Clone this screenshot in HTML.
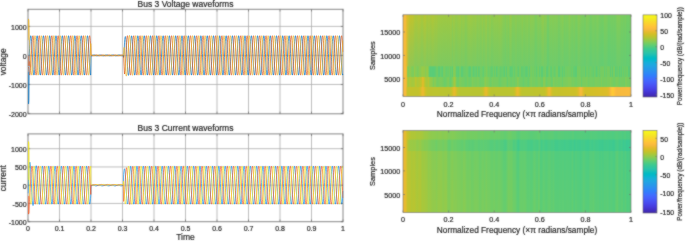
<!DOCTYPE html>
<html><head><meta charset="utf-8"><style>
html,body{margin:0;padding:0;background:#fff;width:685px;height:241px;overflow:hidden}
svg{display:block;will-change:transform}
text{font-family:"Liberation Sans",sans-serif;stroke:#555;stroke-width:0.24px;paint-order:stroke}
</style></head><body>
<svg width="685" height="241" viewBox="0 0 685 241" font-family="&quot;Liberation Sans&quot;, sans-serif">
<defs><filter id="soft" x="0" y="0" width="685" height="241" filterUnits="userSpaceOnUse" color-interpolation-filters="sRGB"><feConvolveMatrix order="3" kernelMatrix="1 2 1 2 16 2 1 2 1" divisor="28" edgeMode="duplicate"/></filter></defs><g filter="url(#soft)">
<rect width="685" height="241" fill="#fff"/>
<clipPath id="c9"><rect x="27.5" y="8.8" width="316.0" height="105.5"/></clipPath>
<path d="M59.50 9.3V113.8M91.00 9.3V113.8M122.50 9.3V113.8M154.00 9.3V113.8M185.50 9.3V113.8M217.00 9.3V113.8M248.50 9.3V113.8M280.00 9.3V113.8M311.50 9.3V113.8M28.0 26.40H343.0M28.0 55.43H343.0M28.0 84.46H343.0" stroke="#a8a8a8" stroke-width="0.75" fill="none"/>
<rect x="28.0" y="9.3" width="315.0" height="104.50" fill="none" stroke="#888" stroke-width="1.0"/>
</g>
<g clip-path="url(#c9)" fill="none" stroke-width="0.7" stroke-linejoin="round">
<path stroke="#0b74c0" d="M28.00 103.62L28.23 103.62L28.45 103.62L28.68 100.24L28.90 81.20L29.12 58.28L29.35 53.04L29.57 48.74L29.80 44.77L30.02 41.34L30.25 38.62L30.48 36.74L30.70 35.79L30.93 35.83L31.15 36.86L31.38 38.81L31.60 41.60L31.82 45.08L32.05 49.08L32.27 53.40L32.50 57.82L32.73 62.12L32.95 66.09L33.17 69.52L33.40 72.24L33.62 74.12L33.85 75.07L34.08 75.03L34.30 74.00L34.52 72.05L34.75 69.26L34.98 65.78L35.20 61.78L35.42 57.46L35.65 53.04L35.88 48.74L36.10 44.77L36.33 41.34L36.55 38.62L36.77 36.74L37.00 35.79L37.23 35.83L37.45 36.86L37.67 38.81L37.90 41.60L38.12 45.08L38.35 49.08L38.58 53.40L38.80 57.82L39.02 62.12L39.25 66.09L39.48 69.52L39.70 72.24L39.92 74.12L40.15 75.07L40.38 75.03L40.60 74.00L40.83 72.05L41.05 69.26L41.27 65.78L41.50 61.78L41.73 57.46L41.95 53.04L42.17 48.74L42.40 44.77L42.62 41.34L42.85 38.62L43.08 36.74L43.30 35.79L43.52 35.83L43.75 36.86L43.98 38.81L44.20 41.60L44.42 45.08L44.65 49.08L44.88 53.40L45.10 57.82L45.33 62.12L45.55 66.09L45.77 69.52L46.00 72.24L46.23 74.12L46.45 75.07L46.67 75.03L46.90 74.00L47.12 72.05L47.35 69.26L47.58 65.78L47.80 61.78L48.02 57.46L48.25 53.04L48.48 48.74L48.70 44.77L48.92 41.34L49.15 38.62L49.38 36.74L49.60 35.79L49.83 35.83L50.05 36.86L50.28 38.81L50.50 41.60L50.73 45.08L50.95 49.08L51.17 53.40L51.40 57.82L51.62 62.12L51.85 66.09L52.08 69.52L52.30 72.24L52.53 74.12L52.75 75.07L52.97 75.03L53.20 74.00L53.42 72.05L53.65 69.26L53.88 65.78L54.10 61.78L54.33 57.46L54.55 53.04L54.78 48.74L55.00 44.77L55.22 41.34L55.45 38.62L55.67 36.74L55.90 35.79L56.12 35.83L56.35 36.86L56.58 38.81L56.80 41.60L57.02 45.08L57.25 49.08L57.47 53.40L57.70 57.82L57.92 62.12L58.15 66.09L58.38 69.52L58.60 72.24L58.83 74.12L59.05 75.07L59.27 75.03L59.50 74.00L59.73 72.05L59.95 69.26L60.18 65.78L60.40 61.78L60.62 57.46L60.85 53.04L61.07 48.74L61.30 44.77L61.52 41.34L61.75 38.62L61.98 36.74L62.20 35.79L62.43 35.83L62.65 36.86L62.88 38.81L63.10 41.60L63.33 45.08L63.55 49.08L63.77 53.40L64.00 57.82L64.22 62.12L64.45 66.09L64.67 69.52L64.90 72.24L65.12 74.12L65.35 75.07L65.58 75.03L65.80 74.00L66.03 72.05L66.25 69.26L66.47 65.78L66.70 61.78L66.92 57.46L67.15 53.04L67.38 48.74L67.60 44.77L67.82 41.34L68.05 38.62L68.28 36.74L68.50 35.79L68.72 35.83L68.95 36.86L69.18 38.81L69.40 41.60L69.62 45.08L69.85 49.08L70.07 53.40L70.30 57.82L70.53 62.12L70.75 66.09L70.97 69.52L71.20 72.24L71.42 74.12L71.65 75.07L71.88 75.03L72.10 74.00L72.32 72.05L72.55 69.26L72.78 65.78L73.00 61.78L73.22 57.46L73.45 53.04L73.67 48.74L73.90 44.77L74.12 41.34L74.35 38.62L74.57 36.74L74.80 35.79L75.03 35.83L75.25 36.86L75.47 38.81L75.70 41.60L75.92 45.08L76.15 49.08L76.38 53.40L76.60 57.82L76.83 62.12L77.05 66.09L77.28 69.52L77.50 72.24L77.72 74.12L77.95 75.07L78.17 75.03L78.40 74.00L78.62 72.05L78.85 69.26L79.08 65.78L79.30 61.78L79.53 57.46L79.75 53.04L79.97 48.74L80.20 44.77L80.42 41.34L80.65 38.62L80.88 36.74L81.10 35.79L81.33 35.83L81.55 36.86L81.78 38.81L82.00 41.60L82.22 45.08L82.45 49.08L82.67 53.40L82.90 57.82L83.12 62.12L83.35 66.09L83.58 69.52L83.80 72.24L84.03 74.12L84.25 75.07L84.47 75.03L84.70 74.00L84.92 72.05L85.15 69.26L85.38 65.78L85.60 61.78L85.83 57.46L86.05 53.04L86.28 48.74L86.50 44.77L86.72 41.34L86.95 38.62L87.18 36.74L87.40 35.79L87.62 35.83L87.85 36.86L88.08 38.81L88.30 41.60L88.53 45.08L88.75 49.08L88.97 53.40L89.20 57.82L89.43 62.12L89.65 66.09L89.88 69.52L90.10 72.24L90.33 74.12L90.55 75.07L90.78 75.03L91.00 55.81L91.22 55.77L91.45 55.71L91.68 55.64L91.90 55.56L92.12 55.47L92.35 55.38L92.58 55.29L92.80 55.21L93.03 55.14L93.25 55.08L93.47 55.05L93.70 55.03L93.92 55.03L94.15 55.05L94.38 55.09L94.60 55.15L94.83 55.22L95.05 55.30L95.28 55.39L95.50 55.48L95.72 55.57L95.95 55.65L96.17 55.72L96.40 55.78L96.62 55.81L96.85 55.83L97.08 55.83L97.30 55.81L97.53 55.77L97.75 55.71L97.97 55.64L98.20 55.56L98.42 55.47L98.65 55.38L98.88 55.29L99.10 55.21L99.33 55.14L99.55 55.08L99.78 55.05L100.00 55.03L100.22 55.03L100.45 55.05L100.67 55.09L100.90 55.15L101.12 55.22L101.35 55.30L101.58 55.39L101.80 55.48L102.02 55.57L102.25 55.65L102.47 55.72L102.70 55.78L102.92 55.81L103.15 55.83L103.38 55.83L103.60 55.81L103.83 55.77L104.05 55.71L104.27 55.64L104.50 55.56L104.73 55.47L104.95 55.38L105.17 55.29L105.40 55.21L105.62 55.14L105.85 55.08L106.08 55.05L106.30 55.03L106.52 55.03L106.75 55.05L106.98 55.09L107.20 55.15L107.43 55.22L107.65 55.30L107.88 55.39L108.10 55.48L108.33 55.57L108.55 55.65L108.78 55.72L109.00 55.78L109.22 55.81L109.45 55.83L109.67 55.83L109.90 55.81L110.12 55.77L110.35 55.71L110.57 55.64L110.80 55.56L111.03 55.47L111.25 55.38L111.48 55.29L111.70 55.21L111.92 55.14L112.15 55.08L112.38 55.05L112.60 55.03L112.83 55.03L113.05 55.05L113.28 55.09L113.50 55.15L113.72 55.22L113.95 55.30L114.17 55.39L114.40 55.48L114.62 55.57L114.85 55.65L115.07 55.72L115.30 55.78L115.53 55.81L115.75 55.83L115.98 55.83L116.20 55.81L116.42 55.77L116.65 55.71L116.88 55.64L117.10 55.56L117.33 55.47L117.55 55.38L117.77 55.29L118.00 55.21L118.22 55.14L118.45 55.08L118.67 55.05L118.90 55.03L119.13 55.03L119.35 55.05L119.58 55.09L119.80 55.15L120.03 55.22L120.25 55.30L120.48 55.39L120.70 55.48L120.92 55.57L121.15 55.65L121.38 55.72L121.60 55.78L121.83 55.81L122.05 55.83L122.27 55.83L122.50 55.81L122.72 55.77L122.95 55.71L123.18 55.64L123.40 55.56L123.62 57.38L123.85 56.04L124.08 52.96L124.30 48.41L124.53 42.77L124.75 39.66L124.97 37.69L125.20 36.66L125.42 36.63L125.65 37.58L125.88 39.48L126.10 42.21L126.33 45.64L126.55 49.59L126.77 53.86L127.00 58.25L127.22 62.51L127.45 66.44L127.68 69.84L127.90 72.54L128.12 74.39L128.35 75.31L128.57 75.25L128.80 74.21L129.03 72.24L129.25 69.43L129.47 65.94L129.70 61.92L129.93 57.59L130.15 53.16L130.38 48.85L130.60 44.88L130.82 41.44L131.05 38.70L131.27 36.82L131.50 35.87L131.73 35.90L131.95 36.92L132.18 38.87L132.40 41.65L132.62 45.13L132.85 49.12L133.07 53.44L133.30 57.86L133.53 62.15L133.75 66.11L133.97 69.54L134.20 72.26L134.43 74.14L134.65 75.09L134.88 75.04L135.10 74.02L135.32 72.06L135.55 69.27L135.77 65.79L136.00 61.79L136.23 57.47L136.45 53.05L136.68 48.75L136.90 44.78L137.12 41.35L137.35 38.63L137.57 36.74L137.80 35.80L138.03 35.84L138.25 36.86L138.47 38.82L138.70 41.60L138.93 45.09L139.15 49.09L139.38 53.40L139.60 57.82L139.82 62.12L140.05 66.09L140.28 69.52L140.50 72.24L140.73 74.12L140.95 75.07L141.18 75.03L141.40 74.00L141.62 72.05L141.85 69.26L142.07 65.78L142.30 61.78L142.52 57.46L142.75 53.04L142.97 48.74L143.20 44.77L143.43 41.34L143.65 38.62L143.88 36.74L144.10 35.79L144.32 35.84L144.55 36.86L144.78 38.81L145.00 41.60L145.23 45.08L145.45 49.08L145.68 53.40L145.90 57.82L146.12 62.12L146.35 66.09L146.57 69.52L146.80 72.24L147.02 74.12L147.25 75.07L147.47 75.03L147.70 74.00L147.93 72.05L148.15 69.26L148.38 65.78L148.60 61.78L148.82 57.46L149.05 53.04L149.28 48.74L149.50 44.77L149.73 41.34L149.95 38.62L150.18 36.74L150.40 35.79L150.62 35.83L150.85 36.86L151.07 38.81L151.30 41.60L151.52 45.08L151.75 49.08L151.97 53.40L152.20 57.82L152.43 62.12L152.65 66.09L152.88 69.52L153.10 72.24L153.32 74.12L153.55 75.07L153.78 75.03L154.00 74.00L154.22 72.05L154.45 69.26L154.68 65.78L154.90 61.78L155.12 57.46L155.35 53.04L155.57 48.74L155.80 44.77L156.03 41.34L156.25 38.62L156.47 36.74L156.70 35.79L156.93 35.83L157.15 36.86L157.38 38.81L157.60 41.60L157.82 45.08L158.05 49.08L158.28 53.40L158.50 57.82L158.72 62.12L158.95 66.09L159.18 69.52L159.40 72.24L159.62 74.12L159.85 75.07L160.07 75.03L160.30 74.00L160.53 72.05L160.75 69.26L160.97 65.78L161.20 61.78L161.43 57.46L161.65 53.04L161.88 48.74L162.10 44.77L162.32 41.34L162.55 38.62L162.78 36.74L163.00 35.79L163.22 35.83L163.45 36.86L163.68 38.81L163.90 41.60L164.12 45.08L164.35 49.08L164.57 53.40L164.80 57.82L165.03 62.12L165.25 66.09L165.47 69.52L165.70 72.24L165.92 74.12L166.15 75.07L166.38 75.03L166.60 74.00L166.83 72.05L167.05 69.26L167.27 65.78L167.50 61.78L167.72 57.46L167.95 53.04L168.18 48.74L168.40 44.77L168.62 41.34L168.85 38.62L169.07 36.74L169.30 35.79L169.53 35.83L169.75 36.86L169.97 38.81L170.20 41.60L170.42 45.08L170.65 49.08L170.88 53.40L171.10 57.82L171.33 62.12L171.55 66.09L171.78 69.52L172.00 72.24L172.22 74.12L172.45 75.07L172.68 75.03L172.90 74.00L173.12 72.05L173.35 69.26L173.57 65.78L173.80 61.78L174.03 57.46L174.25 53.04L174.47 48.74L174.70 44.77L174.92 41.34L175.15 38.62L175.38 36.74L175.60 35.79L175.83 35.83L176.05 36.86L176.28 38.81L176.50 41.60L176.72 45.08L176.95 49.08L177.18 53.40L177.40 57.82L177.62 62.12L177.85 66.09L178.07 69.52L178.30 72.24L178.53 74.12L178.75 75.07L178.97 75.03L179.20 74.00L179.42 72.05L179.65 69.26L179.88 65.78L180.10 61.78L180.33 57.46L180.55 53.04L180.78 48.74L181.00 44.77L181.22 41.34L181.45 38.62L181.68 36.74L181.90 35.79L182.12 35.83L182.35 36.86L182.57 38.81L182.80 41.60L183.03 45.08L183.25 49.08L183.47 53.40L183.70 57.82L183.93 62.12L184.15 66.09L184.38 69.52L184.60 72.24L184.82 74.12L185.05 75.07L185.28 75.03L185.50 74.00L185.72 72.05L185.95 69.26L186.17 65.78L186.40 61.78L186.62 57.46L186.85 53.04L187.07 48.74L187.30 44.77L187.53 41.34L187.75 38.62L187.98 36.74L188.20 35.79L188.42 35.83L188.65 36.86L188.88 38.81L189.10 41.60L189.32 45.08L189.55 49.08L189.78 53.40L190.00 57.82L190.22 62.12L190.45 66.09L190.68 69.52L190.90 72.24L191.13 74.12L191.35 75.07L191.57 75.03L191.80 74.00L192.02 72.05L192.25 69.26L192.47 65.78L192.70 61.78L192.93 57.46L193.15 53.04L193.38 48.74L193.60 44.77L193.83 41.34L194.05 38.62L194.27 36.74L194.50 35.79L194.72 35.83L194.95 36.86L195.17 38.81L195.40 41.60L195.62 45.08L195.85 49.08L196.08 53.40L196.30 57.82L196.53 62.12L196.75 66.09L196.98 69.52L197.20 72.24L197.42 74.12L197.65 75.07L197.88 75.03L198.10 74.00L198.32 72.05L198.55 69.26L198.78 65.78L199.00 61.78L199.22 57.46L199.45 53.04L199.68 48.74L199.90 44.77L200.12 41.34L200.35 38.62L200.57 36.74L200.80 35.79L201.03 35.83L201.25 36.86L201.47 38.81L201.70 41.60L201.93 45.08L202.15 49.08L202.38 53.40L202.60 57.82L202.83 62.12L203.05 66.09L203.27 69.52L203.50 72.24L203.72 74.12L203.95 75.07L204.17 75.03L204.40 74.00L204.62 72.05L204.85 69.26L205.08 65.78L205.30 61.78L205.53 57.46L205.75 53.04L205.97 48.74L206.20 44.77L206.42 41.34L206.65 38.62L206.88 36.74L207.10 35.79L207.32 35.83L207.55 36.86L207.78 38.81L208.00 41.60L208.23 45.08L208.45 49.08L208.68 53.40L208.90 57.82L209.12 62.12L209.35 66.09L209.57 69.52L209.80 72.24L210.03 74.12L210.25 75.07L210.47 75.03L210.70 74.00L210.93 72.05L211.15 69.26L211.38 65.78L211.60 61.78L211.82 57.46L212.05 53.04L212.27 48.74L212.50 44.77L212.72 41.34L212.95 38.62L213.18 36.74L213.40 35.79L213.62 35.83L213.85 36.86L214.08 38.81L214.30 41.60L214.53 45.08L214.75 49.08L214.97 53.40L215.20 57.82L215.42 62.12L215.65 66.09L215.88 69.52L216.10 72.24L216.32 74.12L216.55 75.07L216.78 75.03L217.00 74.00L217.23 72.05L217.45 69.26L217.67 65.78L217.90 61.78L218.12 57.46L218.35 53.04L218.57 48.74L218.80 44.77L219.03 41.34L219.25 38.62L219.47 36.74L219.70 35.79L219.93 35.83L220.15 36.86L220.38 38.81L220.60 41.60L220.82 45.08L221.05 49.08L221.28 53.40L221.50 57.82L221.72 62.12L221.95 66.09L222.18 69.52L222.40 72.24L222.62 74.12L222.85 75.07L223.08 75.03L223.30 74.00L223.52 72.05L223.75 69.26L223.97 65.78L224.20 61.78L224.42 57.46L224.65 53.04L224.88 48.74L225.10 44.77L225.33 41.34L225.55 38.62L225.78 36.74L226.00 35.79L226.23 35.83L226.45 36.86L226.67 38.81L226.90 41.60L227.12 45.08L227.35 49.08L227.57 53.40L227.80 57.82L228.03 62.12L228.25 66.09L228.47 69.52L228.70 72.24L228.93 74.12L229.15 75.07L229.37 75.03L229.60 74.00L229.82 72.05L230.05 69.26L230.28 65.78L230.50 61.78L230.72 57.46L230.95 53.04L231.18 48.74L231.40 44.77L231.62 41.34L231.85 38.62L232.08 36.74L232.30 35.79L232.52 35.83L232.75 36.86L232.97 38.81L233.20 41.60L233.43 45.08L233.65 49.08L233.88 53.40L234.10 57.82L234.33 62.12L234.55 66.09L234.78 69.52L235.00 72.24L235.22 74.12L235.45 75.07L235.67 75.03L235.90 74.00L236.12 72.05L236.35 69.26L236.57 65.78L236.80 61.78L237.03 57.46L237.25 53.04L237.48 48.74L237.70 44.77L237.93 41.34L238.15 38.62L238.38 36.74L238.60 35.79L238.82 35.83L239.05 36.86L239.28 38.81L239.50 41.60L239.72 45.08L239.95 49.08L240.18 53.40L240.40 57.82L240.62 62.12L240.85 66.09L241.07 69.52L241.30 72.24L241.52 74.12L241.75 75.07L241.97 75.03L242.20 74.00L242.43 72.05L242.65 69.26L242.88 65.78L243.10 61.78L243.33 57.46L243.55 53.04L243.78 48.74L244.00 44.77L244.22 41.34L244.45 38.62L244.67 36.74L244.90 35.79L245.12 35.83L245.35 36.86L245.58 38.81L245.80 41.60L246.03 45.08L246.25 49.08L246.48 53.40L246.70 57.82L246.92 62.12L247.15 66.09L247.38 69.52L247.60 72.24L247.82 74.12L248.05 75.07L248.28 75.03L248.50 74.00L248.72 72.05L248.95 69.26L249.18 65.78L249.40 61.78L249.63 57.46L249.85 53.04L250.07 48.74L250.30 44.77L250.53 41.34L250.75 38.62L250.97 36.74L251.20 35.79L251.43 35.83L251.65 36.86L251.88 38.81L252.10 41.60L252.33 45.08L252.55 49.08L252.77 53.40L253.00 57.82L253.22 62.12L253.45 66.09L253.67 69.52L253.90 72.24L254.12 74.12L254.35 75.07L254.58 75.03L254.80 74.00L255.03 72.05L255.25 69.26L255.48 65.78L255.70 61.78L255.92 57.46L256.15 53.04L256.38 48.74L256.60 44.77L256.82 41.34L257.05 38.62L257.27 36.74L257.50 35.79L257.73 35.83L257.95 36.86L258.18 38.81L258.40 41.60L258.62 45.08L258.85 49.08L259.07 53.40L259.30 57.82L259.52 62.12L259.75 66.09L259.98 69.52L260.20 72.24L260.43 74.12L260.65 75.07L260.88 75.03L261.10 74.00L261.32 72.05L261.55 69.26L261.77 65.78L262.00 61.78L262.23 57.46L262.45 53.04L262.68 48.74L262.90 44.77L263.12 41.34L263.35 38.62L263.58 36.74L263.80 35.79L264.02 35.83L264.25 36.86L264.48 38.81L264.70 41.60L264.92 45.08L265.15 49.08L265.38 53.40L265.60 57.82L265.82 62.12L266.05 66.09L266.27 69.52L266.50 72.24L266.73 74.12L266.95 75.07L267.17 75.03L267.40 74.00L267.62 72.05L267.85 69.26L268.07 65.78L268.30 61.78L268.52 57.46L268.75 53.04L268.98 48.74L269.20 44.77L269.43 41.34L269.65 38.62L269.88 36.74L270.10 35.79L270.32 35.83L270.55 36.86L270.77 38.81L271.00 41.60L271.23 45.08L271.45 49.08L271.68 53.40L271.90 57.82L272.12 62.12L272.35 66.09L272.58 69.52L272.80 72.24L273.02 74.12L273.25 75.07L273.48 75.03L273.70 74.00L273.92 72.05L274.15 69.26L274.38 65.78L274.60 61.78L274.83 57.46L275.05 53.04L275.27 48.74L275.50 44.77L275.73 41.34L275.95 38.62L276.17 36.74L276.40 35.79L276.62 35.83L276.85 36.86L277.07 38.81L277.30 41.60L277.52 45.08L277.75 49.08L277.98 53.40L278.20 57.82L278.43 62.12L278.65 66.09L278.88 69.52L279.10 72.24L279.32 74.12L279.55 75.07L279.77 75.03L280.00 74.00L280.23 72.05L280.45 69.26L280.68 65.78L280.90 61.78L281.12 57.46L281.35 53.04L281.58 48.74L281.80 44.77L282.02 41.34L282.25 38.62L282.48 36.74L282.70 35.79L282.92 35.83L283.15 36.86L283.38 38.81L283.60 41.60L283.83 45.08L284.05 49.08L284.28 53.40L284.50 57.82L284.72 62.12L284.95 66.09L285.18 69.52L285.40 72.24L285.62 74.12L285.85 75.07L286.07 75.03L286.30 74.00L286.52 72.05L286.75 69.26L286.98 65.78L287.20 61.78L287.43 57.46L287.65 53.04L287.88 48.74L288.10 44.77L288.32 41.34L288.55 38.62L288.77 36.74L289.00 35.79L289.23 35.83L289.45 36.86L289.68 38.81L289.90 41.60L290.12 45.08L290.35 49.08L290.57 53.40L290.80 57.82L291.02 62.12L291.25 66.09L291.47 69.52L291.70 72.24L291.93 74.12L292.15 75.07L292.38 75.03L292.60 74.00L292.82 72.05L293.05 69.26L293.28 65.78L293.50 61.78L293.72 57.46L293.95 53.04L294.18 48.74L294.40 44.77L294.62 41.34L294.85 38.62L295.07 36.74L295.30 35.79L295.53 35.83L295.75 36.86L295.98 38.81L296.20 41.60L296.43 45.08L296.65 49.08L296.88 53.40L297.10 57.82L297.32 62.12L297.55 66.09L297.77 69.52L298.00 72.24L298.23 74.12L298.45 75.07L298.68 75.03L298.90 74.00L299.12 72.05L299.35 69.26L299.57 65.78L299.80 61.78L300.02 57.46L300.25 53.04L300.48 48.74L300.70 44.77L300.93 41.34L301.15 38.62L301.38 36.74L301.60 35.79L301.82 35.83L302.05 36.86L302.27 38.81L302.50 41.60L302.72 45.08L302.95 49.08L303.18 53.40L303.40 57.82L303.62 62.12L303.85 66.09L304.07 69.52L304.30 72.24L304.53 74.12L304.75 75.07L304.98 75.03L305.20 74.00L305.43 72.05L305.65 69.26L305.88 65.78L306.10 61.78L306.32 57.46L306.55 53.04L306.77 48.74L307.00 44.77L307.23 41.34L307.45 38.62L307.68 36.74L307.90 35.79L308.12 35.83L308.35 36.86L308.57 38.81L308.80 41.60L309.02 45.08L309.25 49.08L309.48 53.40L309.70 57.82L309.93 62.12L310.15 66.09L310.38 69.52L310.60 72.24L310.82 74.12L311.05 75.07L311.27 75.03L311.50 74.00L311.72 72.05L311.95 69.26L312.18 65.78L312.40 61.78L312.62 57.46L312.85 53.04L313.07 48.74L313.30 44.77L313.53 41.34L313.75 38.62L313.97 36.74L314.20 35.79L314.43 35.83L314.65 36.86L314.88 38.81L315.10 41.60L315.32 45.08L315.55 49.08L315.78 53.40L316.00 57.82L316.23 62.12L316.45 66.09L316.68 69.52L316.90 72.24L317.12 74.12L317.35 75.07L317.57 75.03L317.80 74.00L318.02 72.05L318.25 69.26L318.48 65.78L318.70 61.78L318.93 57.46L319.15 53.04L319.38 48.74L319.60 44.77L319.82 41.34L320.05 38.62L320.27 36.74L320.50 35.79L320.73 35.83L320.95 36.86L321.18 38.81L321.40 41.60L321.62 45.08L321.85 49.08L322.07 53.40L322.30 57.82L322.53 62.12L322.75 66.09L322.97 69.52L323.20 72.24L323.43 74.12L323.65 75.07L323.88 75.03L324.10 74.00L324.32 72.05L324.55 69.26L324.78 65.78L325.00 61.78L325.23 57.46L325.45 53.04L325.68 48.74L325.90 44.77L326.12 41.34L326.35 38.62L326.57 36.74L326.80 35.79L327.02 35.83L327.25 36.86L327.48 38.81L327.70 41.60L327.93 45.08L328.15 49.08L328.38 53.40L328.60 57.82L328.82 62.12L329.05 66.09L329.27 69.52L329.50 72.24L329.73 74.12L329.95 75.07L330.18 75.03L330.40 74.00L330.62 72.05L330.85 69.26L331.07 65.78L331.30 61.78L331.52 57.46L331.75 53.04L331.97 48.74L332.20 44.77L332.43 41.34L332.65 38.62L332.88 36.74L333.10 35.79L333.32 35.83L333.55 36.86L333.78 38.81L334.00 41.60L334.23 45.08L334.45 49.08L334.68 53.40L334.90 57.82L335.12 62.12L335.35 66.09L335.57 69.52L335.80 72.24L336.02 74.12L336.25 75.07L336.48 75.03L336.70 74.00L336.93 72.05L337.15 69.26L337.38 65.78L337.60 61.78L337.82 57.46L338.05 53.04L338.27 48.74L338.50 44.77L338.73 41.34L338.95 38.62L339.18 36.74L339.40 35.79L339.62 35.83L339.85 36.86L340.07 38.81L340.30 41.60L340.52 45.08L340.75 49.08L340.97 53.40L341.20 57.82L341.43 62.12L341.65 66.09L341.88 69.52L342.10 72.24L342.32 74.12L342.55 75.07L342.78 75.03L343.00 74.00"/>
<path stroke="#db5b22" d="M28.00 67.62L28.23 67.62L28.45 67.62L28.68 67.37L28.90 68.06L29.12 71.35L29.35 73.60L29.57 74.86L29.80 75.15L30.02 74.45L30.25 72.80L30.48 70.27L30.70 67.01L30.93 63.16L31.15 58.92L31.38 54.51L31.60 50.15L31.82 46.05L32.05 42.42L32.27 39.44L32.50 37.26L32.73 36.00L32.95 35.71L33.17 36.41L33.40 38.06L33.62 40.59L33.85 43.85L34.08 47.70L34.30 51.94L34.52 56.35L34.75 60.71L34.98 64.81L35.20 68.44L35.42 71.42L35.65 73.60L35.88 74.86L36.10 75.15L36.33 74.45L36.55 72.80L36.77 70.27L37.00 67.01L37.23 63.16L37.45 58.92L37.67 54.51L37.90 50.15L38.12 46.05L38.35 42.42L38.58 39.44L38.80 37.26L39.02 36.00L39.25 35.71L39.48 36.41L39.70 38.06L39.92 40.59L40.15 43.85L40.38 47.70L40.60 51.94L40.83 56.35L41.05 60.71L41.27 64.81L41.50 68.44L41.73 71.42L41.95 73.60L42.17 74.86L42.40 75.15L42.62 74.45L42.85 72.80L43.08 70.27L43.30 67.01L43.52 63.16L43.75 58.92L43.98 54.51L44.20 50.15L44.42 46.05L44.65 42.42L44.88 39.44L45.10 37.26L45.33 36.00L45.55 35.71L45.77 36.41L46.00 38.06L46.23 40.59L46.45 43.85L46.67 47.70L46.90 51.94L47.12 56.35L47.35 60.71L47.58 64.81L47.80 68.44L48.02 71.42L48.25 73.60L48.48 74.86L48.70 75.15L48.92 74.45L49.15 72.80L49.38 70.27L49.60 67.01L49.83 63.16L50.05 58.92L50.28 54.51L50.50 50.15L50.73 46.05L50.95 42.42L51.17 39.44L51.40 37.26L51.62 36.00L51.85 35.71L52.08 36.41L52.30 38.06L52.53 40.59L52.75 43.85L52.97 47.70L53.20 51.94L53.42 56.35L53.65 60.71L53.88 64.81L54.10 68.44L54.33 71.42L54.55 73.60L54.78 74.86L55.00 75.15L55.22 74.45L55.45 72.80L55.67 70.27L55.90 67.01L56.12 63.16L56.35 58.92L56.58 54.51L56.80 50.15L57.02 46.05L57.25 42.42L57.47 39.44L57.70 37.26L57.92 36.00L58.15 35.71L58.38 36.41L58.60 38.06L58.83 40.59L59.05 43.85L59.27 47.70L59.50 51.94L59.73 56.35L59.95 60.71L60.18 64.81L60.40 68.44L60.62 71.42L60.85 73.60L61.07 74.86L61.30 75.15L61.52 74.45L61.75 72.80L61.98 70.27L62.20 67.01L62.43 63.16L62.65 58.92L62.88 54.51L63.10 50.15L63.33 46.05L63.55 42.42L63.77 39.44L64.00 37.26L64.22 36.00L64.45 35.71L64.67 36.41L64.90 38.06L65.12 40.59L65.35 43.85L65.58 47.70L65.80 51.94L66.03 56.35L66.25 60.71L66.47 64.81L66.70 68.44L66.92 71.42L67.15 73.60L67.38 74.86L67.60 75.15L67.82 74.45L68.05 72.80L68.28 70.27L68.50 67.01L68.72 63.16L68.95 58.92L69.18 54.51L69.40 50.15L69.62 46.05L69.85 42.42L70.07 39.44L70.30 37.26L70.53 36.00L70.75 35.71L70.97 36.41L71.20 38.06L71.42 40.59L71.65 43.85L71.88 47.70L72.10 51.94L72.32 56.35L72.55 60.71L72.78 64.81L73.00 68.44L73.22 71.42L73.45 73.60L73.67 74.86L73.90 75.15L74.12 74.45L74.35 72.80L74.57 70.27L74.80 67.01L75.03 63.16L75.25 58.92L75.47 54.51L75.70 50.15L75.92 46.05L76.15 42.42L76.38 39.44L76.60 37.26L76.83 36.00L77.05 35.71L77.28 36.41L77.50 38.06L77.72 40.59L77.95 43.85L78.17 47.70L78.40 51.94L78.62 56.35L78.85 60.71L79.08 64.81L79.30 68.44L79.53 71.42L79.75 73.60L79.97 74.86L80.20 75.15L80.42 74.45L80.65 72.80L80.88 70.27L81.10 67.01L81.33 63.16L81.55 58.92L81.78 54.51L82.00 50.15L82.22 46.05L82.45 42.42L82.67 39.44L82.90 37.26L83.12 36.00L83.35 35.71L83.58 36.41L83.80 38.06L84.03 40.59L84.25 43.85L84.47 47.70L84.70 51.94L84.92 56.35L85.15 60.71L85.38 64.81L85.60 68.44L85.83 71.42L86.05 73.60L86.28 74.86L86.50 75.15L86.72 74.45L86.95 72.80L87.18 70.27L87.40 67.01L87.62 63.16L87.85 58.92L88.08 54.51L88.30 50.15L88.53 46.05L88.75 42.42L88.97 39.44L89.20 37.26L89.43 36.00L89.65 35.71L89.88 36.41L90.10 38.06L90.33 40.59L90.55 43.85L90.78 47.70L91.00 55.36L91.22 55.45L91.45 55.54L91.68 55.62L91.90 55.70L92.12 55.76L92.35 55.80L92.58 55.83L92.80 55.84L93.03 55.82L93.25 55.79L93.47 55.74L93.70 55.67L93.92 55.59L94.15 55.50L94.38 55.41L94.60 55.32L94.83 55.24L95.05 55.16L95.28 55.10L95.50 55.06L95.72 55.03L95.95 55.02L96.17 55.04L96.40 55.07L96.62 55.12L96.85 55.19L97.08 55.27L97.30 55.36L97.53 55.45L97.75 55.54L97.97 55.62L98.20 55.70L98.42 55.76L98.65 55.80L98.88 55.83L99.10 55.84L99.33 55.82L99.55 55.79L99.78 55.74L100.00 55.67L100.22 55.59L100.45 55.50L100.67 55.41L100.90 55.32L101.12 55.24L101.35 55.16L101.58 55.10L101.80 55.06L102.02 55.03L102.25 55.02L102.47 55.04L102.70 55.07L102.92 55.12L103.15 55.19L103.38 55.27L103.60 55.36L103.83 55.45L104.05 55.54L104.27 55.62L104.50 55.70L104.73 55.76L104.95 55.80L105.17 55.83L105.40 55.84L105.62 55.82L105.85 55.79L106.08 55.74L106.30 55.67L106.52 55.59L106.75 55.50L106.98 55.41L107.20 55.32L107.43 55.24L107.65 55.16L107.88 55.10L108.10 55.06L108.33 55.03L108.55 55.02L108.78 55.04L109.00 55.07L109.22 55.12L109.45 55.19L109.67 55.27L109.90 55.36L110.12 55.45L110.35 55.54L110.57 55.62L110.80 55.70L111.03 55.76L111.25 55.80L111.48 55.83L111.70 55.84L111.92 55.82L112.15 55.79L112.38 55.74L112.60 55.67L112.83 55.59L113.05 55.50L113.28 55.41L113.50 55.32L113.72 55.24L113.95 55.16L114.17 55.10L114.40 55.06L114.62 55.03L114.85 55.02L115.07 55.04L115.30 55.07L115.53 55.12L115.75 55.19L115.98 55.27L116.20 55.36L116.42 55.45L116.65 55.54L116.88 55.62L117.10 55.70L117.33 55.76L117.55 55.80L117.77 55.83L118.00 55.84L118.22 55.82L118.45 55.79L118.67 55.74L118.90 55.67L119.13 55.59L119.35 55.50L119.58 55.41L119.80 55.32L120.03 55.24L120.25 55.16L120.48 55.10L120.70 55.06L120.92 55.03L121.15 55.02L121.38 55.04L121.60 55.07L121.83 55.12L122.05 55.19L122.27 55.27L122.50 55.36L122.72 55.45L122.95 55.54L123.18 55.62L123.40 55.70L123.62 58.04L123.85 62.10L124.08 66.53L124.30 70.72L124.53 74.06L124.75 72.80L124.97 70.27L125.20 67.01L125.42 63.16L125.65 58.92L125.88 54.51L126.10 50.15L126.33 46.05L126.55 42.42L126.77 39.44L127.00 37.26L127.22 36.00L127.45 35.71L127.68 36.41L127.90 38.06L128.12 40.59L128.35 43.85L128.57 47.70L128.80 51.94L129.03 56.35L129.25 60.71L129.47 64.81L129.70 68.44L129.93 71.42L130.15 73.60L130.38 74.86L130.60 75.15L130.82 74.45L131.05 72.80L131.27 70.27L131.50 67.01L131.73 63.16L131.95 58.92L132.18 54.51L132.40 50.15L132.62 46.05L132.85 42.42L133.07 39.44L133.30 37.26L133.53 36.00L133.75 35.71L133.97 36.41L134.20 38.06L134.43 40.59L134.65 43.85L134.88 47.70L135.10 51.94L135.32 56.35L135.55 60.71L135.77 64.81L136.00 68.44L136.23 71.42L136.45 73.60L136.68 74.86L136.90 75.15L137.12 74.45L137.35 72.80L137.57 70.27L137.80 67.01L138.03 63.16L138.25 58.92L138.47 54.51L138.70 50.15L138.93 46.05L139.15 42.42L139.38 39.44L139.60 37.26L139.82 36.00L140.05 35.71L140.28 36.41L140.50 38.06L140.73 40.59L140.95 43.85L141.18 47.70L141.40 51.94L141.62 56.35L141.85 60.71L142.07 64.81L142.30 68.44L142.52 71.42L142.75 73.60L142.97 74.86L143.20 75.15L143.43 74.45L143.65 72.80L143.88 70.27L144.10 67.01L144.32 63.16L144.55 58.92L144.78 54.51L145.00 50.15L145.23 46.05L145.45 42.42L145.68 39.44L145.90 37.26L146.12 36.00L146.35 35.71L146.57 36.41L146.80 38.06L147.02 40.59L147.25 43.85L147.47 47.70L147.70 51.94L147.93 56.35L148.15 60.71L148.38 64.81L148.60 68.44L148.82 71.42L149.05 73.60L149.28 74.86L149.50 75.15L149.73 74.45L149.95 72.80L150.18 70.27L150.40 67.01L150.62 63.16L150.85 58.92L151.07 54.51L151.30 50.15L151.52 46.05L151.75 42.42L151.97 39.44L152.20 37.26L152.43 36.00L152.65 35.71L152.88 36.41L153.10 38.06L153.32 40.59L153.55 43.85L153.78 47.70L154.00 51.94L154.22 56.35L154.45 60.71L154.68 64.81L154.90 68.44L155.12 71.42L155.35 73.60L155.57 74.86L155.80 75.15L156.03 74.45L156.25 72.80L156.47 70.27L156.70 67.01L156.93 63.16L157.15 58.92L157.38 54.51L157.60 50.15L157.82 46.05L158.05 42.42L158.28 39.44L158.50 37.26L158.72 36.00L158.95 35.71L159.18 36.41L159.40 38.06L159.62 40.59L159.85 43.85L160.07 47.70L160.30 51.94L160.53 56.35L160.75 60.71L160.97 64.81L161.20 68.44L161.43 71.42L161.65 73.60L161.88 74.86L162.10 75.15L162.32 74.45L162.55 72.80L162.78 70.27L163.00 67.01L163.22 63.16L163.45 58.92L163.68 54.51L163.90 50.15L164.12 46.05L164.35 42.42L164.57 39.44L164.80 37.26L165.03 36.00L165.25 35.71L165.47 36.41L165.70 38.06L165.92 40.59L166.15 43.85L166.38 47.70L166.60 51.94L166.83 56.35L167.05 60.71L167.27 64.81L167.50 68.44L167.72 71.42L167.95 73.60L168.18 74.86L168.40 75.15L168.62 74.45L168.85 72.80L169.07 70.27L169.30 67.01L169.53 63.16L169.75 58.92L169.97 54.51L170.20 50.15L170.42 46.05L170.65 42.42L170.88 39.44L171.10 37.26L171.33 36.00L171.55 35.71L171.78 36.41L172.00 38.06L172.22 40.59L172.45 43.85L172.68 47.70L172.90 51.94L173.12 56.35L173.35 60.71L173.57 64.81L173.80 68.44L174.03 71.42L174.25 73.60L174.47 74.86L174.70 75.15L174.92 74.45L175.15 72.80L175.38 70.27L175.60 67.01L175.83 63.16L176.05 58.92L176.28 54.51L176.50 50.15L176.72 46.05L176.95 42.42L177.18 39.44L177.40 37.26L177.62 36.00L177.85 35.71L178.07 36.41L178.30 38.06L178.53 40.59L178.75 43.85L178.97 47.70L179.20 51.94L179.42 56.35L179.65 60.71L179.88 64.81L180.10 68.44L180.33 71.42L180.55 73.60L180.78 74.86L181.00 75.15L181.22 74.45L181.45 72.80L181.68 70.27L181.90 67.01L182.12 63.16L182.35 58.92L182.57 54.51L182.80 50.15L183.03 46.05L183.25 42.42L183.47 39.44L183.70 37.26L183.93 36.00L184.15 35.71L184.38 36.41L184.60 38.06L184.82 40.59L185.05 43.85L185.28 47.70L185.50 51.94L185.72 56.35L185.95 60.71L186.17 64.81L186.40 68.44L186.62 71.42L186.85 73.60L187.07 74.86L187.30 75.15L187.53 74.45L187.75 72.80L187.98 70.27L188.20 67.01L188.42 63.16L188.65 58.92L188.88 54.51L189.10 50.15L189.32 46.05L189.55 42.42L189.78 39.44L190.00 37.26L190.22 36.00L190.45 35.71L190.68 36.41L190.90 38.06L191.13 40.59L191.35 43.85L191.57 47.70L191.80 51.94L192.02 56.35L192.25 60.71L192.47 64.81L192.70 68.44L192.93 71.42L193.15 73.60L193.38 74.86L193.60 75.15L193.83 74.45L194.05 72.80L194.27 70.27L194.50 67.01L194.72 63.16L194.95 58.92L195.17 54.51L195.40 50.15L195.62 46.05L195.85 42.42L196.08 39.44L196.30 37.26L196.53 36.00L196.75 35.71L196.98 36.41L197.20 38.06L197.42 40.59L197.65 43.85L197.88 47.70L198.10 51.94L198.32 56.35L198.55 60.71L198.78 64.81L199.00 68.44L199.22 71.42L199.45 73.60L199.68 74.86L199.90 75.15L200.12 74.45L200.35 72.80L200.57 70.27L200.80 67.01L201.03 63.16L201.25 58.92L201.47 54.51L201.70 50.15L201.93 46.05L202.15 42.42L202.38 39.44L202.60 37.26L202.83 36.00L203.05 35.71L203.27 36.41L203.50 38.06L203.72 40.59L203.95 43.85L204.17 47.70L204.40 51.94L204.62 56.35L204.85 60.71L205.08 64.81L205.30 68.44L205.53 71.42L205.75 73.60L205.97 74.86L206.20 75.15L206.42 74.45L206.65 72.80L206.88 70.27L207.10 67.01L207.32 63.16L207.55 58.92L207.78 54.51L208.00 50.15L208.23 46.05L208.45 42.42L208.68 39.44L208.90 37.26L209.12 36.00L209.35 35.71L209.57 36.41L209.80 38.06L210.03 40.59L210.25 43.85L210.47 47.70L210.70 51.94L210.93 56.35L211.15 60.71L211.38 64.81L211.60 68.44L211.82 71.42L212.05 73.60L212.27 74.86L212.50 75.15L212.72 74.45L212.95 72.80L213.18 70.27L213.40 67.01L213.62 63.16L213.85 58.92L214.08 54.51L214.30 50.15L214.53 46.05L214.75 42.42L214.97 39.44L215.20 37.26L215.42 36.00L215.65 35.71L215.88 36.41L216.10 38.06L216.32 40.59L216.55 43.85L216.78 47.70L217.00 51.94L217.23 56.35L217.45 60.71L217.67 64.81L217.90 68.44L218.12 71.42L218.35 73.60L218.57 74.86L218.80 75.15L219.03 74.45L219.25 72.80L219.47 70.27L219.70 67.01L219.93 63.16L220.15 58.92L220.38 54.51L220.60 50.15L220.82 46.05L221.05 42.42L221.28 39.44L221.50 37.26L221.72 36.00L221.95 35.71L222.18 36.41L222.40 38.06L222.62 40.59L222.85 43.85L223.08 47.70L223.30 51.94L223.52 56.35L223.75 60.71L223.97 64.81L224.20 68.44L224.42 71.42L224.65 73.60L224.88 74.86L225.10 75.15L225.33 74.45L225.55 72.80L225.78 70.27L226.00 67.01L226.23 63.16L226.45 58.92L226.67 54.51L226.90 50.15L227.12 46.05L227.35 42.42L227.57 39.44L227.80 37.26L228.03 36.00L228.25 35.71L228.47 36.41L228.70 38.06L228.93 40.59L229.15 43.85L229.37 47.70L229.60 51.94L229.82 56.35L230.05 60.71L230.28 64.81L230.50 68.44L230.72 71.42L230.95 73.60L231.18 74.86L231.40 75.15L231.62 74.45L231.85 72.80L232.08 70.27L232.30 67.01L232.52 63.16L232.75 58.92L232.97 54.51L233.20 50.15L233.43 46.05L233.65 42.42L233.88 39.44L234.10 37.26L234.33 36.00L234.55 35.71L234.78 36.41L235.00 38.06L235.22 40.59L235.45 43.85L235.67 47.70L235.90 51.94L236.12 56.35L236.35 60.71L236.57 64.81L236.80 68.44L237.03 71.42L237.25 73.60L237.48 74.86L237.70 75.15L237.93 74.45L238.15 72.80L238.38 70.27L238.60 67.01L238.82 63.16L239.05 58.92L239.28 54.51L239.50 50.15L239.72 46.05L239.95 42.42L240.18 39.44L240.40 37.26L240.62 36.00L240.85 35.71L241.07 36.41L241.30 38.06L241.52 40.59L241.75 43.85L241.97 47.70L242.20 51.94L242.43 56.35L242.65 60.71L242.88 64.81L243.10 68.44L243.33 71.42L243.55 73.60L243.78 74.86L244.00 75.15L244.22 74.45L244.45 72.80L244.67 70.27L244.90 67.01L245.12 63.16L245.35 58.92L245.58 54.51L245.80 50.15L246.03 46.05L246.25 42.42L246.48 39.44L246.70 37.26L246.92 36.00L247.15 35.71L247.38 36.41L247.60 38.06L247.82 40.59L248.05 43.85L248.28 47.70L248.50 51.94L248.72 56.35L248.95 60.71L249.18 64.81L249.40 68.44L249.63 71.42L249.85 73.60L250.07 74.86L250.30 75.15L250.53 74.45L250.75 72.80L250.97 70.27L251.20 67.01L251.43 63.16L251.65 58.92L251.88 54.51L252.10 50.15L252.33 46.05L252.55 42.42L252.77 39.44L253.00 37.26L253.22 36.00L253.45 35.71L253.67 36.41L253.90 38.06L254.12 40.59L254.35 43.85L254.58 47.70L254.80 51.94L255.03 56.35L255.25 60.71L255.48 64.81L255.70 68.44L255.92 71.42L256.15 73.60L256.38 74.86L256.60 75.15L256.82 74.45L257.05 72.80L257.27 70.27L257.50 67.01L257.73 63.16L257.95 58.92L258.18 54.51L258.40 50.15L258.62 46.05L258.85 42.42L259.07 39.44L259.30 37.26L259.52 36.00L259.75 35.71L259.98 36.41L260.20 38.06L260.43 40.59L260.65 43.85L260.88 47.70L261.10 51.94L261.32 56.35L261.55 60.71L261.77 64.81L262.00 68.44L262.23 71.42L262.45 73.60L262.68 74.86L262.90 75.15L263.12 74.45L263.35 72.80L263.58 70.27L263.80 67.01L264.02 63.16L264.25 58.92L264.48 54.51L264.70 50.15L264.92 46.05L265.15 42.42L265.38 39.44L265.60 37.26L265.82 36.00L266.05 35.71L266.27 36.41L266.50 38.06L266.73 40.59L266.95 43.85L267.17 47.70L267.40 51.94L267.62 56.35L267.85 60.71L268.07 64.81L268.30 68.44L268.52 71.42L268.75 73.60L268.98 74.86L269.20 75.15L269.43 74.45L269.65 72.80L269.88 70.27L270.10 67.01L270.32 63.16L270.55 58.92L270.77 54.51L271.00 50.15L271.23 46.05L271.45 42.42L271.68 39.44L271.90 37.26L272.12 36.00L272.35 35.71L272.58 36.41L272.80 38.06L273.02 40.59L273.25 43.85L273.48 47.70L273.70 51.94L273.92 56.35L274.15 60.71L274.38 64.81L274.60 68.44L274.83 71.42L275.05 73.60L275.27 74.86L275.50 75.15L275.73 74.45L275.95 72.80L276.17 70.27L276.40 67.01L276.62 63.16L276.85 58.92L277.07 54.51L277.30 50.15L277.52 46.05L277.75 42.42L277.98 39.44L278.20 37.26L278.43 36.00L278.65 35.71L278.88 36.41L279.10 38.06L279.32 40.59L279.55 43.85L279.77 47.70L280.00 51.94L280.23 56.35L280.45 60.71L280.68 64.81L280.90 68.44L281.12 71.42L281.35 73.60L281.58 74.86L281.80 75.15L282.02 74.45L282.25 72.80L282.48 70.27L282.70 67.01L282.92 63.16L283.15 58.92L283.38 54.51L283.60 50.15L283.83 46.05L284.05 42.42L284.28 39.44L284.50 37.26L284.72 36.00L284.95 35.71L285.18 36.41L285.40 38.06L285.62 40.59L285.85 43.85L286.07 47.70L286.30 51.94L286.52 56.35L286.75 60.71L286.98 64.81L287.20 68.44L287.43 71.42L287.65 73.60L287.88 74.86L288.10 75.15L288.32 74.45L288.55 72.80L288.77 70.27L289.00 67.01L289.23 63.16L289.45 58.92L289.68 54.51L289.90 50.15L290.12 46.05L290.35 42.42L290.57 39.44L290.80 37.26L291.02 36.00L291.25 35.71L291.47 36.41L291.70 38.06L291.93 40.59L292.15 43.85L292.38 47.70L292.60 51.94L292.82 56.35L293.05 60.71L293.28 64.81L293.50 68.44L293.72 71.42L293.95 73.60L294.18 74.86L294.40 75.15L294.62 74.45L294.85 72.80L295.07 70.27L295.30 67.01L295.53 63.16L295.75 58.92L295.98 54.51L296.20 50.15L296.43 46.05L296.65 42.42L296.88 39.44L297.10 37.26L297.32 36.00L297.55 35.71L297.77 36.41L298.00 38.06L298.23 40.59L298.45 43.85L298.68 47.70L298.90 51.94L299.12 56.35L299.35 60.71L299.57 64.81L299.80 68.44L300.02 71.42L300.25 73.60L300.48 74.86L300.70 75.15L300.93 74.45L301.15 72.80L301.38 70.27L301.60 67.01L301.82 63.16L302.05 58.92L302.27 54.51L302.50 50.15L302.72 46.05L302.95 42.42L303.18 39.44L303.40 37.26L303.62 36.00L303.85 35.71L304.07 36.41L304.30 38.06L304.53 40.59L304.75 43.85L304.98 47.70L305.20 51.94L305.43 56.35L305.65 60.71L305.88 64.81L306.10 68.44L306.32 71.42L306.55 73.60L306.77 74.86L307.00 75.15L307.23 74.45L307.45 72.80L307.68 70.27L307.90 67.01L308.12 63.16L308.35 58.92L308.57 54.51L308.80 50.15L309.02 46.05L309.25 42.42L309.48 39.44L309.70 37.26L309.93 36.00L310.15 35.71L310.38 36.41L310.60 38.06L310.82 40.59L311.05 43.85L311.27 47.70L311.50 51.94L311.72 56.35L311.95 60.71L312.18 64.81L312.40 68.44L312.62 71.42L312.85 73.60L313.07 74.86L313.30 75.15L313.53 74.45L313.75 72.80L313.97 70.27L314.20 67.01L314.43 63.16L314.65 58.92L314.88 54.51L315.10 50.15L315.32 46.05L315.55 42.42L315.78 39.44L316.00 37.26L316.23 36.00L316.45 35.71L316.68 36.41L316.90 38.06L317.12 40.59L317.35 43.85L317.57 47.70L317.80 51.94L318.02 56.35L318.25 60.71L318.48 64.81L318.70 68.44L318.93 71.42L319.15 73.60L319.38 74.86L319.60 75.15L319.82 74.45L320.05 72.80L320.27 70.27L320.50 67.01L320.73 63.16L320.95 58.92L321.18 54.51L321.40 50.15L321.62 46.05L321.85 42.42L322.07 39.44L322.30 37.26L322.53 36.00L322.75 35.71L322.97 36.41L323.20 38.06L323.43 40.59L323.65 43.85L323.88 47.70L324.10 51.94L324.32 56.35L324.55 60.71L324.78 64.81L325.00 68.44L325.23 71.42L325.45 73.60L325.68 74.86L325.90 75.15L326.12 74.45L326.35 72.80L326.57 70.27L326.80 67.01L327.02 63.16L327.25 58.92L327.48 54.51L327.70 50.15L327.93 46.05L328.15 42.42L328.38 39.44L328.60 37.26L328.82 36.00L329.05 35.71L329.27 36.41L329.50 38.06L329.73 40.59L329.95 43.85L330.18 47.70L330.40 51.94L330.62 56.35L330.85 60.71L331.07 64.81L331.30 68.44L331.52 71.42L331.75 73.60L331.97 74.86L332.20 75.15L332.43 74.45L332.65 72.80L332.88 70.27L333.10 67.01L333.32 63.16L333.55 58.92L333.78 54.51L334.00 50.15L334.23 46.05L334.45 42.42L334.68 39.44L334.90 37.26L335.12 36.00L335.35 35.71L335.57 36.41L335.80 38.06L336.02 40.59L336.25 43.85L336.48 47.70L336.70 51.94L336.93 56.35L337.15 60.71L337.38 64.81L337.60 68.44L337.82 71.42L338.05 73.60L338.27 74.86L338.50 75.15L338.73 74.45L338.95 72.80L339.18 70.27L339.40 67.01L339.62 63.16L339.85 58.92L340.07 54.51L340.30 50.15L340.52 46.05L340.75 42.42L340.97 39.44L341.20 37.26L341.43 36.00L341.65 35.71L341.88 36.41L342.10 38.06L342.32 40.59L342.55 43.85L342.78 47.70L343.00 51.94"/>
<path stroke="#ecb127" d="M28.00 19.29L28.23 19.29L28.45 19.29L28.68 20.75L28.90 28.28L29.12 37.09L29.35 39.66L29.57 42.69L29.80 46.37L30.02 50.50L30.25 54.87L30.48 59.28L30.70 63.49L30.93 67.30L31.15 70.51L31.38 72.97L31.60 74.54L31.82 75.16L32.05 74.79L32.27 73.45L32.50 71.20L32.73 68.17L32.95 64.49L33.17 60.36L33.40 55.99L33.62 51.58L33.85 47.37L34.08 43.56L34.30 40.35L34.52 37.89L34.75 36.32L34.98 35.70L35.20 36.07L35.42 37.41L35.65 39.66L35.88 42.69L36.10 46.37L36.33 50.50L36.55 54.87L36.77 59.28L37.00 63.49L37.23 67.30L37.45 70.51L37.67 72.97L37.90 74.54L38.12 75.16L38.35 74.79L38.58 73.45L38.80 71.20L39.02 68.17L39.25 64.49L39.48 60.36L39.70 55.99L39.92 51.58L40.15 47.37L40.38 43.56L40.60 40.35L40.83 37.89L41.05 36.32L41.27 35.70L41.50 36.07L41.73 37.41L41.95 39.66L42.17 42.69L42.40 46.37L42.62 50.50L42.85 54.87L43.08 59.28L43.30 63.49L43.52 67.30L43.75 70.51L43.98 72.97L44.20 74.54L44.42 75.16L44.65 74.79L44.88 73.45L45.10 71.20L45.33 68.17L45.55 64.49L45.77 60.36L46.00 55.99L46.23 51.58L46.45 47.37L46.67 43.56L46.90 40.35L47.12 37.89L47.35 36.32L47.58 35.70L47.80 36.07L48.02 37.41L48.25 39.66L48.48 42.69L48.70 46.37L48.92 50.50L49.15 54.87L49.38 59.28L49.60 63.49L49.83 67.30L50.05 70.51L50.28 72.97L50.50 74.54L50.73 75.16L50.95 74.79L51.17 73.45L51.40 71.20L51.62 68.17L51.85 64.49L52.08 60.36L52.30 55.99L52.53 51.58L52.75 47.37L52.97 43.56L53.20 40.35L53.42 37.89L53.65 36.32L53.88 35.70L54.10 36.07L54.33 37.41L54.55 39.66L54.78 42.69L55.00 46.37L55.22 50.50L55.45 54.87L55.67 59.28L55.90 63.49L56.12 67.30L56.35 70.51L56.58 72.97L56.80 74.54L57.02 75.16L57.25 74.79L57.47 73.45L57.70 71.20L57.92 68.17L58.15 64.49L58.38 60.36L58.60 55.99L58.83 51.58L59.05 47.37L59.27 43.56L59.50 40.35L59.73 37.89L59.95 36.32L60.18 35.70L60.40 36.07L60.62 37.41L60.85 39.66L61.07 42.69L61.30 46.37L61.52 50.50L61.75 54.87L61.98 59.28L62.20 63.49L62.43 67.30L62.65 70.51L62.88 72.97L63.10 74.54L63.33 75.16L63.55 74.79L63.77 73.45L64.00 71.20L64.22 68.17L64.45 64.49L64.67 60.36L64.90 55.99L65.12 51.58L65.35 47.37L65.58 43.56L65.80 40.35L66.03 37.89L66.25 36.32L66.47 35.70L66.70 36.07L66.92 37.41L67.15 39.66L67.38 42.69L67.60 46.37L67.82 50.50L68.05 54.87L68.28 59.28L68.50 63.49L68.72 67.30L68.95 70.51L69.18 72.97L69.40 74.54L69.62 75.16L69.85 74.79L70.07 73.45L70.30 71.20L70.53 68.17L70.75 64.49L70.97 60.36L71.20 55.99L71.42 51.58L71.65 47.37L71.88 43.56L72.10 40.35L72.32 37.89L72.55 36.32L72.78 35.70L73.00 36.07L73.22 37.41L73.45 39.66L73.67 42.69L73.90 46.37L74.12 50.50L74.35 54.87L74.57 59.28L74.80 63.49L75.03 67.30L75.25 70.51L75.47 72.97L75.70 74.54L75.92 75.16L76.15 74.79L76.38 73.45L76.60 71.20L76.83 68.17L77.05 64.49L77.28 60.36L77.50 55.99L77.72 51.58L77.95 47.37L78.17 43.56L78.40 40.35L78.62 37.89L78.85 36.32L79.08 35.70L79.30 36.07L79.53 37.41L79.75 39.66L79.97 42.69L80.20 46.37L80.42 50.50L80.65 54.87L80.88 59.28L81.10 63.49L81.33 67.30L81.55 70.51L81.78 72.97L82.00 74.54L82.22 75.16L82.45 74.79L82.67 73.45L82.90 71.20L83.12 68.17L83.35 64.49L83.58 60.36L83.80 55.99L84.03 51.58L84.25 47.37L84.47 43.56L84.70 40.35L84.92 37.89L85.15 36.32L85.38 35.70L85.60 36.07L85.83 37.41L86.05 39.66L86.28 42.69L86.50 46.37L86.72 50.50L86.95 54.87L87.18 59.28L87.40 63.49L87.62 67.30L87.85 70.51L88.08 72.97L88.30 74.54L88.53 75.16L88.75 74.79L88.97 73.45L89.20 71.20L89.43 68.17L89.65 64.49L89.88 60.36L90.10 55.99L90.33 51.58L90.55 47.37L90.78 43.56L91.00 55.12L91.22 55.07L91.45 55.04L91.68 55.02L91.90 55.03L92.12 55.06L92.35 55.11L92.58 55.17L92.80 55.24L93.03 55.33L93.25 55.42L93.47 55.51L93.70 55.60L93.92 55.67L94.15 55.74L94.38 55.79L94.60 55.82L94.83 55.84L95.05 55.83L95.28 55.80L95.50 55.75L95.72 55.69L95.95 55.62L96.17 55.53L96.40 55.44L96.62 55.35L96.85 55.26L97.08 55.19L97.30 55.12L97.53 55.07L97.75 55.04L97.97 55.02L98.20 55.03L98.42 55.06L98.65 55.11L98.88 55.17L99.10 55.24L99.33 55.33L99.55 55.42L99.78 55.51L100.00 55.60L100.22 55.67L100.45 55.74L100.67 55.79L100.90 55.82L101.12 55.84L101.35 55.83L101.58 55.80L101.80 55.75L102.02 55.69L102.25 55.62L102.47 55.53L102.70 55.44L102.92 55.35L103.15 55.26L103.38 55.19L103.60 55.12L103.83 55.07L104.05 55.04L104.27 55.02L104.50 55.03L104.73 55.06L104.95 55.11L105.17 55.17L105.40 55.24L105.62 55.33L105.85 55.42L106.08 55.51L106.30 55.60L106.52 55.67L106.75 55.74L106.98 55.79L107.20 55.82L107.43 55.84L107.65 55.83L107.88 55.80L108.10 55.75L108.33 55.69L108.55 55.62L108.78 55.53L109.00 55.44L109.22 55.35L109.45 55.26L109.67 55.19L109.90 55.12L110.12 55.07L110.35 55.04L110.57 55.02L110.80 55.03L111.03 55.06L111.25 55.11L111.48 55.17L111.70 55.24L111.92 55.33L112.15 55.42L112.38 55.51L112.60 55.60L112.83 55.67L113.05 55.74L113.28 55.79L113.50 55.82L113.72 55.84L113.95 55.83L114.17 55.80L114.40 55.75L114.62 55.69L114.85 55.62L115.07 55.53L115.30 55.44L115.53 55.35L115.75 55.26L115.98 55.19L116.20 55.12L116.42 55.07L116.65 55.04L116.88 55.02L117.10 55.03L117.33 55.06L117.55 55.11L117.77 55.17L118.00 55.24L118.22 55.33L118.45 55.42L118.67 55.51L118.90 55.60L119.13 55.67L119.35 55.74L119.58 55.79L119.80 55.82L120.03 55.84L120.25 55.83L120.48 55.80L120.70 55.75L120.92 55.69L121.15 55.62L121.38 55.53L121.60 55.44L121.83 55.35L122.05 55.26L122.27 55.19L122.50 55.12L122.72 55.07L122.95 55.04L123.18 55.02L123.40 55.03L123.62 52.15L123.85 49.02L124.08 47.44L124.30 47.76L124.53 50.19L124.75 54.83L124.97 59.56L125.20 64.04L125.42 68.06L125.65 71.41L125.88 73.94L126.10 75.53L126.33 76.11L126.55 75.66L126.77 74.20L127.00 71.82L127.22 68.63L127.45 64.80L127.68 60.52L127.90 56.00L128.12 51.48L128.35 47.17L128.57 43.28L128.80 40.02L129.03 37.54L129.25 35.95L129.47 35.35L129.70 35.75L129.93 37.13L130.15 39.43L130.38 42.52L130.60 46.25L130.82 50.44L131.05 54.87L131.27 59.32L131.50 63.57L131.73 67.40L131.95 70.63L132.18 73.10L132.40 74.68L132.62 75.29L132.85 74.91L133.07 73.55L133.30 71.29L133.53 68.23L133.75 64.53L133.97 60.38L134.20 55.99L134.43 51.57L134.65 47.34L134.88 43.52L135.10 40.30L135.32 37.84L135.55 36.27L135.77 35.65L136.00 36.03L136.23 37.37L136.45 39.62L136.68 42.67L136.90 46.35L137.12 50.49L137.35 54.87L137.57 59.28L137.80 63.50L138.03 67.31L138.25 70.53L138.47 72.98L138.70 74.56L138.93 75.18L139.15 74.81L139.38 73.46L139.60 71.22L139.82 68.18L140.05 64.50L140.28 60.37L140.50 55.99L140.73 51.58L140.95 47.37L141.18 43.56L141.40 40.34L141.62 37.89L141.85 36.31L142.07 35.69L142.30 36.06L142.52 37.40L142.75 39.65L142.97 42.69L143.20 46.36L143.43 50.50L143.65 54.87L143.88 59.28L144.10 63.49L144.32 67.30L144.55 70.51L144.78 72.97L145.00 74.55L145.23 75.16L145.45 74.79L145.68 73.45L145.90 71.21L146.12 68.17L146.35 64.49L146.57 60.36L146.80 55.99L147.02 51.58L147.25 47.37L147.47 43.56L147.70 40.35L147.93 37.89L148.15 36.32L148.38 35.70L148.60 36.07L148.82 37.41L149.05 39.65L149.28 42.69L149.50 46.37L149.73 50.50L149.95 54.87L150.18 59.28L150.40 63.49L150.62 67.30L150.85 70.51L151.07 72.97L151.30 74.54L151.52 75.16L151.75 74.79L151.97 73.45L152.20 71.20L152.43 68.17L152.65 64.49L152.88 60.36L153.10 55.99L153.32 51.58L153.55 47.37L153.78 43.56L154.00 40.35L154.22 37.89L154.45 36.32L154.68 35.70L154.90 36.07L155.12 37.41L155.35 39.66L155.57 42.69L155.80 46.37L156.03 50.50L156.25 54.87L156.47 59.28L156.70 63.49L156.93 67.30L157.15 70.51L157.38 72.97L157.60 74.54L157.82 75.16L158.05 74.79L158.28 73.45L158.50 71.20L158.72 68.17L158.95 64.49L159.18 60.36L159.40 55.99L159.62 51.58L159.85 47.37L160.07 43.56L160.30 40.35L160.53 37.89L160.75 36.32L160.97 35.70L161.20 36.07L161.43 37.41L161.65 39.66L161.88 42.69L162.10 46.37L162.32 50.50L162.55 54.87L162.78 59.28L163.00 63.49L163.22 67.30L163.45 70.51L163.68 72.97L163.90 74.54L164.12 75.16L164.35 74.79L164.57 73.45L164.80 71.20L165.03 68.17L165.25 64.49L165.47 60.36L165.70 55.99L165.92 51.58L166.15 47.37L166.38 43.56L166.60 40.35L166.83 37.89L167.05 36.32L167.27 35.70L167.50 36.07L167.72 37.41L167.95 39.66L168.18 42.69L168.40 46.37L168.62 50.50L168.85 54.87L169.07 59.28L169.30 63.49L169.53 67.30L169.75 70.51L169.97 72.97L170.20 74.54L170.42 75.16L170.65 74.79L170.88 73.45L171.10 71.20L171.33 68.17L171.55 64.49L171.78 60.36L172.00 55.99L172.22 51.58L172.45 47.37L172.68 43.56L172.90 40.35L173.12 37.89L173.35 36.32L173.57 35.70L173.80 36.07L174.03 37.41L174.25 39.66L174.47 42.69L174.70 46.37L174.92 50.50L175.15 54.87L175.38 59.28L175.60 63.49L175.83 67.30L176.05 70.51L176.28 72.97L176.50 74.54L176.72 75.16L176.95 74.79L177.18 73.45L177.40 71.20L177.62 68.17L177.85 64.49L178.07 60.36L178.30 55.99L178.53 51.58L178.75 47.37L178.97 43.56L179.20 40.35L179.42 37.89L179.65 36.32L179.88 35.70L180.10 36.07L180.33 37.41L180.55 39.66L180.78 42.69L181.00 46.37L181.22 50.50L181.45 54.87L181.68 59.28L181.90 63.49L182.12 67.30L182.35 70.51L182.57 72.97L182.80 74.54L183.03 75.16L183.25 74.79L183.47 73.45L183.70 71.20L183.93 68.17L184.15 64.49L184.38 60.36L184.60 55.99L184.82 51.58L185.05 47.37L185.28 43.56L185.50 40.35L185.72 37.89L185.95 36.32L186.17 35.70L186.40 36.07L186.62 37.41L186.85 39.66L187.07 42.69L187.30 46.37L187.53 50.50L187.75 54.87L187.98 59.28L188.20 63.49L188.42 67.30L188.65 70.51L188.88 72.97L189.10 74.54L189.32 75.16L189.55 74.79L189.78 73.45L190.00 71.20L190.22 68.17L190.45 64.49L190.68 60.36L190.90 55.99L191.13 51.58L191.35 47.37L191.57 43.56L191.80 40.35L192.02 37.89L192.25 36.32L192.47 35.70L192.70 36.07L192.93 37.41L193.15 39.66L193.38 42.69L193.60 46.37L193.83 50.50L194.05 54.87L194.27 59.28L194.50 63.49L194.72 67.30L194.95 70.51L195.17 72.97L195.40 74.54L195.62 75.16L195.85 74.79L196.08 73.45L196.30 71.20L196.53 68.17L196.75 64.49L196.98 60.36L197.20 55.99L197.42 51.58L197.65 47.37L197.88 43.56L198.10 40.35L198.32 37.89L198.55 36.32L198.78 35.70L199.00 36.07L199.22 37.41L199.45 39.66L199.68 42.69L199.90 46.37L200.12 50.50L200.35 54.87L200.57 59.28L200.80 63.49L201.03 67.30L201.25 70.51L201.47 72.97L201.70 74.54L201.93 75.16L202.15 74.79L202.38 73.45L202.60 71.20L202.83 68.17L203.05 64.49L203.27 60.36L203.50 55.99L203.72 51.58L203.95 47.37L204.17 43.56L204.40 40.35L204.62 37.89L204.85 36.32L205.08 35.70L205.30 36.07L205.53 37.41L205.75 39.66L205.97 42.69L206.20 46.37L206.42 50.50L206.65 54.87L206.88 59.28L207.10 63.49L207.32 67.30L207.55 70.51L207.78 72.97L208.00 74.54L208.23 75.16L208.45 74.79L208.68 73.45L208.90 71.20L209.12 68.17L209.35 64.49L209.57 60.36L209.80 55.99L210.03 51.58L210.25 47.37L210.47 43.56L210.70 40.35L210.93 37.89L211.15 36.32L211.38 35.70L211.60 36.07L211.82 37.41L212.05 39.66L212.27 42.69L212.50 46.37L212.72 50.50L212.95 54.87L213.18 59.28L213.40 63.49L213.62 67.30L213.85 70.51L214.08 72.97L214.30 74.54L214.53 75.16L214.75 74.79L214.97 73.45L215.20 71.20L215.42 68.17L215.65 64.49L215.88 60.36L216.10 55.99L216.32 51.58L216.55 47.37L216.78 43.56L217.00 40.35L217.23 37.89L217.45 36.32L217.67 35.70L217.90 36.07L218.12 37.41L218.35 39.66L218.57 42.69L218.80 46.37L219.03 50.50L219.25 54.87L219.47 59.28L219.70 63.49L219.93 67.30L220.15 70.51L220.38 72.97L220.60 74.54L220.82 75.16L221.05 74.79L221.28 73.45L221.50 71.20L221.72 68.17L221.95 64.49L222.18 60.36L222.40 55.99L222.62 51.58L222.85 47.37L223.08 43.56L223.30 40.35L223.52 37.89L223.75 36.32L223.97 35.70L224.20 36.07L224.42 37.41L224.65 39.66L224.88 42.69L225.10 46.37L225.33 50.50L225.55 54.87L225.78 59.28L226.00 63.49L226.23 67.30L226.45 70.51L226.67 72.97L226.90 74.54L227.12 75.16L227.35 74.79L227.57 73.45L227.80 71.20L228.03 68.17L228.25 64.49L228.47 60.36L228.70 55.99L228.93 51.58L229.15 47.37L229.37 43.56L229.60 40.35L229.82 37.89L230.05 36.32L230.28 35.70L230.50 36.07L230.72 37.41L230.95 39.66L231.18 42.69L231.40 46.37L231.62 50.50L231.85 54.87L232.08 59.28L232.30 63.49L232.52 67.30L232.75 70.51L232.97 72.97L233.20 74.54L233.43 75.16L233.65 74.79L233.88 73.45L234.10 71.20L234.33 68.17L234.55 64.49L234.78 60.36L235.00 55.99L235.22 51.58L235.45 47.37L235.67 43.56L235.90 40.35L236.12 37.89L236.35 36.32L236.57 35.70L236.80 36.07L237.03 37.41L237.25 39.66L237.48 42.69L237.70 46.37L237.93 50.50L238.15 54.87L238.38 59.28L238.60 63.49L238.82 67.30L239.05 70.51L239.28 72.97L239.50 74.54L239.72 75.16L239.95 74.79L240.18 73.45L240.40 71.20L240.62 68.17L240.85 64.49L241.07 60.36L241.30 55.99L241.52 51.58L241.75 47.37L241.97 43.56L242.20 40.35L242.43 37.89L242.65 36.32L242.88 35.70L243.10 36.07L243.33 37.41L243.55 39.66L243.78 42.69L244.00 46.37L244.22 50.50L244.45 54.87L244.67 59.28L244.90 63.49L245.12 67.30L245.35 70.51L245.58 72.97L245.80 74.54L246.03 75.16L246.25 74.79L246.48 73.45L246.70 71.20L246.92 68.17L247.15 64.49L247.38 60.36L247.60 55.99L247.82 51.58L248.05 47.37L248.28 43.56L248.50 40.35L248.72 37.89L248.95 36.32L249.18 35.70L249.40 36.07L249.63 37.41L249.85 39.66L250.07 42.69L250.30 46.37L250.53 50.50L250.75 54.87L250.97 59.28L251.20 63.49L251.43 67.30L251.65 70.51L251.88 72.97L252.10 74.54L252.33 75.16L252.55 74.79L252.77 73.45L253.00 71.20L253.22 68.17L253.45 64.49L253.67 60.36L253.90 55.99L254.12 51.58L254.35 47.37L254.58 43.56L254.80 40.35L255.03 37.89L255.25 36.32L255.48 35.70L255.70 36.07L255.92 37.41L256.15 39.66L256.38 42.69L256.60 46.37L256.82 50.50L257.05 54.87L257.27 59.28L257.50 63.49L257.73 67.30L257.95 70.51L258.18 72.97L258.40 74.54L258.62 75.16L258.85 74.79L259.07 73.45L259.30 71.20L259.52 68.17L259.75 64.49L259.98 60.36L260.20 55.99L260.43 51.58L260.65 47.37L260.88 43.56L261.10 40.35L261.32 37.89L261.55 36.32L261.77 35.70L262.00 36.07L262.23 37.41L262.45 39.66L262.68 42.69L262.90 46.37L263.12 50.50L263.35 54.87L263.58 59.28L263.80 63.49L264.02 67.30L264.25 70.51L264.48 72.97L264.70 74.54L264.92 75.16L265.15 74.79L265.38 73.45L265.60 71.20L265.82 68.17L266.05 64.49L266.27 60.36L266.50 55.99L266.73 51.58L266.95 47.37L267.17 43.56L267.40 40.35L267.62 37.89L267.85 36.32L268.07 35.70L268.30 36.07L268.52 37.41L268.75 39.66L268.98 42.69L269.20 46.37L269.43 50.50L269.65 54.87L269.88 59.28L270.10 63.49L270.32 67.30L270.55 70.51L270.77 72.97L271.00 74.54L271.23 75.16L271.45 74.79L271.68 73.45L271.90 71.20L272.12 68.17L272.35 64.49L272.58 60.36L272.80 55.99L273.02 51.58L273.25 47.37L273.48 43.56L273.70 40.35L273.92 37.89L274.15 36.32L274.38 35.70L274.60 36.07L274.83 37.41L275.05 39.66L275.27 42.69L275.50 46.37L275.73 50.50L275.95 54.87L276.17 59.28L276.40 63.49L276.62 67.30L276.85 70.51L277.07 72.97L277.30 74.54L277.52 75.16L277.75 74.79L277.98 73.45L278.20 71.20L278.43 68.17L278.65 64.49L278.88 60.36L279.10 55.99L279.32 51.58L279.55 47.37L279.77 43.56L280.00 40.35L280.23 37.89L280.45 36.32L280.68 35.70L280.90 36.07L281.12 37.41L281.35 39.66L281.58 42.69L281.80 46.37L282.02 50.50L282.25 54.87L282.48 59.28L282.70 63.49L282.92 67.30L283.15 70.51L283.38 72.97L283.60 74.54L283.83 75.16L284.05 74.79L284.28 73.45L284.50 71.20L284.72 68.17L284.95 64.49L285.18 60.36L285.40 55.99L285.62 51.58L285.85 47.37L286.07 43.56L286.30 40.35L286.52 37.89L286.75 36.32L286.98 35.70L287.20 36.07L287.43 37.41L287.65 39.66L287.88 42.69L288.10 46.37L288.32 50.50L288.55 54.87L288.77 59.28L289.00 63.49L289.23 67.30L289.45 70.51L289.68 72.97L289.90 74.54L290.12 75.16L290.35 74.79L290.57 73.45L290.80 71.20L291.02 68.17L291.25 64.49L291.47 60.36L291.70 55.99L291.93 51.58L292.15 47.37L292.38 43.56L292.60 40.35L292.82 37.89L293.05 36.32L293.28 35.70L293.50 36.07L293.72 37.41L293.95 39.66L294.18 42.69L294.40 46.37L294.62 50.50L294.85 54.87L295.07 59.28L295.30 63.49L295.53 67.30L295.75 70.51L295.98 72.97L296.20 74.54L296.43 75.16L296.65 74.79L296.88 73.45L297.10 71.20L297.32 68.17L297.55 64.49L297.77 60.36L298.00 55.99L298.23 51.58L298.45 47.37L298.68 43.56L298.90 40.35L299.12 37.89L299.35 36.32L299.57 35.70L299.80 36.07L300.02 37.41L300.25 39.66L300.48 42.69L300.70 46.37L300.93 50.50L301.15 54.87L301.38 59.28L301.60 63.49L301.82 67.30L302.05 70.51L302.27 72.97L302.50 74.54L302.72 75.16L302.95 74.79L303.18 73.45L303.40 71.20L303.62 68.17L303.85 64.49L304.07 60.36L304.30 55.99L304.53 51.58L304.75 47.37L304.98 43.56L305.20 40.35L305.43 37.89L305.65 36.32L305.88 35.70L306.10 36.07L306.32 37.41L306.55 39.66L306.77 42.69L307.00 46.37L307.23 50.50L307.45 54.87L307.68 59.28L307.90 63.49L308.12 67.30L308.35 70.51L308.57 72.97L308.80 74.54L309.02 75.16L309.25 74.79L309.48 73.45L309.70 71.20L309.93 68.17L310.15 64.49L310.38 60.36L310.60 55.99L310.82 51.58L311.05 47.37L311.27 43.56L311.50 40.35L311.72 37.89L311.95 36.32L312.18 35.70L312.40 36.07L312.62 37.41L312.85 39.66L313.07 42.69L313.30 46.37L313.53 50.50L313.75 54.87L313.97 59.28L314.20 63.49L314.43 67.30L314.65 70.51L314.88 72.97L315.10 74.54L315.32 75.16L315.55 74.79L315.78 73.45L316.00 71.20L316.23 68.17L316.45 64.49L316.68 60.36L316.90 55.99L317.12 51.58L317.35 47.37L317.57 43.56L317.80 40.35L318.02 37.89L318.25 36.32L318.48 35.70L318.70 36.07L318.93 37.41L319.15 39.66L319.38 42.69L319.60 46.37L319.82 50.50L320.05 54.87L320.27 59.28L320.50 63.49L320.73 67.30L320.95 70.51L321.18 72.97L321.40 74.54L321.62 75.16L321.85 74.79L322.07 73.45L322.30 71.20L322.53 68.17L322.75 64.49L322.97 60.36L323.20 55.99L323.43 51.58L323.65 47.37L323.88 43.56L324.10 40.35L324.32 37.89L324.55 36.32L324.78 35.70L325.00 36.07L325.23 37.41L325.45 39.66L325.68 42.69L325.90 46.37L326.12 50.50L326.35 54.87L326.57 59.28L326.80 63.49L327.02 67.30L327.25 70.51L327.48 72.97L327.70 74.54L327.93 75.16L328.15 74.79L328.38 73.45L328.60 71.20L328.82 68.17L329.05 64.49L329.27 60.36L329.50 55.99L329.73 51.58L329.95 47.37L330.18 43.56L330.40 40.35L330.62 37.89L330.85 36.32L331.07 35.70L331.30 36.07L331.52 37.41L331.75 39.66L331.97 42.69L332.20 46.37L332.43 50.50L332.65 54.87L332.88 59.28L333.10 63.49L333.32 67.30L333.55 70.51L333.78 72.97L334.00 74.54L334.23 75.16L334.45 74.79L334.68 73.45L334.90 71.20L335.12 68.17L335.35 64.49L335.57 60.36L335.80 55.99L336.02 51.58L336.25 47.37L336.48 43.56L336.70 40.35L336.93 37.89L337.15 36.32L337.38 35.70L337.60 36.07L337.82 37.41L338.05 39.66L338.27 42.69L338.50 46.37L338.73 50.50L338.95 54.87L339.18 59.28L339.40 63.49L339.62 67.30L339.85 70.51L340.07 72.97L340.30 74.54L340.52 75.16L340.75 74.79L340.97 73.45L341.20 71.20L341.43 68.17L341.65 64.49L341.88 60.36L342.10 55.99L342.32 51.58L342.55 47.37L342.78 43.56L343.00 40.35"/>
</g>
<g filter="url(#soft)">
<path d="M28.00 113.8v-2.2M28.00 9.3v2.2M59.50 113.8v-2.2M59.50 9.3v2.2M91.00 113.8v-2.2M91.00 9.3v2.2M122.50 113.8v-2.2M122.50 9.3v2.2M154.00 113.8v-2.2M154.00 9.3v2.2M185.50 113.8v-2.2M185.50 9.3v2.2M217.00 113.8v-2.2M217.00 9.3v2.2M248.50 113.8v-2.2M248.50 9.3v2.2M280.00 113.8v-2.2M280.00 9.3v2.2M311.50 113.8v-2.2M311.50 9.3v2.2M343.00 113.8v-2.2M343.00 9.3v2.2M28.0 26.40h2.2M343.0 26.40h-2.2M28.0 55.43h2.2M343.0 55.43h-2.2M28.0 84.46h2.2M343.0 84.46h-2.2M28.0 113.49h2.2M343.0 113.49h-2.2" stroke="#6e6e6e" stroke-width="0.6" fill="none"/>
<text x="26.6" y="29.90" text-anchor="end" font-size="7" fill="#262626">1000</text>
<text x="26.6" y="58.93" text-anchor="end" font-size="7" fill="#262626">0</text>
<text x="26.6" y="87.96" text-anchor="end" font-size="7" fill="#262626">-1000</text>
<text x="26.6" y="116.99" text-anchor="end" font-size="7" fill="#262626">-2000</text>
<text transform="translate(6.4 61.85) rotate(-90)" text-anchor="middle" font-size="8.4" fill="#262626">voltage</text>
<text x="185.50" y="6.6" text-anchor="middle" font-size="8.5" fill="#1a1a1a">Bus 3 Voltage waveforms</text>
<clipPath id="c133"><rect x="27.5" y="133.4" width="316.0" height="88.79999999999998"/></clipPath>
<path d="M59.50 133.9V221.7M91.00 133.9V221.7M122.50 133.9V221.7M154.00 133.9V221.7M185.50 133.9V221.7M217.00 133.9V221.7M248.50 133.9V221.7M280.00 133.9V221.7M311.50 133.9V221.7M28.0 148.70H343.0M28.0 166.95H343.0M28.0 185.20H343.0M28.0 203.45H343.0" stroke="#a8a8a8" stroke-width="0.75" fill="none"/>
<rect x="28.0" y="133.9" width="315.0" height="87.80" fill="none" stroke="#888" stroke-width="1.0"/>
</g>
<g clip-path="url(#c133)" fill="none" stroke-width="0.7" stroke-linejoin="round">
<path stroke="#1c93e8" d="M28.00 193.32L28.23 187.51L28.45 181.80L28.68 176.46L28.90 171.72L29.12 167.79L29.35 164.82L29.57 162.94L29.80 162.19L30.02 162.59L30.25 164.09L30.48 166.58L30.70 169.95L30.93 173.99L31.15 178.51L31.38 183.28L31.60 188.06L31.82 192.63L32.05 196.77L32.27 200.28L32.50 203.00L32.73 204.80L32.95 205.61L33.17 205.41L33.40 204.20L33.62 202.06L33.85 199.10L34.08 195.48L34.30 191.37L34.52 186.98L34.75 182.53L34.98 178.25L35.20 174.33L35.42 170.98L35.65 168.35L35.88 166.58L36.10 165.74L36.33 165.88L36.55 166.98L36.77 168.99L37.00 171.80L37.23 175.27L37.45 179.23L37.67 183.47L37.90 187.79L38.12 191.98L38.35 195.81L38.58 199.10L38.80 201.70L39.02 203.46L39.25 204.31L39.48 204.20L39.70 203.14L39.92 201.18L40.15 198.42L40.38 195.01L40.60 191.10L40.83 186.91L41.05 182.63L41.27 178.49L41.50 174.69L41.73 171.41L41.95 168.83L42.17 167.07L42.40 166.22L42.62 166.32L42.85 167.37L43.08 169.31L43.30 172.05L43.52 175.44L43.75 179.32L43.98 183.50L44.20 187.76L44.42 191.89L44.65 195.68L44.88 198.95L45.10 201.52L45.33 203.28L45.55 204.13L45.77 204.03L46.00 202.99L46.23 201.06L46.45 198.33L46.67 194.94L46.90 191.07L47.12 186.90L47.35 182.65L47.58 178.52L47.80 174.73L48.02 171.47L48.25 168.89L48.48 167.14L48.70 166.29L48.92 166.38L49.15 167.42L49.38 169.35L49.60 172.08L49.83 175.46L50.05 179.34L50.28 183.50L50.50 187.75L50.73 191.87L50.95 195.66L51.17 198.92L51.40 201.50L51.62 203.26L51.85 204.11L52.08 204.01L52.30 202.97L52.53 201.04L52.75 198.32L52.97 194.93L53.20 191.06L53.42 186.90L53.65 182.65L53.88 178.53L54.10 174.74L54.33 171.48L54.55 168.90L54.78 167.15L55.00 166.29L55.22 166.39L55.45 167.43L55.67 169.36L55.90 172.09L56.12 175.47L56.35 179.34L56.58 183.50L56.80 187.75L57.02 191.87L57.25 195.66L57.47 198.92L57.70 201.50L57.92 203.25L58.15 204.10L58.38 204.01L58.60 202.97L58.83 201.04L59.05 198.31L59.27 194.93L59.50 191.06L59.73 186.90L59.95 182.65L60.18 178.53L60.40 174.74L60.62 171.48L60.85 168.90L61.07 167.15L61.30 166.30L61.52 166.39L61.75 167.43L61.98 169.36L62.20 172.09L62.43 175.47L62.65 179.34L62.88 183.50L63.10 187.75L63.33 191.87L63.55 195.66L63.77 198.92L64.00 201.49L64.22 203.25L64.45 204.10L64.67 204.01L64.90 202.97L65.12 201.04L65.35 198.31L65.58 194.93L65.80 191.06L66.03 186.90L66.25 182.65L66.47 178.53L66.70 174.74L66.92 171.48L67.15 168.91L67.38 167.15L67.60 166.30L67.82 166.39L68.05 167.43L68.28 169.36L68.50 172.09L68.72 175.47L68.95 179.34L69.18 183.50L69.40 187.75L69.62 191.87L69.85 195.66L70.07 198.92L70.30 201.49L70.53 203.25L70.75 204.10L70.97 204.01L71.20 202.97L71.42 201.04L71.65 198.31L71.88 194.93L72.10 191.06L72.32 186.90L72.55 182.65L72.78 178.53L73.00 174.74L73.22 171.48L73.45 168.91L73.67 167.15L73.90 166.30L74.12 166.39L74.35 167.43L74.57 169.36L74.80 172.09L75.03 175.47L75.25 179.34L75.47 183.50L75.70 187.75L75.92 191.87L76.15 195.66L76.38 198.92L76.60 201.49L76.83 203.25L77.05 204.10L77.28 204.01L77.50 202.97L77.72 201.04L77.95 198.31L78.17 194.93L78.40 191.06L78.62 186.90L78.85 182.65L79.08 178.53L79.30 174.74L79.53 171.48L79.75 168.91L79.97 167.15L80.20 166.30L80.42 166.39L80.65 167.43L80.88 169.36L81.10 172.09L81.33 175.47L81.55 179.34L81.78 183.50L82.00 187.75L82.22 191.87L82.45 195.66L82.67 198.92L82.90 201.49L83.12 203.25L83.35 204.10L83.58 204.01L83.80 202.97L84.03 201.04L84.25 198.31L84.47 194.93L84.70 191.06L84.92 186.90L85.15 182.65L85.38 178.53L85.60 174.74L85.83 171.48L86.05 168.91L86.28 167.15L86.50 166.30L86.72 166.39L86.95 167.43L87.18 169.36L87.40 172.09L87.62 175.47L87.85 179.34L88.08 183.50L88.30 187.75L88.53 191.87L88.75 195.66L88.97 198.92L89.20 201.49L89.43 203.25L89.65 204.10L89.88 204.01L90.10 202.97L90.33 201.04L90.55 198.31L90.78 194.93L91.00 185.60L91.22 185.52L91.45 185.44L91.68 185.36L91.90 185.29L92.12 185.23L92.35 185.18L92.58 185.14L92.80 185.13L93.03 185.13L93.25 185.15L93.47 185.19L93.70 185.24L93.92 185.30L94.15 185.38L94.38 185.46L94.60 185.54L94.83 185.62L95.05 185.69L95.28 185.76L95.50 185.81L95.72 185.84L95.95 185.86L96.17 185.85L96.40 185.83L96.62 185.80L96.85 185.74L97.08 185.68L97.30 185.60L97.53 185.52L97.75 185.44L97.97 185.36L98.20 185.29L98.42 185.23L98.65 185.18L98.88 185.14L99.10 185.13L99.33 185.13L99.55 185.15L99.78 185.19L100.00 185.24L100.22 185.30L100.45 185.38L100.67 185.46L100.90 185.54L101.12 185.62L101.35 185.69L101.58 185.76L101.80 185.81L102.02 185.84L102.25 185.86L102.47 185.85L102.70 185.83L102.92 185.80L103.15 185.74L103.38 185.68L103.60 185.60L103.83 185.52L104.05 185.44L104.27 185.36L104.50 185.29L104.73 185.23L104.95 185.18L105.17 185.14L105.40 185.13L105.62 185.13L105.85 185.15L106.08 185.19L106.30 185.24L106.52 185.30L106.75 185.38L106.98 185.46L107.20 185.54L107.43 185.62L107.65 185.69L107.88 185.76L108.10 185.81L108.33 185.84L108.55 185.86L108.78 185.85L109.00 185.83L109.22 185.80L109.45 185.74L109.67 185.68L109.90 185.60L110.12 185.52L110.35 185.44L110.57 185.36L110.80 185.29L111.03 185.23L111.25 185.18L111.48 185.14L111.70 185.13L111.92 185.13L112.15 185.15L112.38 185.19L112.60 185.24L112.83 185.30L113.05 185.38L113.28 185.46L113.50 185.54L113.72 185.62L113.95 185.69L114.17 185.76L114.40 185.81L114.62 185.84L114.85 185.86L115.07 185.85L115.30 185.83L115.53 185.80L115.75 185.74L115.98 185.68L116.20 185.60L116.42 185.52L116.65 185.44L116.88 185.36L117.10 185.29L117.33 185.23L117.55 185.18L117.77 185.14L118.00 185.13L118.22 185.13L118.45 185.15L118.67 185.19L118.90 185.24L119.13 185.30L119.35 185.38L119.58 185.46L119.80 185.54L120.03 185.62L120.25 185.69L120.48 185.76L120.70 185.81L120.92 185.84L121.15 185.86L121.38 185.85L121.60 185.83L121.83 185.80L122.05 185.74L122.27 185.68L122.50 185.60L122.72 185.52L122.95 185.44L123.18 185.36L123.40 185.29L123.62 174.54L123.85 172.06L124.08 170.17L124.30 169.04L124.53 168.76L124.75 169.37L124.97 170.86L125.20 173.16L125.42 176.16L125.65 179.70L125.88 183.59L126.10 187.63L126.33 191.60L126.55 195.29L126.77 198.51L127.00 201.07L127.22 202.84L127.45 203.73L127.68 203.69L127.90 202.71L128.12 200.84L128.35 198.17L128.57 194.84L128.80 191.01L129.03 186.89L129.25 182.67L129.47 178.56L129.70 174.79L129.93 171.54L130.15 168.96L130.38 167.20L130.60 166.35L130.82 166.44L131.05 167.47L131.27 169.39L131.50 172.11L131.73 175.48L131.95 179.34L132.18 183.50L132.40 187.75L132.62 191.87L132.85 195.65L133.07 198.91L133.30 201.49L133.53 203.24L133.75 204.10L133.97 204.00L134.20 202.96L134.43 201.03L134.65 198.31L134.88 194.93L135.10 191.06L135.32 186.90L135.55 182.65L135.77 178.53L136.00 174.74L136.23 171.48L136.45 168.91L136.68 167.15L136.90 166.30L137.12 166.39L137.35 167.43L137.57 169.36L137.80 172.09L138.03 175.47L138.25 179.34L138.47 183.50L138.70 187.75L138.93 191.87L139.15 195.66L139.38 198.92L139.60 201.49L139.82 203.25L140.05 204.10L140.28 204.01L140.50 202.97L140.73 201.04L140.95 198.31L141.18 194.93L141.40 191.06L141.62 186.90L141.85 182.65L142.07 178.53L142.30 174.74L142.52 171.48L142.75 168.91L142.97 167.15L143.20 166.30L143.43 166.39L143.65 167.43L143.88 169.36L144.10 172.09L144.32 175.47L144.55 179.34L144.78 183.50L145.00 187.75L145.23 191.87L145.45 195.66L145.68 198.92L145.90 201.49L146.12 203.25L146.35 204.10L146.57 204.01L146.80 202.97L147.02 201.04L147.25 198.31L147.47 194.93L147.70 191.06L147.93 186.90L148.15 182.65L148.38 178.53L148.60 174.74L148.82 171.48L149.05 168.91L149.28 167.15L149.50 166.30L149.73 166.39L149.95 167.43L150.18 169.36L150.40 172.09L150.62 175.47L150.85 179.34L151.07 183.50L151.30 187.75L151.52 191.87L151.75 195.66L151.97 198.92L152.20 201.49L152.43 203.25L152.65 204.10L152.88 204.01L153.10 202.97L153.32 201.04L153.55 198.31L153.78 194.93L154.00 191.06L154.22 186.90L154.45 182.65L154.68 178.53L154.90 174.74L155.12 171.48L155.35 168.91L155.57 167.15L155.80 166.30L156.03 166.39L156.25 167.43L156.47 169.36L156.70 172.09L156.93 175.47L157.15 179.34L157.38 183.50L157.60 187.75L157.82 191.87L158.05 195.66L158.28 198.92L158.50 201.49L158.72 203.25L158.95 204.10L159.18 204.01L159.40 202.97L159.62 201.04L159.85 198.31L160.07 194.93L160.30 191.06L160.53 186.90L160.75 182.65L160.97 178.53L161.20 174.74L161.43 171.48L161.65 168.91L161.88 167.15L162.10 166.30L162.32 166.39L162.55 167.43L162.78 169.36L163.00 172.09L163.22 175.47L163.45 179.34L163.68 183.50L163.90 187.75L164.12 191.87L164.35 195.66L164.57 198.92L164.80 201.49L165.03 203.25L165.25 204.10L165.47 204.01L165.70 202.97L165.92 201.04L166.15 198.31L166.38 194.93L166.60 191.06L166.83 186.90L167.05 182.65L167.27 178.53L167.50 174.74L167.72 171.48L167.95 168.91L168.18 167.15L168.40 166.30L168.62 166.39L168.85 167.43L169.07 169.36L169.30 172.09L169.53 175.47L169.75 179.34L169.97 183.50L170.20 187.75L170.42 191.87L170.65 195.66L170.88 198.92L171.10 201.49L171.33 203.25L171.55 204.10L171.78 204.01L172.00 202.97L172.22 201.04L172.45 198.31L172.68 194.93L172.90 191.06L173.12 186.90L173.35 182.65L173.57 178.53L173.80 174.74L174.03 171.48L174.25 168.91L174.47 167.15L174.70 166.30L174.92 166.39L175.15 167.43L175.38 169.36L175.60 172.09L175.83 175.47L176.05 179.34L176.28 183.50L176.50 187.75L176.72 191.87L176.95 195.66L177.18 198.92L177.40 201.49L177.62 203.25L177.85 204.10L178.07 204.01L178.30 202.97L178.53 201.04L178.75 198.31L178.97 194.93L179.20 191.06L179.42 186.90L179.65 182.65L179.88 178.53L180.10 174.74L180.33 171.48L180.55 168.91L180.78 167.15L181.00 166.30L181.22 166.39L181.45 167.43L181.68 169.36L181.90 172.09L182.12 175.47L182.35 179.34L182.57 183.50L182.80 187.75L183.03 191.87L183.25 195.66L183.47 198.92L183.70 201.49L183.93 203.25L184.15 204.10L184.38 204.01L184.60 202.97L184.82 201.04L185.05 198.31L185.28 194.93L185.50 191.06L185.72 186.90L185.95 182.65L186.17 178.53L186.40 174.74L186.62 171.48L186.85 168.91L187.07 167.15L187.30 166.30L187.53 166.39L187.75 167.43L187.98 169.36L188.20 172.09L188.42 175.47L188.65 179.34L188.88 183.50L189.10 187.75L189.32 191.87L189.55 195.66L189.78 198.92L190.00 201.49L190.22 203.25L190.45 204.10L190.68 204.01L190.90 202.97L191.13 201.04L191.35 198.31L191.57 194.93L191.80 191.06L192.02 186.90L192.25 182.65L192.47 178.53L192.70 174.74L192.93 171.48L193.15 168.91L193.38 167.15L193.60 166.30L193.83 166.39L194.05 167.43L194.27 169.36L194.50 172.09L194.72 175.47L194.95 179.34L195.17 183.50L195.40 187.75L195.62 191.87L195.85 195.66L196.08 198.92L196.30 201.49L196.53 203.25L196.75 204.10L196.98 204.01L197.20 202.97L197.42 201.04L197.65 198.31L197.88 194.93L198.10 191.06L198.32 186.90L198.55 182.65L198.78 178.53L199.00 174.74L199.22 171.48L199.45 168.91L199.68 167.15L199.90 166.30L200.12 166.39L200.35 167.43L200.57 169.36L200.80 172.09L201.03 175.47L201.25 179.34L201.47 183.50L201.70 187.75L201.93 191.87L202.15 195.66L202.38 198.92L202.60 201.49L202.83 203.25L203.05 204.10L203.27 204.01L203.50 202.97L203.72 201.04L203.95 198.31L204.17 194.93L204.40 191.06L204.62 186.90L204.85 182.65L205.08 178.53L205.30 174.74L205.53 171.48L205.75 168.91L205.97 167.15L206.20 166.30L206.42 166.39L206.65 167.43L206.88 169.36L207.10 172.09L207.32 175.47L207.55 179.34L207.78 183.50L208.00 187.75L208.23 191.87L208.45 195.66L208.68 198.92L208.90 201.49L209.12 203.25L209.35 204.10L209.57 204.01L209.80 202.97L210.03 201.04L210.25 198.31L210.47 194.93L210.70 191.06L210.93 186.90L211.15 182.65L211.38 178.53L211.60 174.74L211.82 171.48L212.05 168.91L212.27 167.15L212.50 166.30L212.72 166.39L212.95 167.43L213.18 169.36L213.40 172.09L213.62 175.47L213.85 179.34L214.08 183.50L214.30 187.75L214.53 191.87L214.75 195.66L214.97 198.92L215.20 201.49L215.42 203.25L215.65 204.10L215.88 204.01L216.10 202.97L216.32 201.04L216.55 198.31L216.78 194.93L217.00 191.06L217.23 186.90L217.45 182.65L217.67 178.53L217.90 174.74L218.12 171.48L218.35 168.91L218.57 167.15L218.80 166.30L219.03 166.39L219.25 167.43L219.47 169.36L219.70 172.09L219.93 175.47L220.15 179.34L220.38 183.50L220.60 187.75L220.82 191.87L221.05 195.66L221.28 198.92L221.50 201.49L221.72 203.25L221.95 204.10L222.18 204.01L222.40 202.97L222.62 201.04L222.85 198.31L223.08 194.93L223.30 191.06L223.52 186.90L223.75 182.65L223.97 178.53L224.20 174.74L224.42 171.48L224.65 168.91L224.88 167.15L225.10 166.30L225.33 166.39L225.55 167.43L225.78 169.36L226.00 172.09L226.23 175.47L226.45 179.34L226.67 183.50L226.90 187.75L227.12 191.87L227.35 195.66L227.57 198.92L227.80 201.49L228.03 203.25L228.25 204.10L228.47 204.01L228.70 202.97L228.93 201.04L229.15 198.31L229.37 194.93L229.60 191.06L229.82 186.90L230.05 182.65L230.28 178.53L230.50 174.74L230.72 171.48L230.95 168.91L231.18 167.15L231.40 166.30L231.62 166.39L231.85 167.43L232.08 169.36L232.30 172.09L232.52 175.47L232.75 179.34L232.97 183.50L233.20 187.75L233.43 191.87L233.65 195.66L233.88 198.92L234.10 201.49L234.33 203.25L234.55 204.10L234.78 204.01L235.00 202.97L235.22 201.04L235.45 198.31L235.67 194.93L235.90 191.06L236.12 186.90L236.35 182.65L236.57 178.53L236.80 174.74L237.03 171.48L237.25 168.91L237.48 167.15L237.70 166.30L237.93 166.39L238.15 167.43L238.38 169.36L238.60 172.09L238.82 175.47L239.05 179.34L239.28 183.50L239.50 187.75L239.72 191.87L239.95 195.66L240.18 198.92L240.40 201.49L240.62 203.25L240.85 204.10L241.07 204.01L241.30 202.97L241.52 201.04L241.75 198.31L241.97 194.93L242.20 191.06L242.43 186.90L242.65 182.65L242.88 178.53L243.10 174.74L243.33 171.48L243.55 168.91L243.78 167.15L244.00 166.30L244.22 166.39L244.45 167.43L244.67 169.36L244.90 172.09L245.12 175.47L245.35 179.34L245.58 183.50L245.80 187.75L246.03 191.87L246.25 195.66L246.48 198.92L246.70 201.49L246.92 203.25L247.15 204.10L247.38 204.01L247.60 202.97L247.82 201.04L248.05 198.31L248.28 194.93L248.50 191.06L248.72 186.90L248.95 182.65L249.18 178.53L249.40 174.74L249.63 171.48L249.85 168.91L250.07 167.15L250.30 166.30L250.53 166.39L250.75 167.43L250.97 169.36L251.20 172.09L251.43 175.47L251.65 179.34L251.88 183.50L252.10 187.75L252.33 191.87L252.55 195.66L252.77 198.92L253.00 201.49L253.22 203.25L253.45 204.10L253.67 204.01L253.90 202.97L254.12 201.04L254.35 198.31L254.58 194.93L254.80 191.06L255.03 186.90L255.25 182.65L255.48 178.53L255.70 174.74L255.92 171.48L256.15 168.91L256.38 167.15L256.60 166.30L256.82 166.39L257.05 167.43L257.27 169.36L257.50 172.09L257.73 175.47L257.95 179.34L258.18 183.50L258.40 187.75L258.62 191.87L258.85 195.66L259.07 198.92L259.30 201.49L259.52 203.25L259.75 204.10L259.98 204.01L260.20 202.97L260.43 201.04L260.65 198.31L260.88 194.93L261.10 191.06L261.32 186.90L261.55 182.65L261.77 178.53L262.00 174.74L262.23 171.48L262.45 168.91L262.68 167.15L262.90 166.30L263.12 166.39L263.35 167.43L263.58 169.36L263.80 172.09L264.02 175.47L264.25 179.34L264.48 183.50L264.70 187.75L264.92 191.87L265.15 195.66L265.38 198.92L265.60 201.49L265.82 203.25L266.05 204.10L266.27 204.01L266.50 202.97L266.73 201.04L266.95 198.31L267.17 194.93L267.40 191.06L267.62 186.90L267.85 182.65L268.07 178.53L268.30 174.74L268.52 171.48L268.75 168.91L268.98 167.15L269.20 166.30L269.43 166.39L269.65 167.43L269.88 169.36L270.10 172.09L270.32 175.47L270.55 179.34L270.77 183.50L271.00 187.75L271.23 191.87L271.45 195.66L271.68 198.92L271.90 201.49L272.12 203.25L272.35 204.10L272.58 204.01L272.80 202.97L273.02 201.04L273.25 198.31L273.48 194.93L273.70 191.06L273.92 186.90L274.15 182.65L274.38 178.53L274.60 174.74L274.83 171.48L275.05 168.91L275.27 167.15L275.50 166.30L275.73 166.39L275.95 167.43L276.17 169.36L276.40 172.09L276.62 175.47L276.85 179.34L277.07 183.50L277.30 187.75L277.52 191.87L277.75 195.66L277.98 198.92L278.20 201.49L278.43 203.25L278.65 204.10L278.88 204.01L279.10 202.97L279.32 201.04L279.55 198.31L279.77 194.93L280.00 191.06L280.23 186.90L280.45 182.65L280.68 178.53L280.90 174.74L281.12 171.48L281.35 168.91L281.58 167.15L281.80 166.30L282.02 166.39L282.25 167.43L282.48 169.36L282.70 172.09L282.92 175.47L283.15 179.34L283.38 183.50L283.60 187.75L283.83 191.87L284.05 195.66L284.28 198.92L284.50 201.49L284.72 203.25L284.95 204.10L285.18 204.01L285.40 202.97L285.62 201.04L285.85 198.31L286.07 194.93L286.30 191.06L286.52 186.90L286.75 182.65L286.98 178.53L287.20 174.74L287.43 171.48L287.65 168.91L287.88 167.15L288.10 166.30L288.32 166.39L288.55 167.43L288.77 169.36L289.00 172.09L289.23 175.47L289.45 179.34L289.68 183.50L289.90 187.75L290.12 191.87L290.35 195.66L290.57 198.92L290.80 201.49L291.02 203.25L291.25 204.10L291.47 204.01L291.70 202.97L291.93 201.04L292.15 198.31L292.38 194.93L292.60 191.06L292.82 186.90L293.05 182.65L293.28 178.53L293.50 174.74L293.72 171.48L293.95 168.91L294.18 167.15L294.40 166.30L294.62 166.39L294.85 167.43L295.07 169.36L295.30 172.09L295.53 175.47L295.75 179.34L295.98 183.50L296.20 187.75L296.43 191.87L296.65 195.66L296.88 198.92L297.10 201.49L297.32 203.25L297.55 204.10L297.77 204.01L298.00 202.97L298.23 201.04L298.45 198.31L298.68 194.93L298.90 191.06L299.12 186.90L299.35 182.65L299.57 178.53L299.80 174.74L300.02 171.48L300.25 168.91L300.48 167.15L300.70 166.30L300.93 166.39L301.15 167.43L301.38 169.36L301.60 172.09L301.82 175.47L302.05 179.34L302.27 183.50L302.50 187.75L302.72 191.87L302.95 195.66L303.18 198.92L303.40 201.49L303.62 203.25L303.85 204.10L304.07 204.01L304.30 202.97L304.53 201.04L304.75 198.31L304.98 194.93L305.20 191.06L305.43 186.90L305.65 182.65L305.88 178.53L306.10 174.74L306.32 171.48L306.55 168.91L306.77 167.15L307.00 166.30L307.23 166.39L307.45 167.43L307.68 169.36L307.90 172.09L308.12 175.47L308.35 179.34L308.57 183.50L308.80 187.75L309.02 191.87L309.25 195.66L309.48 198.92L309.70 201.49L309.93 203.25L310.15 204.10L310.38 204.01L310.60 202.97L310.82 201.04L311.05 198.31L311.27 194.93L311.50 191.06L311.72 186.90L311.95 182.65L312.18 178.53L312.40 174.74L312.62 171.48L312.85 168.91L313.07 167.15L313.30 166.30L313.53 166.39L313.75 167.43L313.97 169.36L314.20 172.09L314.43 175.47L314.65 179.34L314.88 183.50L315.10 187.75L315.32 191.87L315.55 195.66L315.78 198.92L316.00 201.49L316.23 203.25L316.45 204.10L316.68 204.01L316.90 202.97L317.12 201.04L317.35 198.31L317.57 194.93L317.80 191.06L318.02 186.90L318.25 182.65L318.48 178.53L318.70 174.74L318.93 171.48L319.15 168.91L319.38 167.15L319.60 166.30L319.82 166.39L320.05 167.43L320.27 169.36L320.50 172.09L320.73 175.47L320.95 179.34L321.18 183.50L321.40 187.75L321.62 191.87L321.85 195.66L322.07 198.92L322.30 201.49L322.53 203.25L322.75 204.10L322.97 204.01L323.20 202.97L323.43 201.04L323.65 198.31L323.88 194.93L324.10 191.06L324.32 186.90L324.55 182.65L324.78 178.53L325.00 174.74L325.23 171.48L325.45 168.91L325.68 167.15L325.90 166.30L326.12 166.39L326.35 167.43L326.57 169.36L326.80 172.09L327.02 175.47L327.25 179.34L327.48 183.50L327.70 187.75L327.93 191.87L328.15 195.66L328.38 198.92L328.60 201.49L328.82 203.25L329.05 204.10L329.27 204.01L329.50 202.97L329.73 201.04L329.95 198.31L330.18 194.93L330.40 191.06L330.62 186.90L330.85 182.65L331.07 178.53L331.30 174.74L331.52 171.48L331.75 168.91L331.97 167.15L332.20 166.30L332.43 166.39L332.65 167.43L332.88 169.36L333.10 172.09L333.32 175.47L333.55 179.34L333.78 183.50L334.00 187.75L334.23 191.87L334.45 195.66L334.68 198.92L334.90 201.49L335.12 203.25L335.35 204.10L335.57 204.01L335.80 202.97L336.02 201.04L336.25 198.31L336.48 194.93L336.70 191.06L336.93 186.90L337.15 182.65L337.38 178.53L337.60 174.74L337.82 171.48L338.05 168.91L338.27 167.15L338.50 166.30L338.73 166.39L338.95 167.43L339.18 169.36L339.40 172.09L339.62 175.47L339.85 179.34L340.07 183.50L340.30 187.75L340.52 191.87L340.75 195.66L340.97 198.92L341.20 201.49L341.43 203.25L341.65 204.10L341.88 204.01L342.10 202.97L342.32 201.04L342.55 198.31L342.78 194.93L343.00 191.06"/>
<path stroke="#f06030" d="M28.00 213.85L28.23 213.85L28.45 213.85L28.68 212.97L28.90 208.65L29.12 203.60L29.35 201.78L29.57 199.30L29.80 196.12L30.02 192.39L30.25 188.31L30.48 184.06L30.70 179.87L30.93 175.95L31.15 172.50L31.38 169.68L31.60 167.64L31.82 166.48L32.05 166.25L32.27 166.98L32.50 168.62L32.73 171.10L32.95 174.28L33.17 178.01L33.40 182.09L33.62 186.34L33.85 190.53L34.08 194.45L34.30 197.90L34.52 200.72L34.75 202.76L34.98 203.92L35.20 204.15L35.42 203.42L35.65 201.78L35.88 199.30L36.10 196.12L36.33 192.39L36.55 188.31L36.77 184.06L37.00 179.87L37.23 175.95L37.45 172.50L37.67 169.68L37.90 167.64L38.12 166.48L38.35 166.25L38.58 166.98L38.80 168.62L39.02 171.10L39.25 174.28L39.48 178.01L39.70 182.09L39.92 186.34L40.15 190.53L40.38 194.45L40.60 197.90L40.83 200.72L41.05 202.76L41.27 203.92L41.50 204.15L41.73 203.42L41.95 201.78L42.17 199.30L42.40 196.12L42.62 192.39L42.85 188.31L43.08 184.06L43.30 179.87L43.52 175.95L43.75 172.50L43.98 169.68L44.20 167.64L44.42 166.48L44.65 166.25L44.88 166.98L45.10 168.62L45.33 171.10L45.55 174.28L45.77 178.01L46.00 182.09L46.23 186.34L46.45 190.53L46.67 194.45L46.90 197.90L47.12 200.72L47.35 202.76L47.58 203.92L47.80 204.15L48.02 203.42L48.25 201.78L48.48 199.30L48.70 196.12L48.92 192.39L49.15 188.31L49.38 184.06L49.60 179.87L49.83 175.95L50.05 172.50L50.28 169.68L50.50 167.64L50.73 166.48L50.95 166.25L51.17 166.98L51.40 168.62L51.62 171.10L51.85 174.28L52.08 178.01L52.30 182.09L52.53 186.34L52.75 190.53L52.97 194.45L53.20 197.90L53.42 200.72L53.65 202.76L53.88 203.92L54.10 204.15L54.33 203.42L54.55 201.78L54.78 199.30L55.00 196.12L55.22 192.39L55.45 188.31L55.67 184.06L55.90 179.87L56.12 175.95L56.35 172.50L56.58 169.68L56.80 167.64L57.02 166.48L57.25 166.25L57.47 166.98L57.70 168.62L57.92 171.10L58.15 174.28L58.38 178.01L58.60 182.09L58.83 186.34L59.05 190.53L59.27 194.45L59.50 197.90L59.73 200.72L59.95 202.76L60.18 203.92L60.40 204.15L60.62 203.42L60.85 201.78L61.07 199.30L61.30 196.12L61.52 192.39L61.75 188.31L61.98 184.06L62.20 179.87L62.43 175.95L62.65 172.50L62.88 169.68L63.10 167.64L63.33 166.48L63.55 166.25L63.77 166.98L64.00 168.62L64.22 171.10L64.45 174.28L64.67 178.01L64.90 182.09L65.12 186.34L65.35 190.53L65.58 194.45L65.80 197.90L66.03 200.72L66.25 202.76L66.47 203.92L66.70 204.15L66.92 203.42L67.15 201.78L67.38 199.30L67.60 196.12L67.82 192.39L68.05 188.31L68.28 184.06L68.50 179.87L68.72 175.95L68.95 172.50L69.18 169.68L69.40 167.64L69.62 166.48L69.85 166.25L70.07 166.98L70.30 168.62L70.53 171.10L70.75 174.28L70.97 178.01L71.20 182.09L71.42 186.34L71.65 190.53L71.88 194.45L72.10 197.90L72.32 200.72L72.55 202.76L72.78 203.92L73.00 204.15L73.22 203.42L73.45 201.78L73.67 199.30L73.90 196.12L74.12 192.39L74.35 188.31L74.57 184.06L74.80 179.87L75.03 175.95L75.25 172.50L75.47 169.68L75.70 167.64L75.92 166.48L76.15 166.25L76.38 166.98L76.60 168.62L76.83 171.10L77.05 174.28L77.28 178.01L77.50 182.09L77.72 186.34L77.95 190.53L78.17 194.45L78.40 197.90L78.62 200.72L78.85 202.76L79.08 203.92L79.30 204.15L79.53 203.42L79.75 201.78L79.97 199.30L80.20 196.12L80.42 192.39L80.65 188.31L80.88 184.06L81.10 179.87L81.33 175.95L81.55 172.50L81.78 169.68L82.00 167.64L82.22 166.48L82.45 166.25L82.67 166.98L82.90 168.62L83.12 171.10L83.35 174.28L83.58 178.01L83.80 182.09L84.03 186.34L84.25 190.53L84.47 194.45L84.70 197.90L84.92 200.72L85.15 202.76L85.38 203.92L85.60 204.15L85.83 203.42L86.05 201.78L86.28 199.30L86.50 196.12L86.72 192.39L86.95 188.31L87.18 184.06L87.40 179.87L87.62 175.95L87.85 172.50L88.08 169.68L88.30 167.64L88.53 166.48L88.75 166.25L88.97 166.98L89.20 168.62L89.43 171.10L89.65 174.28L89.88 178.01L90.10 182.09L90.33 186.34L90.55 190.53L90.78 194.45L91.00 185.08L91.22 185.13L91.45 185.17L91.68 185.20L91.90 185.20L92.12 185.19L92.35 185.15L92.58 185.11L92.80 185.05L93.03 184.97L93.25 184.89L93.47 184.81L93.70 184.73L93.92 184.66L94.15 184.59L94.38 184.54L94.60 184.50L94.83 184.47L95.05 184.47L95.28 184.48L95.50 184.52L95.72 184.56L95.95 184.62L96.17 184.70L96.40 184.78L96.62 184.86L96.85 184.94L97.08 185.01L97.30 185.08L97.53 185.13L97.75 185.17L97.97 185.20L98.20 185.20L98.42 185.19L98.65 185.15L98.88 185.11L99.10 185.05L99.33 184.97L99.55 184.89L99.78 184.81L100.00 184.73L100.22 184.66L100.45 184.59L100.67 184.54L100.90 184.50L101.12 184.47L101.35 184.47L101.58 184.48L101.80 184.52L102.02 184.56L102.25 184.62L102.47 184.70L102.70 184.78L102.92 184.86L103.15 184.94L103.38 185.01L103.60 185.08L103.83 185.13L104.05 185.17L104.27 185.20L104.50 185.20L104.73 185.19L104.95 185.15L105.17 185.11L105.40 185.05L105.62 184.97L105.85 184.89L106.08 184.81L106.30 184.73L106.52 184.66L106.75 184.59L106.98 184.54L107.20 184.50L107.43 184.47L107.65 184.47L107.88 184.48L108.10 184.52L108.33 184.56L108.55 184.62L108.78 184.70L109.00 184.78L109.22 184.86L109.45 184.94L109.67 185.01L109.90 185.08L110.12 185.13L110.35 185.17L110.57 185.20L110.80 185.20L111.03 185.19L111.25 185.15L111.48 185.11L111.70 185.05L111.92 184.97L112.15 184.89L112.38 184.81L112.60 184.73L112.83 184.66L113.05 184.59L113.28 184.54L113.50 184.50L113.72 184.47L113.95 184.47L114.17 184.48L114.40 184.52L114.62 184.56L114.85 184.62L115.07 184.70L115.30 184.78L115.53 184.86L115.75 184.94L115.98 185.01L116.20 185.08L116.42 185.13L116.65 185.17L116.88 185.20L117.10 185.20L117.33 185.19L117.55 185.15L117.77 185.11L118.00 185.05L118.22 184.97L118.45 184.89L118.67 184.81L118.90 184.73L119.13 184.66L119.35 184.59L119.58 184.54L119.80 184.50L120.03 184.47L120.25 184.47L120.48 184.48L120.70 184.52L120.92 184.56L121.15 184.62L121.38 184.70L121.60 184.78L121.83 184.86L122.05 184.94L122.27 185.01L122.50 185.08L122.72 185.13L122.95 185.17L123.18 185.20L123.40 185.20L123.62 201.42L123.85 200.50L124.08 198.73L124.30 196.21L124.53 193.04L124.75 189.41L124.97 185.52L125.20 181.57L125.42 177.78L125.65 174.37L125.88 171.52L126.10 169.39L126.33 168.11L126.55 167.73L126.77 168.29L127.00 169.77L127.22 172.08L127.45 175.11L127.68 178.70L127.90 182.67L128.12 186.82L128.35 190.93L128.57 194.79L128.80 198.20L129.03 200.98L129.25 203.00L129.47 204.15L129.70 204.36L129.93 203.62L130.15 201.98L130.38 199.50L130.60 196.32L130.82 192.59L131.05 188.50L131.27 184.25L131.50 180.05L131.73 176.12L131.95 172.66L132.18 169.83L132.40 167.78L132.62 166.61L132.85 166.38L133.07 167.10L133.30 168.73L133.53 171.19L133.75 174.36L133.97 178.08L134.20 182.17L134.43 186.40L134.65 190.59L134.88 194.50L135.10 197.95L135.32 200.77L135.55 202.81L135.77 203.97L136.00 204.18L136.23 203.45L136.45 201.81L136.68 199.33L136.90 196.15L137.12 192.42L137.35 188.33L137.57 184.09L137.80 179.90L138.03 175.98L138.25 172.52L138.47 169.70L138.70 167.65L138.93 166.49L139.15 166.27L139.38 167.00L139.60 168.64L139.82 171.11L140.05 174.29L140.28 178.02L140.50 182.10L140.73 186.35L140.95 190.53L141.18 194.45L141.40 197.91L141.62 200.73L141.85 202.77L142.07 203.93L142.30 204.15L142.52 203.42L142.75 201.78L142.97 199.31L143.20 196.13L143.43 192.40L143.65 188.31L143.88 184.07L144.10 179.88L144.32 175.96L144.55 172.50L144.78 169.68L145.00 167.64L145.23 166.48L145.45 166.26L145.68 166.98L145.90 168.63L146.12 171.10L146.35 174.28L146.57 178.01L146.80 182.10L147.02 186.34L147.25 190.53L147.47 194.45L147.70 197.90L147.93 200.72L148.15 202.76L148.38 203.92L148.60 204.15L148.82 203.42L149.05 201.78L149.28 199.30L149.50 196.12L149.73 192.40L149.95 188.31L150.18 184.06L150.40 179.88L150.62 175.95L150.85 172.50L151.07 169.68L151.30 167.64L151.52 166.48L151.75 166.25L151.97 166.98L152.20 168.62L152.43 171.10L152.65 174.28L152.88 178.01L153.10 182.09L153.32 186.34L153.55 190.53L153.78 194.45L154.00 197.90L154.22 200.72L154.45 202.76L154.68 203.92L154.90 204.15L155.12 203.42L155.35 201.78L155.57 199.30L155.80 196.12L156.03 192.39L156.25 188.31L156.47 184.06L156.70 179.87L156.93 175.95L157.15 172.50L157.38 169.68L157.60 167.64L157.82 166.48L158.05 166.25L158.28 166.98L158.50 168.62L158.72 171.10L158.95 174.28L159.18 178.01L159.40 182.09L159.62 186.34L159.85 190.53L160.07 194.45L160.30 197.90L160.53 200.72L160.75 202.76L160.97 203.92L161.20 204.15L161.43 203.42L161.65 201.78L161.88 199.30L162.10 196.12L162.32 192.39L162.55 188.31L162.78 184.06L163.00 179.87L163.22 175.95L163.45 172.50L163.68 169.68L163.90 167.64L164.12 166.48L164.35 166.25L164.57 166.98L164.80 168.62L165.03 171.10L165.25 174.28L165.47 178.01L165.70 182.09L165.92 186.34L166.15 190.53L166.38 194.45L166.60 197.90L166.83 200.72L167.05 202.76L167.27 203.92L167.50 204.15L167.72 203.42L167.95 201.78L168.18 199.30L168.40 196.12L168.62 192.39L168.85 188.31L169.07 184.06L169.30 179.87L169.53 175.95L169.75 172.50L169.97 169.68L170.20 167.64L170.42 166.48L170.65 166.25L170.88 166.98L171.10 168.62L171.33 171.10L171.55 174.28L171.78 178.01L172.00 182.09L172.22 186.34L172.45 190.53L172.68 194.45L172.90 197.90L173.12 200.72L173.35 202.76L173.57 203.92L173.80 204.15L174.03 203.42L174.25 201.78L174.47 199.30L174.70 196.12L174.92 192.39L175.15 188.31L175.38 184.06L175.60 179.87L175.83 175.95L176.05 172.50L176.28 169.68L176.50 167.64L176.72 166.48L176.95 166.25L177.18 166.98L177.40 168.62L177.62 171.10L177.85 174.28L178.07 178.01L178.30 182.09L178.53 186.34L178.75 190.53L178.97 194.45L179.20 197.90L179.42 200.72L179.65 202.76L179.88 203.92L180.10 204.15L180.33 203.42L180.55 201.78L180.78 199.30L181.00 196.12L181.22 192.39L181.45 188.31L181.68 184.06L181.90 179.87L182.12 175.95L182.35 172.50L182.57 169.68L182.80 167.64L183.03 166.48L183.25 166.25L183.47 166.98L183.70 168.62L183.93 171.10L184.15 174.28L184.38 178.01L184.60 182.09L184.82 186.34L185.05 190.53L185.28 194.45L185.50 197.90L185.72 200.72L185.95 202.76L186.17 203.92L186.40 204.15L186.62 203.42L186.85 201.78L187.07 199.30L187.30 196.12L187.53 192.39L187.75 188.31L187.98 184.06L188.20 179.87L188.42 175.95L188.65 172.50L188.88 169.68L189.10 167.64L189.32 166.48L189.55 166.25L189.78 166.98L190.00 168.62L190.22 171.10L190.45 174.28L190.68 178.01L190.90 182.09L191.13 186.34L191.35 190.53L191.57 194.45L191.80 197.90L192.02 200.72L192.25 202.76L192.47 203.92L192.70 204.15L192.93 203.42L193.15 201.78L193.38 199.30L193.60 196.12L193.83 192.39L194.05 188.31L194.27 184.06L194.50 179.87L194.72 175.95L194.95 172.50L195.17 169.68L195.40 167.64L195.62 166.48L195.85 166.25L196.08 166.98L196.30 168.62L196.53 171.10L196.75 174.28L196.98 178.01L197.20 182.09L197.42 186.34L197.65 190.53L197.88 194.45L198.10 197.90L198.32 200.72L198.55 202.76L198.78 203.92L199.00 204.15L199.22 203.42L199.45 201.78L199.68 199.30L199.90 196.12L200.12 192.39L200.35 188.31L200.57 184.06L200.80 179.87L201.03 175.95L201.25 172.50L201.47 169.68L201.70 167.64L201.93 166.48L202.15 166.25L202.38 166.98L202.60 168.62L202.83 171.10L203.05 174.28L203.27 178.01L203.50 182.09L203.72 186.34L203.95 190.53L204.17 194.45L204.40 197.90L204.62 200.72L204.85 202.76L205.08 203.92L205.30 204.15L205.53 203.42L205.75 201.78L205.97 199.30L206.20 196.12L206.42 192.39L206.65 188.31L206.88 184.06L207.10 179.87L207.32 175.95L207.55 172.50L207.78 169.68L208.00 167.64L208.23 166.48L208.45 166.25L208.68 166.98L208.90 168.62L209.12 171.10L209.35 174.28L209.57 178.01L209.80 182.09L210.03 186.34L210.25 190.53L210.47 194.45L210.70 197.90L210.93 200.72L211.15 202.76L211.38 203.92L211.60 204.15L211.82 203.42L212.05 201.78L212.27 199.30L212.50 196.12L212.72 192.39L212.95 188.31L213.18 184.06L213.40 179.87L213.62 175.95L213.85 172.50L214.08 169.68L214.30 167.64L214.53 166.48L214.75 166.25L214.97 166.98L215.20 168.62L215.42 171.10L215.65 174.28L215.88 178.01L216.10 182.09L216.32 186.34L216.55 190.53L216.78 194.45L217.00 197.90L217.23 200.72L217.45 202.76L217.67 203.92L217.90 204.15L218.12 203.42L218.35 201.78L218.57 199.30L218.80 196.12L219.03 192.39L219.25 188.31L219.47 184.06L219.70 179.87L219.93 175.95L220.15 172.50L220.38 169.68L220.60 167.64L220.82 166.48L221.05 166.25L221.28 166.98L221.50 168.62L221.72 171.10L221.95 174.28L222.18 178.01L222.40 182.09L222.62 186.34L222.85 190.53L223.08 194.45L223.30 197.90L223.52 200.72L223.75 202.76L223.97 203.92L224.20 204.15L224.42 203.42L224.65 201.78L224.88 199.30L225.10 196.12L225.33 192.39L225.55 188.31L225.78 184.06L226.00 179.87L226.23 175.95L226.45 172.50L226.67 169.68L226.90 167.64L227.12 166.48L227.35 166.25L227.57 166.98L227.80 168.62L228.03 171.10L228.25 174.28L228.47 178.01L228.70 182.09L228.93 186.34L229.15 190.53L229.37 194.45L229.60 197.90L229.82 200.72L230.05 202.76L230.28 203.92L230.50 204.15L230.72 203.42L230.95 201.78L231.18 199.30L231.40 196.12L231.62 192.39L231.85 188.31L232.08 184.06L232.30 179.87L232.52 175.95L232.75 172.50L232.97 169.68L233.20 167.64L233.43 166.48L233.65 166.25L233.88 166.98L234.10 168.62L234.33 171.10L234.55 174.28L234.78 178.01L235.00 182.09L235.22 186.34L235.45 190.53L235.67 194.45L235.90 197.90L236.12 200.72L236.35 202.76L236.57 203.92L236.80 204.15L237.03 203.42L237.25 201.78L237.48 199.30L237.70 196.12L237.93 192.39L238.15 188.31L238.38 184.06L238.60 179.87L238.82 175.95L239.05 172.50L239.28 169.68L239.50 167.64L239.72 166.48L239.95 166.25L240.18 166.98L240.40 168.62L240.62 171.10L240.85 174.28L241.07 178.01L241.30 182.09L241.52 186.34L241.75 190.53L241.97 194.45L242.20 197.90L242.43 200.72L242.65 202.76L242.88 203.92L243.10 204.15L243.33 203.42L243.55 201.78L243.78 199.30L244.00 196.12L244.22 192.39L244.45 188.31L244.67 184.06L244.90 179.87L245.12 175.95L245.35 172.50L245.58 169.68L245.80 167.64L246.03 166.48L246.25 166.25L246.48 166.98L246.70 168.62L246.92 171.10L247.15 174.28L247.38 178.01L247.60 182.09L247.82 186.34L248.05 190.53L248.28 194.45L248.50 197.90L248.72 200.72L248.95 202.76L249.18 203.92L249.40 204.15L249.63 203.42L249.85 201.78L250.07 199.30L250.30 196.12L250.53 192.39L250.75 188.31L250.97 184.06L251.20 179.87L251.43 175.95L251.65 172.50L251.88 169.68L252.10 167.64L252.33 166.48L252.55 166.25L252.77 166.98L253.00 168.62L253.22 171.10L253.45 174.28L253.67 178.01L253.90 182.09L254.12 186.34L254.35 190.53L254.58 194.45L254.80 197.90L255.03 200.72L255.25 202.76L255.48 203.92L255.70 204.15L255.92 203.42L256.15 201.78L256.38 199.30L256.60 196.12L256.82 192.39L257.05 188.31L257.27 184.06L257.50 179.87L257.73 175.95L257.95 172.50L258.18 169.68L258.40 167.64L258.62 166.48L258.85 166.25L259.07 166.98L259.30 168.62L259.52 171.10L259.75 174.28L259.98 178.01L260.20 182.09L260.43 186.34L260.65 190.53L260.88 194.45L261.10 197.90L261.32 200.72L261.55 202.76L261.77 203.92L262.00 204.15L262.23 203.42L262.45 201.78L262.68 199.30L262.90 196.12L263.12 192.39L263.35 188.31L263.58 184.06L263.80 179.87L264.02 175.95L264.25 172.50L264.48 169.68L264.70 167.64L264.92 166.48L265.15 166.25L265.38 166.98L265.60 168.62L265.82 171.10L266.05 174.28L266.27 178.01L266.50 182.09L266.73 186.34L266.95 190.53L267.17 194.45L267.40 197.90L267.62 200.72L267.85 202.76L268.07 203.92L268.30 204.15L268.52 203.42L268.75 201.78L268.98 199.30L269.20 196.12L269.43 192.39L269.65 188.31L269.88 184.06L270.10 179.87L270.32 175.95L270.55 172.50L270.77 169.68L271.00 167.64L271.23 166.48L271.45 166.25L271.68 166.98L271.90 168.62L272.12 171.10L272.35 174.28L272.58 178.01L272.80 182.09L273.02 186.34L273.25 190.53L273.48 194.45L273.70 197.90L273.92 200.72L274.15 202.76L274.38 203.92L274.60 204.15L274.83 203.42L275.05 201.78L275.27 199.30L275.50 196.12L275.73 192.39L275.95 188.31L276.17 184.06L276.40 179.87L276.62 175.95L276.85 172.50L277.07 169.68L277.30 167.64L277.52 166.48L277.75 166.25L277.98 166.98L278.20 168.62L278.43 171.10L278.65 174.28L278.88 178.01L279.10 182.09L279.32 186.34L279.55 190.53L279.77 194.45L280.00 197.90L280.23 200.72L280.45 202.76L280.68 203.92L280.90 204.15L281.12 203.42L281.35 201.78L281.58 199.30L281.80 196.12L282.02 192.39L282.25 188.31L282.48 184.06L282.70 179.87L282.92 175.95L283.15 172.50L283.38 169.68L283.60 167.64L283.83 166.48L284.05 166.25L284.28 166.98L284.50 168.62L284.72 171.10L284.95 174.28L285.18 178.01L285.40 182.09L285.62 186.34L285.85 190.53L286.07 194.45L286.30 197.90L286.52 200.72L286.75 202.76L286.98 203.92L287.20 204.15L287.43 203.42L287.65 201.78L287.88 199.30L288.10 196.12L288.32 192.39L288.55 188.31L288.77 184.06L289.00 179.87L289.23 175.95L289.45 172.50L289.68 169.68L289.90 167.64L290.12 166.48L290.35 166.25L290.57 166.98L290.80 168.62L291.02 171.10L291.25 174.28L291.47 178.01L291.70 182.09L291.93 186.34L292.15 190.53L292.38 194.45L292.60 197.90L292.82 200.72L293.05 202.76L293.28 203.92L293.50 204.15L293.72 203.42L293.95 201.78L294.18 199.30L294.40 196.12L294.62 192.39L294.85 188.31L295.07 184.06L295.30 179.87L295.53 175.95L295.75 172.50L295.98 169.68L296.20 167.64L296.43 166.48L296.65 166.25L296.88 166.98L297.10 168.62L297.32 171.10L297.55 174.28L297.77 178.01L298.00 182.09L298.23 186.34L298.45 190.53L298.68 194.45L298.90 197.90L299.12 200.72L299.35 202.76L299.57 203.92L299.80 204.15L300.02 203.42L300.25 201.78L300.48 199.30L300.70 196.12L300.93 192.39L301.15 188.31L301.38 184.06L301.60 179.87L301.82 175.95L302.05 172.50L302.27 169.68L302.50 167.64L302.72 166.48L302.95 166.25L303.18 166.98L303.40 168.62L303.62 171.10L303.85 174.28L304.07 178.01L304.30 182.09L304.53 186.34L304.75 190.53L304.98 194.45L305.20 197.90L305.43 200.72L305.65 202.76L305.88 203.92L306.10 204.15L306.32 203.42L306.55 201.78L306.77 199.30L307.00 196.12L307.23 192.39L307.45 188.31L307.68 184.06L307.90 179.87L308.12 175.95L308.35 172.50L308.57 169.68L308.80 167.64L309.02 166.48L309.25 166.25L309.48 166.98L309.70 168.62L309.93 171.10L310.15 174.28L310.38 178.01L310.60 182.09L310.82 186.34L311.05 190.53L311.27 194.45L311.50 197.90L311.72 200.72L311.95 202.76L312.18 203.92L312.40 204.15L312.62 203.42L312.85 201.78L313.07 199.30L313.30 196.12L313.53 192.39L313.75 188.31L313.97 184.06L314.20 179.87L314.43 175.95L314.65 172.50L314.88 169.68L315.10 167.64L315.32 166.48L315.55 166.25L315.78 166.98L316.00 168.62L316.23 171.10L316.45 174.28L316.68 178.01L316.90 182.09L317.12 186.34L317.35 190.53L317.57 194.45L317.80 197.90L318.02 200.72L318.25 202.76L318.48 203.92L318.70 204.15L318.93 203.42L319.15 201.78L319.38 199.30L319.60 196.12L319.82 192.39L320.05 188.31L320.27 184.06L320.50 179.87L320.73 175.95L320.95 172.50L321.18 169.68L321.40 167.64L321.62 166.48L321.85 166.25L322.07 166.98L322.30 168.62L322.53 171.10L322.75 174.28L322.97 178.01L323.20 182.09L323.43 186.34L323.65 190.53L323.88 194.45L324.10 197.90L324.32 200.72L324.55 202.76L324.78 203.92L325.00 204.15L325.23 203.42L325.45 201.78L325.68 199.30L325.90 196.12L326.12 192.39L326.35 188.31L326.57 184.06L326.80 179.87L327.02 175.95L327.25 172.50L327.48 169.68L327.70 167.64L327.93 166.48L328.15 166.25L328.38 166.98L328.60 168.62L328.82 171.10L329.05 174.28L329.27 178.01L329.50 182.09L329.73 186.34L329.95 190.53L330.18 194.45L330.40 197.90L330.62 200.72L330.85 202.76L331.07 203.92L331.30 204.15L331.52 203.42L331.75 201.78L331.97 199.30L332.20 196.12L332.43 192.39L332.65 188.31L332.88 184.06L333.10 179.87L333.32 175.95L333.55 172.50L333.78 169.68L334.00 167.64L334.23 166.48L334.45 166.25L334.68 166.98L334.90 168.62L335.12 171.10L335.35 174.28L335.57 178.01L335.80 182.09L336.02 186.34L336.25 190.53L336.48 194.45L336.70 197.90L336.93 200.72L337.15 202.76L337.38 203.92L337.60 204.15L337.82 203.42L338.05 201.78L338.27 199.30L338.50 196.12L338.73 192.39L338.95 188.31L339.18 184.06L339.40 179.87L339.62 175.95L339.85 172.50L340.07 169.68L340.30 167.64L340.52 166.48L340.75 166.25L340.97 166.98L341.20 168.62L341.43 171.10L341.65 174.28L341.88 178.01L342.10 182.09L342.32 186.34L342.55 190.53L342.78 194.45L343.00 197.90"/>
<path stroke="#f5e62a" d="M28.00 141.76L28.23 141.76L28.45 141.76L28.68 144.57L28.90 160.49L29.12 180.01L29.35 184.92L29.57 189.15L29.80 193.18L30.02 196.81L30.25 199.86L30.48 202.18L30.70 203.64L30.93 204.18L31.15 203.76L31.38 202.42L31.60 200.21L31.82 197.25L32.05 193.69L32.27 189.70L32.50 185.48L32.73 181.25L32.95 177.22L33.17 173.59L33.40 170.54L33.62 168.22L33.85 166.76L34.08 166.22L34.30 166.64L34.52 167.98L34.75 170.19L34.98 173.15L35.20 176.71L35.42 180.70L35.65 184.92L35.88 189.15L36.10 193.18L36.33 196.81L36.55 199.86L36.77 202.18L37.00 203.64L37.23 204.18L37.45 203.76L37.67 202.42L37.90 200.21L38.12 197.25L38.35 193.69L38.58 189.70L38.80 185.48L39.02 181.25L39.25 177.22L39.48 173.59L39.70 170.54L39.92 168.22L40.15 166.76L40.38 166.22L40.60 166.64L40.83 167.98L41.05 170.19L41.27 173.15L41.50 176.71L41.73 180.70L41.95 184.92L42.17 189.15L42.40 193.18L42.62 196.81L42.85 199.86L43.08 202.18L43.30 203.64L43.52 204.18L43.75 203.76L43.98 202.42L44.20 200.21L44.42 197.25L44.65 193.69L44.88 189.70L45.10 185.48L45.33 181.25L45.55 177.22L45.77 173.59L46.00 170.54L46.23 168.22L46.45 166.76L46.67 166.22L46.90 166.64L47.12 167.98L47.35 170.19L47.58 173.15L47.80 176.71L48.02 180.70L48.25 184.92L48.48 189.15L48.70 193.18L48.92 196.81L49.15 199.86L49.38 202.18L49.60 203.64L49.83 204.18L50.05 203.76L50.28 202.42L50.50 200.21L50.73 197.25L50.95 193.69L51.17 189.70L51.40 185.48L51.62 181.25L51.85 177.22L52.08 173.59L52.30 170.54L52.53 168.22L52.75 166.76L52.97 166.22L53.20 166.64L53.42 167.98L53.65 170.19L53.88 173.15L54.10 176.71L54.33 180.70L54.55 184.92L54.78 189.15L55.00 193.18L55.22 196.81L55.45 199.86L55.67 202.18L55.90 203.64L56.12 204.18L56.35 203.76L56.58 202.42L56.80 200.21L57.02 197.25L57.25 193.69L57.47 189.70L57.70 185.48L57.92 181.25L58.15 177.22L58.38 173.59L58.60 170.54L58.83 168.22L59.05 166.76L59.27 166.22L59.50 166.64L59.73 167.98L59.95 170.19L60.18 173.15L60.40 176.71L60.62 180.70L60.85 184.92L61.07 189.15L61.30 193.18L61.52 196.81L61.75 199.86L61.98 202.18L62.20 203.64L62.43 204.18L62.65 203.76L62.88 202.42L63.10 200.21L63.33 197.25L63.55 193.69L63.77 189.70L64.00 185.48L64.22 181.25L64.45 177.22L64.67 173.59L64.90 170.54L65.12 168.22L65.35 166.76L65.58 166.22L65.80 166.64L66.03 167.98L66.25 170.19L66.47 173.15L66.70 176.71L66.92 180.70L67.15 184.92L67.38 189.15L67.60 193.18L67.82 196.81L68.05 199.86L68.28 202.18L68.50 203.64L68.72 204.18L68.95 203.76L69.18 202.42L69.40 200.21L69.62 197.25L69.85 193.69L70.07 189.70L70.30 185.48L70.53 181.25L70.75 177.22L70.97 173.59L71.20 170.54L71.42 168.22L71.65 166.76L71.88 166.22L72.10 166.64L72.32 167.98L72.55 170.19L72.78 173.15L73.00 176.71L73.22 180.70L73.45 184.92L73.67 189.15L73.90 193.18L74.12 196.81L74.35 199.86L74.57 202.18L74.80 203.64L75.03 204.18L75.25 203.76L75.47 202.42L75.70 200.21L75.92 197.25L76.15 193.69L76.38 189.70L76.60 185.48L76.83 181.25L77.05 177.22L77.28 173.59L77.50 170.54L77.72 168.22L77.95 166.76L78.17 166.22L78.40 166.64L78.62 167.98L78.85 170.19L79.08 173.15L79.30 176.71L79.53 180.70L79.75 184.92L79.97 189.15L80.20 193.18L80.42 196.81L80.65 199.86L80.88 202.18L81.10 203.64L81.33 204.18L81.55 203.76L81.78 202.42L82.00 200.21L82.22 197.25L82.45 193.69L82.67 189.70L82.90 185.48L83.12 181.25L83.35 177.22L83.58 173.59L83.80 170.54L84.03 168.22L84.25 166.76L84.47 166.22L84.70 166.64L84.92 167.98L85.15 170.19L85.38 173.15L85.60 176.71L85.83 180.70L86.05 184.92L86.28 189.15L86.50 193.18L86.72 196.81L86.95 199.86L87.18 202.18L87.40 203.64L87.62 204.18L87.85 203.76L88.08 202.42L88.30 200.21L88.53 197.25L88.75 193.69L88.97 189.70L89.20 185.48L89.43 181.25L89.65 177.22L89.88 173.59L90.10 170.54L90.33 168.22L90.55 166.76L90.78 166.22L91.00 184.48L91.22 184.50L91.45 184.55L91.68 184.60L91.90 184.67L92.12 184.75L92.35 184.83L92.58 184.91L92.80 184.99L93.03 185.06L93.25 185.12L93.47 185.16L93.70 185.19L93.92 185.20L94.15 185.19L94.38 185.17L94.60 185.12L94.83 185.07L95.05 185.00L95.28 184.92L95.50 184.84L95.72 184.76L95.95 184.68L96.17 184.61L96.40 184.55L96.62 184.51L96.85 184.48L97.08 184.47L97.30 184.48L97.53 184.50L97.75 184.55L97.97 184.60L98.20 184.67L98.42 184.75L98.65 184.83L98.88 184.91L99.10 184.99L99.33 185.06L99.55 185.12L99.78 185.16L100.00 185.19L100.22 185.20L100.45 185.19L100.67 185.17L100.90 185.12L101.12 185.07L101.35 185.00L101.58 184.92L101.80 184.84L102.02 184.76L102.25 184.68L102.47 184.61L102.70 184.55L102.92 184.51L103.15 184.48L103.38 184.47L103.60 184.48L103.83 184.50L104.05 184.55L104.27 184.60L104.50 184.67L104.73 184.75L104.95 184.83L105.17 184.91L105.40 184.99L105.62 185.06L105.85 185.12L106.08 185.16L106.30 185.19L106.52 185.20L106.75 185.19L106.98 185.17L107.20 185.12L107.43 185.07L107.65 185.00L107.88 184.92L108.10 184.84L108.33 184.76L108.55 184.68L108.78 184.61L109.00 184.55L109.22 184.51L109.45 184.48L109.67 184.47L109.90 184.48L110.12 184.50L110.35 184.55L110.57 184.60L110.80 184.67L111.03 184.75L111.25 184.83L111.48 184.91L111.70 184.99L111.92 185.06L112.15 185.12L112.38 185.16L112.60 185.19L112.83 185.20L113.05 185.19L113.28 185.17L113.50 185.12L113.72 185.07L113.95 185.00L114.17 184.92L114.40 184.84L114.62 184.76L114.85 184.68L115.07 184.61L115.30 184.55L115.53 184.51L115.75 184.48L115.98 184.47L116.20 184.48L116.42 184.50L116.65 184.55L116.88 184.60L117.10 184.67L117.33 184.75L117.55 184.83L117.77 184.91L118.00 184.99L118.22 185.06L118.45 185.12L118.67 185.16L118.90 185.19L119.13 185.20L119.35 185.19L119.58 185.17L119.80 185.12L120.03 185.07L120.25 185.00L120.48 184.92L120.70 184.84L120.92 184.76L121.15 184.68L121.38 184.61L121.60 184.55L121.83 184.51L122.05 184.48L122.27 184.47L122.50 184.48L122.72 184.50L122.95 184.55L123.18 184.60L123.40 184.67L123.62 181.22L123.85 184.94L124.08 188.87L124.30 192.75L124.53 196.34L124.75 199.43L124.97 201.83L125.20 203.39L125.42 204.03L125.65 203.71L125.88 202.43L126.10 200.27L126.33 197.32L126.55 193.75L126.77 189.74L127.00 185.48L127.22 181.21L127.45 177.14L127.68 173.47L127.90 170.38L128.12 168.05L128.35 166.57L128.57 166.04L128.80 166.46L129.03 167.82L129.25 170.06L129.47 173.05L129.70 176.65L129.93 180.67L130.15 184.92L130.38 189.17L130.60 193.23L130.82 196.88L131.05 199.94L131.27 202.26L131.50 203.72L131.73 204.26L131.95 203.84L132.18 202.48L132.40 200.26L132.62 197.29L132.85 193.71L133.07 189.71L133.30 185.48L133.53 181.24L133.75 177.20L133.97 173.56L134.20 170.51L134.43 168.19L134.65 166.73L134.88 166.19L135.10 166.61L135.32 167.96L135.55 170.17L135.77 173.14L136.00 176.70L136.23 180.70L136.45 184.92L136.68 189.15L136.90 193.19L137.12 196.82L137.35 199.87L137.57 202.19L137.80 203.65L138.03 204.19L138.25 203.77L138.47 202.43L138.70 200.22L138.93 197.26L139.15 193.69L139.38 189.70L139.60 185.48L139.82 181.25L140.05 177.22L140.28 173.58L140.50 170.54L140.73 168.22L140.95 166.76L141.18 166.22L141.40 166.63L141.62 167.98L141.85 170.19L142.07 173.15L142.30 176.71L142.52 180.70L142.75 184.92L142.97 189.15L143.20 193.18L143.43 196.81L143.65 199.86L143.88 202.18L144.10 203.64L144.32 204.18L144.55 203.77L144.78 202.42L145.00 200.21L145.23 197.25L145.45 193.69L145.68 189.70L145.90 185.48L146.12 181.25L146.35 177.22L146.57 173.59L146.80 170.54L147.02 168.22L147.25 166.76L147.47 166.22L147.70 166.64L147.93 167.98L148.15 170.19L148.38 173.15L148.60 176.71L148.82 180.70L149.05 184.92L149.28 189.15L149.50 193.18L149.73 196.81L149.95 199.86L150.18 202.18L150.40 203.64L150.62 204.18L150.85 203.76L151.07 202.42L151.30 200.21L151.52 197.25L151.75 193.69L151.97 189.70L152.20 185.48L152.43 181.25L152.65 177.22L152.88 173.59L153.10 170.54L153.32 168.22L153.55 166.76L153.78 166.22L154.00 166.64L154.22 167.98L154.45 170.19L154.68 173.15L154.90 176.71L155.12 180.70L155.35 184.92L155.57 189.15L155.80 193.18L156.03 196.81L156.25 199.86L156.47 202.18L156.70 203.64L156.93 204.18L157.15 203.76L157.38 202.42L157.60 200.21L157.82 197.25L158.05 193.69L158.28 189.70L158.50 185.48L158.72 181.25L158.95 177.22L159.18 173.59L159.40 170.54L159.62 168.22L159.85 166.76L160.07 166.22L160.30 166.64L160.53 167.98L160.75 170.19L160.97 173.15L161.20 176.71L161.43 180.70L161.65 184.92L161.88 189.15L162.10 193.18L162.32 196.81L162.55 199.86L162.78 202.18L163.00 203.64L163.22 204.18L163.45 203.76L163.68 202.42L163.90 200.21L164.12 197.25L164.35 193.69L164.57 189.70L164.80 185.48L165.03 181.25L165.25 177.22L165.47 173.59L165.70 170.54L165.92 168.22L166.15 166.76L166.38 166.22L166.60 166.64L166.83 167.98L167.05 170.19L167.27 173.15L167.50 176.71L167.72 180.70L167.95 184.92L168.18 189.15L168.40 193.18L168.62 196.81L168.85 199.86L169.07 202.18L169.30 203.64L169.53 204.18L169.75 203.76L169.97 202.42L170.20 200.21L170.42 197.25L170.65 193.69L170.88 189.70L171.10 185.48L171.33 181.25L171.55 177.22L171.78 173.59L172.00 170.54L172.22 168.22L172.45 166.76L172.68 166.22L172.90 166.64L173.12 167.98L173.35 170.19L173.57 173.15L173.80 176.71L174.03 180.70L174.25 184.92L174.47 189.15L174.70 193.18L174.92 196.81L175.15 199.86L175.38 202.18L175.60 203.64L175.83 204.18L176.05 203.76L176.28 202.42L176.50 200.21L176.72 197.25L176.95 193.69L177.18 189.70L177.40 185.48L177.62 181.25L177.85 177.22L178.07 173.59L178.30 170.54L178.53 168.22L178.75 166.76L178.97 166.22L179.20 166.64L179.42 167.98L179.65 170.19L179.88 173.15L180.10 176.71L180.33 180.70L180.55 184.92L180.78 189.15L181.00 193.18L181.22 196.81L181.45 199.86L181.68 202.18L181.90 203.64L182.12 204.18L182.35 203.76L182.57 202.42L182.80 200.21L183.03 197.25L183.25 193.69L183.47 189.70L183.70 185.48L183.93 181.25L184.15 177.22L184.38 173.59L184.60 170.54L184.82 168.22L185.05 166.76L185.28 166.22L185.50 166.64L185.72 167.98L185.95 170.19L186.17 173.15L186.40 176.71L186.62 180.70L186.85 184.92L187.07 189.15L187.30 193.18L187.53 196.81L187.75 199.86L187.98 202.18L188.20 203.64L188.42 204.18L188.65 203.76L188.88 202.42L189.10 200.21L189.32 197.25L189.55 193.69L189.78 189.70L190.00 185.48L190.22 181.25L190.45 177.22L190.68 173.59L190.90 170.54L191.13 168.22L191.35 166.76L191.57 166.22L191.80 166.64L192.02 167.98L192.25 170.19L192.47 173.15L192.70 176.71L192.93 180.70L193.15 184.92L193.38 189.15L193.60 193.18L193.83 196.81L194.05 199.86L194.27 202.18L194.50 203.64L194.72 204.18L194.95 203.76L195.17 202.42L195.40 200.21L195.62 197.25L195.85 193.69L196.08 189.70L196.30 185.48L196.53 181.25L196.75 177.22L196.98 173.59L197.20 170.54L197.42 168.22L197.65 166.76L197.88 166.22L198.10 166.64L198.32 167.98L198.55 170.19L198.78 173.15L199.00 176.71L199.22 180.70L199.45 184.92L199.68 189.15L199.90 193.18L200.12 196.81L200.35 199.86L200.57 202.18L200.80 203.64L201.03 204.18L201.25 203.76L201.47 202.42L201.70 200.21L201.93 197.25L202.15 193.69L202.38 189.70L202.60 185.48L202.83 181.25L203.05 177.22L203.27 173.59L203.50 170.54L203.72 168.22L203.95 166.76L204.17 166.22L204.40 166.64L204.62 167.98L204.85 170.19L205.08 173.15L205.30 176.71L205.53 180.70L205.75 184.92L205.97 189.15L206.20 193.18L206.42 196.81L206.65 199.86L206.88 202.18L207.10 203.64L207.32 204.18L207.55 203.76L207.78 202.42L208.00 200.21L208.23 197.25L208.45 193.69L208.68 189.70L208.90 185.48L209.12 181.25L209.35 177.22L209.57 173.59L209.80 170.54L210.03 168.22L210.25 166.76L210.47 166.22L210.70 166.64L210.93 167.98L211.15 170.19L211.38 173.15L211.60 176.71L211.82 180.70L212.05 184.92L212.27 189.15L212.50 193.18L212.72 196.81L212.95 199.86L213.18 202.18L213.40 203.64L213.62 204.18L213.85 203.76L214.08 202.42L214.30 200.21L214.53 197.25L214.75 193.69L214.97 189.70L215.20 185.48L215.42 181.25L215.65 177.22L215.88 173.59L216.10 170.54L216.32 168.22L216.55 166.76L216.78 166.22L217.00 166.64L217.23 167.98L217.45 170.19L217.67 173.15L217.90 176.71L218.12 180.70L218.35 184.92L218.57 189.15L218.80 193.18L219.03 196.81L219.25 199.86L219.47 202.18L219.70 203.64L219.93 204.18L220.15 203.76L220.38 202.42L220.60 200.21L220.82 197.25L221.05 193.69L221.28 189.70L221.50 185.48L221.72 181.25L221.95 177.22L222.18 173.59L222.40 170.54L222.62 168.22L222.85 166.76L223.08 166.22L223.30 166.64L223.52 167.98L223.75 170.19L223.97 173.15L224.20 176.71L224.42 180.70L224.65 184.92L224.88 189.15L225.10 193.18L225.33 196.81L225.55 199.86L225.78 202.18L226.00 203.64L226.23 204.18L226.45 203.76L226.67 202.42L226.90 200.21L227.12 197.25L227.35 193.69L227.57 189.70L227.80 185.48L228.03 181.25L228.25 177.22L228.47 173.59L228.70 170.54L228.93 168.22L229.15 166.76L229.37 166.22L229.60 166.64L229.82 167.98L230.05 170.19L230.28 173.15L230.50 176.71L230.72 180.70L230.95 184.92L231.18 189.15L231.40 193.18L231.62 196.81L231.85 199.86L232.08 202.18L232.30 203.64L232.52 204.18L232.75 203.76L232.97 202.42L233.20 200.21L233.43 197.25L233.65 193.69L233.88 189.70L234.10 185.48L234.33 181.25L234.55 177.22L234.78 173.59L235.00 170.54L235.22 168.22L235.45 166.76L235.67 166.22L235.90 166.64L236.12 167.98L236.35 170.19L236.57 173.15L236.80 176.71L237.03 180.70L237.25 184.92L237.48 189.15L237.70 193.18L237.93 196.81L238.15 199.86L238.38 202.18L238.60 203.64L238.82 204.18L239.05 203.76L239.28 202.42L239.50 200.21L239.72 197.25L239.95 193.69L240.18 189.70L240.40 185.48L240.62 181.25L240.85 177.22L241.07 173.59L241.30 170.54L241.52 168.22L241.75 166.76L241.97 166.22L242.20 166.64L242.43 167.98L242.65 170.19L242.88 173.15L243.10 176.71L243.33 180.70L243.55 184.92L243.78 189.15L244.00 193.18L244.22 196.81L244.45 199.86L244.67 202.18L244.90 203.64L245.12 204.18L245.35 203.76L245.58 202.42L245.80 200.21L246.03 197.25L246.25 193.69L246.48 189.70L246.70 185.48L246.92 181.25L247.15 177.22L247.38 173.59L247.60 170.54L247.82 168.22L248.05 166.76L248.28 166.22L248.50 166.64L248.72 167.98L248.95 170.19L249.18 173.15L249.40 176.71L249.63 180.70L249.85 184.92L250.07 189.15L250.30 193.18L250.53 196.81L250.75 199.86L250.97 202.18L251.20 203.64L251.43 204.18L251.65 203.76L251.88 202.42L252.10 200.21L252.33 197.25L252.55 193.69L252.77 189.70L253.00 185.48L253.22 181.25L253.45 177.22L253.67 173.59L253.90 170.54L254.12 168.22L254.35 166.76L254.58 166.22L254.80 166.64L255.03 167.98L255.25 170.19L255.48 173.15L255.70 176.71L255.92 180.70L256.15 184.92L256.38 189.15L256.60 193.18L256.82 196.81L257.05 199.86L257.27 202.18L257.50 203.64L257.73 204.18L257.95 203.76L258.18 202.42L258.40 200.21L258.62 197.25L258.85 193.69L259.07 189.70L259.30 185.48L259.52 181.25L259.75 177.22L259.98 173.59L260.20 170.54L260.43 168.22L260.65 166.76L260.88 166.22L261.10 166.64L261.32 167.98L261.55 170.19L261.77 173.15L262.00 176.71L262.23 180.70L262.45 184.92L262.68 189.15L262.90 193.18L263.12 196.81L263.35 199.86L263.58 202.18L263.80 203.64L264.02 204.18L264.25 203.76L264.48 202.42L264.70 200.21L264.92 197.25L265.15 193.69L265.38 189.70L265.60 185.48L265.82 181.25L266.05 177.22L266.27 173.59L266.50 170.54L266.73 168.22L266.95 166.76L267.17 166.22L267.40 166.64L267.62 167.98L267.85 170.19L268.07 173.15L268.30 176.71L268.52 180.70L268.75 184.92L268.98 189.15L269.20 193.18L269.43 196.81L269.65 199.86L269.88 202.18L270.10 203.64L270.32 204.18L270.55 203.76L270.77 202.42L271.00 200.21L271.23 197.25L271.45 193.69L271.68 189.70L271.90 185.48L272.12 181.25L272.35 177.22L272.58 173.59L272.80 170.54L273.02 168.22L273.25 166.76L273.48 166.22L273.70 166.64L273.92 167.98L274.15 170.19L274.38 173.15L274.60 176.71L274.83 180.70L275.05 184.92L275.27 189.15L275.50 193.18L275.73 196.81L275.95 199.86L276.17 202.18L276.40 203.64L276.62 204.18L276.85 203.76L277.07 202.42L277.30 200.21L277.52 197.25L277.75 193.69L277.98 189.70L278.20 185.48L278.43 181.25L278.65 177.22L278.88 173.59L279.10 170.54L279.32 168.22L279.55 166.76L279.77 166.22L280.00 166.64L280.23 167.98L280.45 170.19L280.68 173.15L280.90 176.71L281.12 180.70L281.35 184.92L281.58 189.15L281.80 193.18L282.02 196.81L282.25 199.86L282.48 202.18L282.70 203.64L282.92 204.18L283.15 203.76L283.38 202.42L283.60 200.21L283.83 197.25L284.05 193.69L284.28 189.70L284.50 185.48L284.72 181.25L284.95 177.22L285.18 173.59L285.40 170.54L285.62 168.22L285.85 166.76L286.07 166.22L286.30 166.64L286.52 167.98L286.75 170.19L286.98 173.15L287.20 176.71L287.43 180.70L287.65 184.92L287.88 189.15L288.10 193.18L288.32 196.81L288.55 199.86L288.77 202.18L289.00 203.64L289.23 204.18L289.45 203.76L289.68 202.42L289.90 200.21L290.12 197.25L290.35 193.69L290.57 189.70L290.80 185.48L291.02 181.25L291.25 177.22L291.47 173.59L291.70 170.54L291.93 168.22L292.15 166.76L292.38 166.22L292.60 166.64L292.82 167.98L293.05 170.19L293.28 173.15L293.50 176.71L293.72 180.70L293.95 184.92L294.18 189.15L294.40 193.18L294.62 196.81L294.85 199.86L295.07 202.18L295.30 203.64L295.53 204.18L295.75 203.76L295.98 202.42L296.20 200.21L296.43 197.25L296.65 193.69L296.88 189.70L297.10 185.48L297.32 181.25L297.55 177.22L297.77 173.59L298.00 170.54L298.23 168.22L298.45 166.76L298.68 166.22L298.90 166.64L299.12 167.98L299.35 170.19L299.57 173.15L299.80 176.71L300.02 180.70L300.25 184.92L300.48 189.15L300.70 193.18L300.93 196.81L301.15 199.86L301.38 202.18L301.60 203.64L301.82 204.18L302.05 203.76L302.27 202.42L302.50 200.21L302.72 197.25L302.95 193.69L303.18 189.70L303.40 185.48L303.62 181.25L303.85 177.22L304.07 173.59L304.30 170.54L304.53 168.22L304.75 166.76L304.98 166.22L305.20 166.64L305.43 167.98L305.65 170.19L305.88 173.15L306.10 176.71L306.32 180.70L306.55 184.92L306.77 189.15L307.00 193.18L307.23 196.81L307.45 199.86L307.68 202.18L307.90 203.64L308.12 204.18L308.35 203.76L308.57 202.42L308.80 200.21L309.02 197.25L309.25 193.69L309.48 189.70L309.70 185.48L309.93 181.25L310.15 177.22L310.38 173.59L310.60 170.54L310.82 168.22L311.05 166.76L311.27 166.22L311.50 166.64L311.72 167.98L311.95 170.19L312.18 173.15L312.40 176.71L312.62 180.70L312.85 184.92L313.07 189.15L313.30 193.18L313.53 196.81L313.75 199.86L313.97 202.18L314.20 203.64L314.43 204.18L314.65 203.76L314.88 202.42L315.10 200.21L315.32 197.25L315.55 193.69L315.78 189.70L316.00 185.48L316.23 181.25L316.45 177.22L316.68 173.59L316.90 170.54L317.12 168.22L317.35 166.76L317.57 166.22L317.80 166.64L318.02 167.98L318.25 170.19L318.48 173.15L318.70 176.71L318.93 180.70L319.15 184.92L319.38 189.15L319.60 193.18L319.82 196.81L320.05 199.86L320.27 202.18L320.50 203.64L320.73 204.18L320.95 203.76L321.18 202.42L321.40 200.21L321.62 197.25L321.85 193.69L322.07 189.70L322.30 185.48L322.53 181.25L322.75 177.22L322.97 173.59L323.20 170.54L323.43 168.22L323.65 166.76L323.88 166.22L324.10 166.64L324.32 167.98L324.55 170.19L324.78 173.15L325.00 176.71L325.23 180.70L325.45 184.92L325.68 189.15L325.90 193.18L326.12 196.81L326.35 199.86L326.57 202.18L326.80 203.64L327.02 204.18L327.25 203.76L327.48 202.42L327.70 200.21L327.93 197.25L328.15 193.69L328.38 189.70L328.60 185.48L328.82 181.25L329.05 177.22L329.27 173.59L329.50 170.54L329.73 168.22L329.95 166.76L330.18 166.22L330.40 166.64L330.62 167.98L330.85 170.19L331.07 173.15L331.30 176.71L331.52 180.70L331.75 184.92L331.97 189.15L332.20 193.18L332.43 196.81L332.65 199.86L332.88 202.18L333.10 203.64L333.32 204.18L333.55 203.76L333.78 202.42L334.00 200.21L334.23 197.25L334.45 193.69L334.68 189.70L334.90 185.48L335.12 181.25L335.35 177.22L335.57 173.59L335.80 170.54L336.02 168.22L336.25 166.76L336.48 166.22L336.70 166.64L336.93 167.98L337.15 170.19L337.38 173.15L337.60 176.71L337.82 180.70L338.05 184.92L338.27 189.15L338.50 193.18L338.73 196.81L338.95 199.86L339.18 202.18L339.40 203.64L339.62 204.18L339.85 203.76L340.07 202.42L340.30 200.21L340.52 197.25L340.75 193.69L340.97 189.70L341.20 185.48L341.43 181.25L341.65 177.22L341.88 173.59L342.10 170.54L342.32 168.22L342.55 166.76L342.78 166.22L343.00 166.64"/>
</g>
<g filter="url(#soft)">
<path d="M28.00 221.7v-2.2M28.00 133.9v2.2M59.50 221.7v-2.2M59.50 133.9v2.2M91.00 221.7v-2.2M91.00 133.9v2.2M122.50 221.7v-2.2M122.50 133.9v2.2M154.00 221.7v-2.2M154.00 133.9v2.2M185.50 221.7v-2.2M185.50 133.9v2.2M217.00 221.7v-2.2M217.00 133.9v2.2M248.50 221.7v-2.2M248.50 133.9v2.2M280.00 221.7v-2.2M280.00 133.9v2.2M311.50 221.7v-2.2M311.50 133.9v2.2M343.00 221.7v-2.2M343.00 133.9v2.2M28.0 148.70h2.2M343.0 148.70h-2.2M28.0 166.95h2.2M343.0 166.95h-2.2M28.0 185.20h2.2M343.0 185.20h-2.2M28.0 203.45h2.2M343.0 203.45h-2.2M28.0 221.70h2.2M343.0 221.70h-2.2" stroke="#6e6e6e" stroke-width="0.6" fill="none"/>
<text x="26.6" y="152.20" text-anchor="end" font-size="7" fill="#262626">1000</text>
<text x="26.6" y="170.45" text-anchor="end" font-size="7" fill="#262626">500</text>
<text x="26.6" y="188.70" text-anchor="end" font-size="7" fill="#262626">0</text>
<text x="26.6" y="206.95" text-anchor="end" font-size="7" fill="#262626">-500</text>
<text x="26.6" y="225.20" text-anchor="end" font-size="7" fill="#262626">-1000</text>
<text x="28.00" y="231.1" text-anchor="middle" font-size="7" fill="#262626">0</text>
<text x="59.50" y="231.1" text-anchor="middle" font-size="7" fill="#262626">0.1</text>
<text x="91.00" y="231.1" text-anchor="middle" font-size="7" fill="#262626">0.2</text>
<text x="122.50" y="231.1" text-anchor="middle" font-size="7" fill="#262626">0.3</text>
<text x="154.00" y="231.1" text-anchor="middle" font-size="7" fill="#262626">0.4</text>
<text x="185.50" y="231.1" text-anchor="middle" font-size="7" fill="#262626">0.5</text>
<text x="217.00" y="231.1" text-anchor="middle" font-size="7" fill="#262626">0.6</text>
<text x="248.50" y="231.1" text-anchor="middle" font-size="7" fill="#262626">0.7</text>
<text x="280.00" y="231.1" text-anchor="middle" font-size="7" fill="#262626">0.8</text>
<text x="311.50" y="231.1" text-anchor="middle" font-size="7" fill="#262626">0.9</text>
<text x="343.00" y="231.1" text-anchor="middle" font-size="7" fill="#262626">1</text>
<text transform="translate(6.4 178.10) rotate(-90)" text-anchor="middle" font-size="8.4" fill="#262626">current</text>
<text x="185.50" y="131.0" text-anchor="middle" font-size="8.5" fill="#1a1a1a">Bus 3 Current waveforms</text>
<path d="M28.7 19.3V40" stroke="#ebb52e" stroke-width="0.8"/>
<path d="M28.7 103.8V72" stroke="#1f7fc4" stroke-width="0.8"/>
<path d="M28.8 56V66L29.6 61.5L30.3 67.5" fill="none" stroke="#dd6a33" stroke-width="1.0"/>
<path d="M28.7 141.8V180" stroke="#f2e82a" stroke-width="0.9"/>
<path d="M28.75 213.8V196" stroke="#f0683a" stroke-width="1.1"/>
<text x="185.5" y="240.1" text-anchor="middle" font-size="8.5" fill="#262626">Time</text>
<defs><linearGradient id="g1" x1="0" y1="0" x2="1" y2="0"><stop offset="0.0000" stop-color="#fec03b"/><stop offset="0.0057" stop-color="#fabb3d"/><stop offset="0.0114" stop-color="#f4ba39"/><stop offset="0.0171" stop-color="#d9bd28"/><stop offset="0.0228" stop-color="#d7be28"/><stop offset="0.0285" stop-color="#c8c129"/><stop offset="0.0342" stop-color="#bfc32d"/><stop offset="0.0399" stop-color="#c1c32c"/><stop offset="0.0456" stop-color="#bec32e"/><stop offset="0.0513" stop-color="#b2c635"/><stop offset="0.0570" stop-color="#afc636"/><stop offset="0.0627" stop-color="#b1c636"/><stop offset="0.0684" stop-color="#b6c532"/><stop offset="0.0741" stop-color="#b5c533"/><stop offset="0.0798" stop-color="#a9c73b"/><stop offset="0.0855" stop-color="#a9c73b"/><stop offset="0.0912" stop-color="#b3c534"/><stop offset="0.0969" stop-color="#b7c532"/><stop offset="0.1026" stop-color="#acc738"/><stop offset="0.1083" stop-color="#a7c73c"/><stop offset="0.1140" stop-color="#b1c636"/><stop offset="0.1197" stop-color="#a7c73c"/><stop offset="0.1254" stop-color="#adc638"/><stop offset="0.1311" stop-color="#b1c635"/><stop offset="0.1368" stop-color="#abc739"/><stop offset="0.1425" stop-color="#a7c73c"/><stop offset="0.1482" stop-color="#aac73a"/><stop offset="0.1539" stop-color="#a1c840"/><stop offset="0.1596" stop-color="#a3c83f"/><stop offset="0.1654" stop-color="#a0c941"/><stop offset="0.1711" stop-color="#a1c840"/><stop offset="0.1768" stop-color="#9fc942"/><stop offset="0.1825" stop-color="#a0c841"/><stop offset="0.1882" stop-color="#9ec942"/><stop offset="0.1939" stop-color="#a0c841"/><stop offset="0.1996" stop-color="#9fc941"/><stop offset="0.2053" stop-color="#a0c841"/><stop offset="0.2110" stop-color="#a7c73c"/><stop offset="0.2167" stop-color="#94ca4a"/><stop offset="0.2224" stop-color="#a5c83d"/><stop offset="0.2281" stop-color="#9bc944"/><stop offset="0.2338" stop-color="#95ca49"/><stop offset="0.2395" stop-color="#9bc944"/><stop offset="0.2452" stop-color="#9cc943"/><stop offset="0.2509" stop-color="#a2c83f"/><stop offset="0.2566" stop-color="#94ca4a"/><stop offset="0.2623" stop-color="#9cc944"/><stop offset="0.2680" stop-color="#9bc944"/><stop offset="0.2737" stop-color="#90ca4d"/><stop offset="0.2794" stop-color="#92ca4b"/><stop offset="0.2851" stop-color="#9dc943"/><stop offset="0.2908" stop-color="#9dc943"/><stop offset="0.2965" stop-color="#9fc941"/><stop offset="0.3022" stop-color="#9cc944"/><stop offset="0.3079" stop-color="#9ac945"/><stop offset="0.3136" stop-color="#98c947"/><stop offset="0.3193" stop-color="#9fc942"/><stop offset="0.3250" stop-color="#92ca4c"/><stop offset="0.3307" stop-color="#96ca49"/><stop offset="0.3364" stop-color="#99c946"/><stop offset="0.3421" stop-color="#8ccb50"/><stop offset="0.3478" stop-color="#9ec942"/><stop offset="0.3535" stop-color="#90ca4d"/><stop offset="0.3592" stop-color="#94ca4a"/><stop offset="0.3649" stop-color="#a2c840"/><stop offset="0.3706" stop-color="#8fcb4e"/><stop offset="0.3763" stop-color="#90ca4d"/><stop offset="0.3820" stop-color="#9dc943"/><stop offset="0.3877" stop-color="#8ccb50"/><stop offset="0.3934" stop-color="#90ca4d"/><stop offset="0.3991" stop-color="#95ca49"/><stop offset="0.4048" stop-color="#95ca49"/><stop offset="0.4105" stop-color="#95ca49"/><stop offset="0.4162" stop-color="#93ca4a"/><stop offset="0.4219" stop-color="#99c946"/><stop offset="0.4276" stop-color="#97ca48"/><stop offset="0.4333" stop-color="#94ca4a"/><stop offset="0.4390" stop-color="#8bcb51"/><stop offset="0.4447" stop-color="#8bcb51"/><stop offset="0.4504" stop-color="#83cc57"/><stop offset="0.4561" stop-color="#93ca4b"/><stop offset="0.4618" stop-color="#83cc57"/><stop offset="0.4675" stop-color="#93ca4a"/><stop offset="0.4732" stop-color="#99c946"/><stop offset="0.4789" stop-color="#86cb54"/><stop offset="0.4846" stop-color="#88cb53"/><stop offset="0.4904" stop-color="#89cb52"/><stop offset="0.4961" stop-color="#91ca4c"/><stop offset="0.5018" stop-color="#86cb55"/><stop offset="0.5075" stop-color="#8acb51"/><stop offset="0.5132" stop-color="#88cb53"/><stop offset="0.5189" stop-color="#89cb52"/><stop offset="0.5246" stop-color="#92ca4b"/><stop offset="0.5303" stop-color="#84cc56"/><stop offset="0.5360" stop-color="#8acb51"/><stop offset="0.5417" stop-color="#8bcb51"/><stop offset="0.5474" stop-color="#8fcb4e"/><stop offset="0.5531" stop-color="#81cc59"/><stop offset="0.5588" stop-color="#90ca4d"/><stop offset="0.5645" stop-color="#8bcb51"/><stop offset="0.5702" stop-color="#8ecb4f"/><stop offset="0.5759" stop-color="#88cb53"/><stop offset="0.5816" stop-color="#7dcc5b"/><stop offset="0.5873" stop-color="#83cc57"/><stop offset="0.5930" stop-color="#8dcb50"/><stop offset="0.5987" stop-color="#87cb54"/><stop offset="0.6044" stop-color="#86cb54"/><stop offset="0.6101" stop-color="#92ca4b"/><stop offset="0.6158" stop-color="#94ca4a"/><stop offset="0.6215" stop-color="#86cb55"/><stop offset="0.6272" stop-color="#92ca4b"/><stop offset="0.6329" stop-color="#79cc5f"/><stop offset="0.6386" stop-color="#78cc5f"/><stop offset="0.6443" stop-color="#8bcb51"/><stop offset="0.6500" stop-color="#83cc57"/><stop offset="0.6557" stop-color="#88cb53"/><stop offset="0.6614" stop-color="#88cb53"/><stop offset="0.6671" stop-color="#84cc57"/><stop offset="0.6728" stop-color="#88cb53"/><stop offset="0.6785" stop-color="#85cb56"/><stop offset="0.6842" stop-color="#79cc5e"/><stop offset="0.6899" stop-color="#85cb56"/><stop offset="0.6956" stop-color="#84cc56"/><stop offset="0.7013" stop-color="#8ecb4e"/><stop offset="0.7070" stop-color="#7bcc5d"/><stop offset="0.7127" stop-color="#82cc57"/><stop offset="0.7184" stop-color="#7fcc5a"/><stop offset="0.7241" stop-color="#81cc59"/><stop offset="0.7298" stop-color="#8ccb50"/><stop offset="0.7355" stop-color="#84cc56"/><stop offset="0.7412" stop-color="#7ecc5b"/><stop offset="0.7469" stop-color="#82cc58"/><stop offset="0.7526" stop-color="#85cb55"/><stop offset="0.7583" stop-color="#7acc5e"/><stop offset="0.7640" stop-color="#7ecc5b"/><stop offset="0.7697" stop-color="#8acb52"/><stop offset="0.7754" stop-color="#85cb55"/><stop offset="0.7811" stop-color="#7fcc5a"/><stop offset="0.7868" stop-color="#7ccc5c"/><stop offset="0.7925" stop-color="#7ecc5b"/><stop offset="0.7982" stop-color="#74cc62"/><stop offset="0.8039" stop-color="#84cb56"/><stop offset="0.8096" stop-color="#80cc59"/><stop offset="0.8154" stop-color="#7fcc5a"/><stop offset="0.8211" stop-color="#75cc61"/><stop offset="0.8268" stop-color="#78cc5f"/><stop offset="0.8325" stop-color="#80cc59"/><stop offset="0.8382" stop-color="#7ecc5a"/><stop offset="0.8439" stop-color="#79cc5e"/><stop offset="0.8496" stop-color="#80cc5a"/><stop offset="0.8553" stop-color="#82cc58"/><stop offset="0.8610" stop-color="#77cc60"/><stop offset="0.8667" stop-color="#78cc5f"/><stop offset="0.8724" stop-color="#75cc61"/><stop offset="0.8781" stop-color="#73cd62"/><stop offset="0.8838" stop-color="#80cc59"/><stop offset="0.8895" stop-color="#7ecc5b"/><stop offset="0.8952" stop-color="#7ccc5c"/><stop offset="0.9009" stop-color="#72cd63"/><stop offset="0.9066" stop-color="#73cd63"/><stop offset="0.9123" stop-color="#79cc5e"/><stop offset="0.9180" stop-color="#76cc60"/><stop offset="0.9237" stop-color="#7acc5e"/><stop offset="0.9294" stop-color="#74cc62"/><stop offset="0.9351" stop-color="#7dcc5c"/><stop offset="0.9408" stop-color="#84cc56"/><stop offset="0.9465" stop-color="#82cc58"/><stop offset="0.9522" stop-color="#82cc57"/><stop offset="0.9579" stop-color="#78cc5f"/><stop offset="0.9636" stop-color="#7dcc5b"/><stop offset="0.9693" stop-color="#74cc62"/><stop offset="0.9750" stop-color="#7dcc5c"/><stop offset="0.9807" stop-color="#74cc62"/><stop offset="0.9864" stop-color="#73cd63"/><stop offset="0.9921" stop-color="#72cd64"/><stop offset="0.9978" stop-color="#7acc5d"/><stop offset="1.0000" stop-color="#7acc5d"/></linearGradient><linearGradient id="ovA" x1="0" y1="0" x2="0" y2="1"><stop offset="0" stop-color="#3ccc96" stop-opacity="0"/><stop offset="1" stop-color="#50cc88" stop-opacity="0.42"/></linearGradient><linearGradient id="g2" x1="0" y1="0" x2="1" y2="0"><stop offset="0.0000" stop-color="#fcbc3d"/><stop offset="0.0020" stop-color="#fbbc3d"/><stop offset="0.0039" stop-color="#fbbc3d"/><stop offset="0.0059" stop-color="#fabc3d"/><stop offset="0.0079" stop-color="#fabb3d"/><stop offset="0.0099" stop-color="#f9bb3d"/><stop offset="0.0118" stop-color="#f4ba3a"/><stop offset="0.0138" stop-color="#efba35"/><stop offset="0.0158" stop-color="#e9bb30"/><stop offset="0.0178" stop-color="#8ecb4f"/><stop offset="0.0197" stop-color="#8ecb4f"/><stop offset="0.0217" stop-color="#7acc5e"/><stop offset="0.0237" stop-color="#7acc5e"/><stop offset="0.0257" stop-color="#93ca4b"/><stop offset="0.0276" stop-color="#93ca4b"/><stop offset="0.0296" stop-color="#89cb52"/><stop offset="0.0316" stop-color="#89cb52"/><stop offset="0.0336" stop-color="#91ca4c"/><stop offset="0.0355" stop-color="#91ca4c"/><stop offset="0.0375" stop-color="#7fcc5a"/><stop offset="0.0395" stop-color="#7fcc5a"/><stop offset="0.0414" stop-color="#7ccc5c"/><stop offset="0.0434" stop-color="#7ccc5c"/><stop offset="0.0454" stop-color="#7bcc5d"/><stop offset="0.0474" stop-color="#7bcc5d"/><stop offset="0.0493" stop-color="#97ca48"/><stop offset="0.0513" stop-color="#97ca48"/><stop offset="0.0533" stop-color="#84cb56"/><stop offset="0.0553" stop-color="#84cb56"/><stop offset="0.0572" stop-color="#84cc56"/><stop offset="0.0592" stop-color="#84cc56"/><stop offset="0.0612" stop-color="#77cc60"/><stop offset="0.0632" stop-color="#77cc60"/><stop offset="0.0651" stop-color="#87cb54"/><stop offset="0.0671" stop-color="#87cb54"/><stop offset="0.0691" stop-color="#76cc61"/><stop offset="0.0711" stop-color="#76cc61"/><stop offset="0.0730" stop-color="#98c947"/><stop offset="0.0750" stop-color="#98c947"/><stop offset="0.0770" stop-color="#85cb55"/><stop offset="0.0789" stop-color="#88cb53"/><stop offset="0.0809" stop-color="#93ca4b"/><stop offset="0.0829" stop-color="#9dc943"/><stop offset="0.0849" stop-color="#98ca47"/><stop offset="0.0868" stop-color="#9cc943"/><stop offset="0.0888" stop-color="#99c946"/><stop offset="0.0908" stop-color="#8fcb4e"/><stop offset="0.0928" stop-color="#9cc944"/><stop offset="0.0947" stop-color="#96ca48"/><stop offset="0.0967" stop-color="#86cb55"/><stop offset="0.0987" stop-color="#85cb56"/><stop offset="0.1007" stop-color="#90ca4d"/><stop offset="0.1026" stop-color="#90ca4d"/><stop offset="0.1046" stop-color="#98ca47"/><stop offset="0.1066" stop-color="#98ca47"/><stop offset="0.1086" stop-color="#93ca4b"/><stop offset="0.1105" stop-color="#93ca4b"/><stop offset="0.1125" stop-color="#76cc60"/><stop offset="0.1145" stop-color="#59cc78"/><stop offset="0.1164" stop-color="#5bcc77"/><stop offset="0.1184" stop-color="#5bcc77"/><stop offset="0.1204" stop-color="#5acc77"/><stop offset="0.1224" stop-color="#5acc77"/><stop offset="0.1243" stop-color="#5bcc77"/><stop offset="0.1263" stop-color="#5bcc77"/><stop offset="0.1283" stop-color="#59cc78"/><stop offset="0.1303" stop-color="#59cc78"/><stop offset="0.1322" stop-color="#59cc78"/><stop offset="0.1342" stop-color="#59cc78"/><stop offset="0.1362" stop-color="#5ccc76"/><stop offset="0.1382" stop-color="#5ccc76"/><stop offset="0.1401" stop-color="#5dcc74"/><stop offset="0.1421" stop-color="#5dcc74"/><stop offset="0.1441" stop-color="#72cd63"/><stop offset="0.1461" stop-color="#72cd63"/><stop offset="0.1480" stop-color="#61cd71"/><stop offset="0.1500" stop-color="#61cd71"/><stop offset="0.1520" stop-color="#78cc5f"/><stop offset="0.1539" stop-color="#78cc5f"/><stop offset="0.1559" stop-color="#59cc78"/><stop offset="0.1579" stop-color="#59cc78"/><stop offset="0.1599" stop-color="#5acc78"/><stop offset="0.1618" stop-color="#5acc78"/><stop offset="0.1638" stop-color="#6ecd67"/><stop offset="0.1658" stop-color="#6ecd67"/><stop offset="0.1678" stop-color="#62cd70"/><stop offset="0.1697" stop-color="#62cd70"/><stop offset="0.1717" stop-color="#5bcc77"/><stop offset="0.1737" stop-color="#5bcc77"/><stop offset="0.1757" stop-color="#75cc61"/><stop offset="0.1776" stop-color="#75cc61"/><stop offset="0.1796" stop-color="#77cc60"/><stop offset="0.1816" stop-color="#77cc60"/><stop offset="0.1836" stop-color="#78cc5f"/><stop offset="0.1855" stop-color="#78cc5f"/><stop offset="0.1875" stop-color="#60cd72"/><stop offset="0.1895" stop-color="#60cd72"/><stop offset="0.1914" stop-color="#68cd6c"/><stop offset="0.1934" stop-color="#68cd6c"/><stop offset="0.1954" stop-color="#6dcd67"/><stop offset="0.1974" stop-color="#6dcd67"/><stop offset="0.1993" stop-color="#69cd6a"/><stop offset="0.2013" stop-color="#69cd6a"/><stop offset="0.2033" stop-color="#77cc60"/><stop offset="0.2053" stop-color="#77cc60"/><stop offset="0.2072" stop-color="#5fcd73"/><stop offset="0.2092" stop-color="#5fcd73"/><stop offset="0.2112" stop-color="#70cd65"/><stop offset="0.2132" stop-color="#70cd65"/><stop offset="0.2151" stop-color="#5acc78"/><stop offset="0.2171" stop-color="#5bcc77"/><stop offset="0.2191" stop-color="#7acc5d"/><stop offset="0.2211" stop-color="#81cc59"/><stop offset="0.2230" stop-color="#8acb51"/><stop offset="0.2250" stop-color="#8ecb4e"/><stop offset="0.2270" stop-color="#7ccc5c"/><stop offset="0.2289" stop-color="#75cc61"/><stop offset="0.2309" stop-color="#7fcc5a"/><stop offset="0.2329" stop-color="#7acc5e"/><stop offset="0.2349" stop-color="#5acc77"/><stop offset="0.2368" stop-color="#5acc78"/><stop offset="0.2388" stop-color="#61cd71"/><stop offset="0.2408" stop-color="#61cd71"/><stop offset="0.2428" stop-color="#5acc78"/><stop offset="0.2447" stop-color="#5acc78"/><stop offset="0.2467" stop-color="#6fcd66"/><stop offset="0.2487" stop-color="#6fcd66"/><stop offset="0.2507" stop-color="#73cd63"/><stop offset="0.2526" stop-color="#73cd63"/><stop offset="0.2546" stop-color="#5acc78"/><stop offset="0.2566" stop-color="#5acc78"/><stop offset="0.2586" stop-color="#5bcc76"/><stop offset="0.2605" stop-color="#5bcc76"/><stop offset="0.2625" stop-color="#5ecc74"/><stop offset="0.2645" stop-color="#5ecc74"/><stop offset="0.2664" stop-color="#78cc5f"/><stop offset="0.2684" stop-color="#78cc5f"/><stop offset="0.2704" stop-color="#66cd6d"/><stop offset="0.2724" stop-color="#66cd6d"/><stop offset="0.2743" stop-color="#6bcd69"/><stop offset="0.2763" stop-color="#6bcd69"/><stop offset="0.2783" stop-color="#70cd65"/><stop offset="0.2803" stop-color="#70cd65"/><stop offset="0.2822" stop-color="#6fcd66"/><stop offset="0.2842" stop-color="#6fcd66"/><stop offset="0.2862" stop-color="#63cd70"/><stop offset="0.2882" stop-color="#63cd70"/><stop offset="0.2901" stop-color="#5acc78"/><stop offset="0.2921" stop-color="#5acc78"/><stop offset="0.2941" stop-color="#5dcc75"/><stop offset="0.2961" stop-color="#5dcc75"/><stop offset="0.2980" stop-color="#78cc5f"/><stop offset="0.3000" stop-color="#78cc5f"/><stop offset="0.3020" stop-color="#6ecd67"/><stop offset="0.3039" stop-color="#6ecd67"/><stop offset="0.3059" stop-color="#60cd72"/><stop offset="0.3079" stop-color="#60cd72"/><stop offset="0.3099" stop-color="#5acc78"/><stop offset="0.3118" stop-color="#5acc78"/><stop offset="0.3138" stop-color="#67cd6d"/><stop offset="0.3158" stop-color="#67cd6d"/><stop offset="0.3178" stop-color="#69cd6b"/><stop offset="0.3197" stop-color="#69cd6b"/><stop offset="0.3217" stop-color="#5dcc75"/><stop offset="0.3237" stop-color="#5dcc75"/><stop offset="0.3257" stop-color="#76cc60"/><stop offset="0.3276" stop-color="#76cc60"/><stop offset="0.3296" stop-color="#5dcc74"/><stop offset="0.3316" stop-color="#5dcc74"/><stop offset="0.3336" stop-color="#64cd6f"/><stop offset="0.3355" stop-color="#64cd6f"/><stop offset="0.3375" stop-color="#76cc61"/><stop offset="0.3395" stop-color="#76cc61"/><stop offset="0.3414" stop-color="#6dcd67"/><stop offset="0.3434" stop-color="#6dcd67"/><stop offset="0.3454" stop-color="#77cc60"/><stop offset="0.3474" stop-color="#77cc60"/><stop offset="0.3493" stop-color="#63cd70"/><stop offset="0.3513" stop-color="#63cd70"/><stop offset="0.3533" stop-color="#60cd73"/><stop offset="0.3553" stop-color="#60cd72"/><stop offset="0.3572" stop-color="#73cd63"/><stop offset="0.3592" stop-color="#75cc61"/><stop offset="0.3612" stop-color="#72cd63"/><stop offset="0.3632" stop-color="#74cc62"/><stop offset="0.3651" stop-color="#7fcc5a"/><stop offset="0.3671" stop-color="#7dcc5b"/><stop offset="0.3691" stop-color="#74cd62"/><stop offset="0.3711" stop-color="#72cd63"/><stop offset="0.3730" stop-color="#68cd6c"/><stop offset="0.3750" stop-color="#68cd6c"/><stop offset="0.3770" stop-color="#71cd64"/><stop offset="0.3789" stop-color="#71cd64"/><stop offset="0.3809" stop-color="#74cc62"/><stop offset="0.3829" stop-color="#74cc62"/><stop offset="0.3849" stop-color="#5acc77"/><stop offset="0.3868" stop-color="#5acc77"/><stop offset="0.3888" stop-color="#65cd6e"/><stop offset="0.3908" stop-color="#65cd6e"/><stop offset="0.3928" stop-color="#61cd71"/><stop offset="0.3947" stop-color="#61cd71"/><stop offset="0.3967" stop-color="#78cc5f"/><stop offset="0.3987" stop-color="#78cc5f"/><stop offset="0.4007" stop-color="#5fcd73"/><stop offset="0.4026" stop-color="#5fcd73"/><stop offset="0.4046" stop-color="#77cc60"/><stop offset="0.4066" stop-color="#77cc60"/><stop offset="0.4086" stop-color="#5acc78"/><stop offset="0.4105" stop-color="#5acc78"/><stop offset="0.4125" stop-color="#67cd6c"/><stop offset="0.4145" stop-color="#67cd6c"/><stop offset="0.4164" stop-color="#77cc60"/><stop offset="0.4184" stop-color="#77cc60"/><stop offset="0.4204" stop-color="#62cd70"/><stop offset="0.4224" stop-color="#62cd70"/><stop offset="0.4243" stop-color="#77cc5f"/><stop offset="0.4263" stop-color="#77cc5f"/><stop offset="0.4283" stop-color="#59cc78"/><stop offset="0.4303" stop-color="#59cc78"/><stop offset="0.4322" stop-color="#69cd6b"/><stop offset="0.4342" stop-color="#69cd6b"/><stop offset="0.4362" stop-color="#6ccd68"/><stop offset="0.4382" stop-color="#6ccd68"/><stop offset="0.4401" stop-color="#65cd6e"/><stop offset="0.4421" stop-color="#65cd6e"/><stop offset="0.4441" stop-color="#5acc78"/><stop offset="0.4461" stop-color="#5acc78"/><stop offset="0.4480" stop-color="#74cc62"/><stop offset="0.4500" stop-color="#74cc62"/><stop offset="0.4520" stop-color="#59cc78"/><stop offset="0.4539" stop-color="#59cc78"/><stop offset="0.4559" stop-color="#77cc60"/><stop offset="0.4579" stop-color="#77cc60"/><stop offset="0.4599" stop-color="#6fcd66"/><stop offset="0.4618" stop-color="#6fcd66"/><stop offset="0.4638" stop-color="#77cc60"/><stop offset="0.4658" stop-color="#77cc60"/><stop offset="0.4678" stop-color="#62cd70"/><stop offset="0.4697" stop-color="#62cd70"/><stop offset="0.4717" stop-color="#5acc77"/><stop offset="0.4737" stop-color="#5acc77"/><stop offset="0.4757" stop-color="#5ecd74"/><stop offset="0.4776" stop-color="#5ecd74"/><stop offset="0.4796" stop-color="#5fcd73"/><stop offset="0.4816" stop-color="#5fcd73"/><stop offset="0.4836" stop-color="#74cd62"/><stop offset="0.4855" stop-color="#74cd62"/><stop offset="0.4875" stop-color="#61cd71"/><stop offset="0.4895" stop-color="#61cd71"/><stop offset="0.4914" stop-color="#71cd64"/><stop offset="0.4934" stop-color="#71cd64"/><stop offset="0.4954" stop-color="#72cd63"/><stop offset="0.4974" stop-color="#72cd63"/><stop offset="0.4993" stop-color="#78cc5f"/><stop offset="0.5013" stop-color="#78cc5f"/><stop offset="0.5033" stop-color="#59cc78"/><stop offset="0.5053" stop-color="#59cc78"/><stop offset="0.5072" stop-color="#60cd72"/><stop offset="0.5092" stop-color="#60cd72"/><stop offset="0.5112" stop-color="#75cc61"/><stop offset="0.5132" stop-color="#75cc61"/><stop offset="0.5151" stop-color="#75cc61"/><stop offset="0.5171" stop-color="#75cc61"/><stop offset="0.5191" stop-color="#5ecc74"/><stop offset="0.5211" stop-color="#5ecc74"/><stop offset="0.5230" stop-color="#62cd70"/><stop offset="0.5250" stop-color="#62cd70"/><stop offset="0.5270" stop-color="#66cd6d"/><stop offset="0.5289" stop-color="#66cd6d"/><stop offset="0.5309" stop-color="#6bcd69"/><stop offset="0.5329" stop-color="#6bcd69"/><stop offset="0.5349" stop-color="#5ecc74"/><stop offset="0.5368" stop-color="#5ecc74"/><stop offset="0.5388" stop-color="#5dcc75"/><stop offset="0.5408" stop-color="#5dcc75"/><stop offset="0.5428" stop-color="#5acc77"/><stop offset="0.5447" stop-color="#5acc77"/><stop offset="0.5467" stop-color="#61cd72"/><stop offset="0.5487" stop-color="#61cd72"/><stop offset="0.5507" stop-color="#78cc5f"/><stop offset="0.5526" stop-color="#78cc5f"/><stop offset="0.5546" stop-color="#5bcc77"/><stop offset="0.5566" stop-color="#5bcc77"/><stop offset="0.5586" stop-color="#77cc60"/><stop offset="0.5605" stop-color="#77cc60"/><stop offset="0.5625" stop-color="#78cc5f"/><stop offset="0.5645" stop-color="#78cc5f"/><stop offset="0.5664" stop-color="#6dcd67"/><stop offset="0.5684" stop-color="#6dcd67"/><stop offset="0.5704" stop-color="#78cc5f"/><stop offset="0.5724" stop-color="#78cc5f"/><stop offset="0.5743" stop-color="#65cd6e"/><stop offset="0.5763" stop-color="#65cd6e"/><stop offset="0.5783" stop-color="#78cc5f"/><stop offset="0.5803" stop-color="#78cc5f"/><stop offset="0.5822" stop-color="#68cd6c"/><stop offset="0.5842" stop-color="#68cd6c"/><stop offset="0.5862" stop-color="#5acc77"/><stop offset="0.5882" stop-color="#5acc77"/><stop offset="0.5901" stop-color="#70cd65"/><stop offset="0.5921" stop-color="#70cd65"/><stop offset="0.5941" stop-color="#78cc5f"/><stop offset="0.5961" stop-color="#78cc5f"/><stop offset="0.5980" stop-color="#5ecc74"/><stop offset="0.6000" stop-color="#5ecc74"/><stop offset="0.6020" stop-color="#72cd63"/><stop offset="0.6039" stop-color="#72cd63"/><stop offset="0.6059" stop-color="#5bcc77"/><stop offset="0.6079" stop-color="#5bcc77"/><stop offset="0.6099" stop-color="#5bcc76"/><stop offset="0.6118" stop-color="#5bcc76"/><stop offset="0.6138" stop-color="#72cd63"/><stop offset="0.6158" stop-color="#72cd63"/><stop offset="0.6178" stop-color="#65cd6e"/><stop offset="0.6197" stop-color="#65cd6e"/><stop offset="0.6217" stop-color="#74cd62"/><stop offset="0.6237" stop-color="#74cd62"/><stop offset="0.6257" stop-color="#78cc5f"/><stop offset="0.6276" stop-color="#78cc5f"/><stop offset="0.6296" stop-color="#5acc77"/><stop offset="0.6316" stop-color="#5acc77"/><stop offset="0.6336" stop-color="#5dcc75"/><stop offset="0.6355" stop-color="#5dcc75"/><stop offset="0.6375" stop-color="#6acd6a"/><stop offset="0.6395" stop-color="#6acd6a"/><stop offset="0.6414" stop-color="#78cc5f"/><stop offset="0.6434" stop-color="#78cc5f"/><stop offset="0.6454" stop-color="#62cd70"/><stop offset="0.6474" stop-color="#62cd70"/><stop offset="0.6493" stop-color="#5fcd73"/><stop offset="0.6513" stop-color="#5fcd73"/><stop offset="0.6533" stop-color="#72cd63"/><stop offset="0.6553" stop-color="#72cd63"/><stop offset="0.6572" stop-color="#78cc5f"/><stop offset="0.6592" stop-color="#78cc5f"/><stop offset="0.6612" stop-color="#5ecd74"/><stop offset="0.6632" stop-color="#5ecd74"/><stop offset="0.6651" stop-color="#63cd70"/><stop offset="0.6671" stop-color="#63cd70"/><stop offset="0.6691" stop-color="#6bcd69"/><stop offset="0.6711" stop-color="#6bcd69"/><stop offset="0.6730" stop-color="#76cc61"/><stop offset="0.6750" stop-color="#76cc61"/><stop offset="0.6770" stop-color="#78cc5f"/><stop offset="0.6789" stop-color="#78cc5f"/><stop offset="0.6809" stop-color="#5acc77"/><stop offset="0.6829" stop-color="#5acc77"/><stop offset="0.6849" stop-color="#59cc78"/><stop offset="0.6868" stop-color="#59cc78"/><stop offset="0.6888" stop-color="#6dcd67"/><stop offset="0.6908" stop-color="#6dcd67"/><stop offset="0.6928" stop-color="#74cd62"/><stop offset="0.6947" stop-color="#74cd62"/><stop offset="0.6967" stop-color="#59cc78"/><stop offset="0.6987" stop-color="#59cc78"/><stop offset="0.7007" stop-color="#5ecd74"/><stop offset="0.7026" stop-color="#5ecd74"/><stop offset="0.7046" stop-color="#77cc60"/><stop offset="0.7066" stop-color="#77cc60"/><stop offset="0.7086" stop-color="#5fcd73"/><stop offset="0.7105" stop-color="#5fcd73"/><stop offset="0.7125" stop-color="#73cd63"/><stop offset="0.7145" stop-color="#73cd63"/><stop offset="0.7164" stop-color="#6ecd67"/><stop offset="0.7184" stop-color="#6ecd67"/><stop offset="0.7204" stop-color="#75cc61"/><stop offset="0.7224" stop-color="#75cc61"/><stop offset="0.7243" stop-color="#73cd63"/><stop offset="0.7263" stop-color="#73cd63"/><stop offset="0.7283" stop-color="#70cd65"/><stop offset="0.7303" stop-color="#70cd65"/><stop offset="0.7322" stop-color="#78cc5f"/><stop offset="0.7342" stop-color="#78cc5f"/><stop offset="0.7362" stop-color="#5fcd73"/><stop offset="0.7382" stop-color="#5fcd73"/><stop offset="0.7401" stop-color="#6dcd67"/><stop offset="0.7421" stop-color="#6dcd67"/><stop offset="0.7441" stop-color="#78cc5f"/><stop offset="0.7461" stop-color="#78cc5f"/><stop offset="0.7480" stop-color="#5fcd73"/><stop offset="0.7500" stop-color="#5fcd73"/><stop offset="0.7520" stop-color="#62cd70"/><stop offset="0.7539" stop-color="#62cd70"/><stop offset="0.7559" stop-color="#5dcc75"/><stop offset="0.7579" stop-color="#5dcc75"/><stop offset="0.7599" stop-color="#5bcc76"/><stop offset="0.7618" stop-color="#5bcc76"/><stop offset="0.7638" stop-color="#78cc5f"/><stop offset="0.7658" stop-color="#78cc5f"/><stop offset="0.7678" stop-color="#73cd62"/><stop offset="0.7697" stop-color="#73cd62"/><stop offset="0.7717" stop-color="#78cc5f"/><stop offset="0.7737" stop-color="#78cc5f"/><stop offset="0.7757" stop-color="#76cc61"/><stop offset="0.7776" stop-color="#76cc61"/><stop offset="0.7796" stop-color="#6ccd68"/><stop offset="0.7816" stop-color="#6ccd68"/><stop offset="0.7836" stop-color="#64cd6f"/><stop offset="0.7855" stop-color="#64cd6f"/><stop offset="0.7875" stop-color="#70cd65"/><stop offset="0.7895" stop-color="#70cd65"/><stop offset="0.7914" stop-color="#6acd6a"/><stop offset="0.7934" stop-color="#6acd6a"/><stop offset="0.7954" stop-color="#77cc60"/><stop offset="0.7974" stop-color="#77cc60"/><stop offset="0.7993" stop-color="#5ccc76"/><stop offset="0.8013" stop-color="#5ccc76"/><stop offset="0.8033" stop-color="#6ecd66"/><stop offset="0.8053" stop-color="#6ecd66"/><stop offset="0.8072" stop-color="#73cd63"/><stop offset="0.8092" stop-color="#73cd63"/><stop offset="0.8112" stop-color="#65cd6e"/><stop offset="0.8132" stop-color="#65cd6e"/><stop offset="0.8151" stop-color="#65cd6e"/><stop offset="0.8171" stop-color="#65cd6e"/><stop offset="0.8191" stop-color="#74cc62"/><stop offset="0.8211" stop-color="#74cc62"/><stop offset="0.8230" stop-color="#74cc62"/><stop offset="0.8250" stop-color="#74cc62"/><stop offset="0.8270" stop-color="#68cd6b"/><stop offset="0.8289" stop-color="#68cd6b"/><stop offset="0.8309" stop-color="#6acd6a"/><stop offset="0.8329" stop-color="#6acd6a"/><stop offset="0.8349" stop-color="#5fcd73"/><stop offset="0.8368" stop-color="#5fcd73"/><stop offset="0.8388" stop-color="#74cc62"/><stop offset="0.8408" stop-color="#74cc62"/><stop offset="0.8428" stop-color="#68cd6c"/><stop offset="0.8447" stop-color="#68cd6c"/><stop offset="0.8467" stop-color="#5acc78"/><stop offset="0.8487" stop-color="#5acc78"/><stop offset="0.8507" stop-color="#63cd6f"/><stop offset="0.8526" stop-color="#63cd6f"/><stop offset="0.8546" stop-color="#75cc61"/><stop offset="0.8566" stop-color="#75cc61"/><stop offset="0.8586" stop-color="#70cd65"/><stop offset="0.8605" stop-color="#70cd65"/><stop offset="0.8625" stop-color="#5ccc76"/><stop offset="0.8645" stop-color="#5ccc76"/><stop offset="0.8664" stop-color="#76cc61"/><stop offset="0.8684" stop-color="#76cc61"/><stop offset="0.8704" stop-color="#75cc61"/><stop offset="0.8724" stop-color="#75cc61"/><stop offset="0.8743" stop-color="#75cc61"/><stop offset="0.8763" stop-color="#75cc61"/><stop offset="0.8783" stop-color="#78cc5f"/><stop offset="0.8803" stop-color="#78cc5f"/><stop offset="0.8822" stop-color="#63cd70"/><stop offset="0.8842" stop-color="#63cd70"/><stop offset="0.8862" stop-color="#75cc62"/><stop offset="0.8882" stop-color="#75cc62"/><stop offset="0.8901" stop-color="#64cd6f"/><stop offset="0.8921" stop-color="#64cd6f"/><stop offset="0.8941" stop-color="#77cc60"/><stop offset="0.8961" stop-color="#77cc60"/><stop offset="0.8980" stop-color="#78cc5f"/><stop offset="0.9000" stop-color="#78cc5f"/><stop offset="0.9020" stop-color="#73cd63"/><stop offset="0.9039" stop-color="#73cd63"/><stop offset="0.9059" stop-color="#76cc61"/><stop offset="0.9079" stop-color="#76cc61"/><stop offset="0.9099" stop-color="#5ccc76"/><stop offset="0.9118" stop-color="#5ccc76"/><stop offset="0.9138" stop-color="#75cc62"/><stop offset="0.9158" stop-color="#75cc62"/><stop offset="0.9178" stop-color="#5acc77"/><stop offset="0.9197" stop-color="#5acc77"/><stop offset="0.9217" stop-color="#78cc5f"/><stop offset="0.9237" stop-color="#78cc5f"/><stop offset="0.9257" stop-color="#78cc5f"/><stop offset="0.9276" stop-color="#78cc5f"/><stop offset="0.9296" stop-color="#5acc78"/><stop offset="0.9316" stop-color="#5acc78"/><stop offset="0.9336" stop-color="#59cc78"/><stop offset="0.9355" stop-color="#59cc78"/><stop offset="0.9375" stop-color="#78cc5f"/><stop offset="0.9395" stop-color="#78cc5f"/><stop offset="0.9414" stop-color="#5ccc76"/><stop offset="0.9434" stop-color="#5ccc76"/><stop offset="0.9454" stop-color="#73cd62"/><stop offset="0.9474" stop-color="#73cd62"/><stop offset="0.9493" stop-color="#5acc77"/><stop offset="0.9513" stop-color="#5acc77"/><stop offset="0.9533" stop-color="#6bcd69"/><stop offset="0.9553" stop-color="#6bcd69"/><stop offset="0.9572" stop-color="#5dcc75"/><stop offset="0.9592" stop-color="#5dcc75"/><stop offset="0.9612" stop-color="#74cc62"/><stop offset="0.9632" stop-color="#74cc62"/><stop offset="0.9651" stop-color="#61cd71"/><stop offset="0.9671" stop-color="#61cd71"/><stop offset="0.9691" stop-color="#78cc5f"/><stop offset="0.9711" stop-color="#78cc5f"/><stop offset="0.9730" stop-color="#5ccc76"/><stop offset="0.9750" stop-color="#5ccc76"/><stop offset="0.9770" stop-color="#78cc5f"/><stop offset="0.9789" stop-color="#78cc5f"/><stop offset="0.9809" stop-color="#68cd6b"/><stop offset="0.9829" stop-color="#68cd6b"/><stop offset="0.9849" stop-color="#73cd63"/><stop offset="0.9868" stop-color="#73cd63"/><stop offset="0.9888" stop-color="#59cc78"/><stop offset="0.9908" stop-color="#59cc78"/><stop offset="0.9928" stop-color="#59cc78"/><stop offset="0.9947" stop-color="#59cc78"/><stop offset="0.9967" stop-color="#77cc60"/><stop offset="0.9987" stop-color="#77cc60"/><stop offset="1.0000" stop-color="#5acc77"/></linearGradient><linearGradient id="g3" x1="0" y1="0" x2="1" y2="0"><stop offset="0.0000" stop-color="#fcbc3d"/><stop offset="0.0026" stop-color="#fbbc3d"/><stop offset="0.0053" stop-color="#fbbc3d"/><stop offset="0.0079" stop-color="#fabb3d"/><stop offset="0.0105" stop-color="#f8ba3d"/><stop offset="0.0132" stop-color="#f1ba37"/><stop offset="0.0158" stop-color="#e9bb30"/><stop offset="0.0184" stop-color="#b0c636"/><stop offset="0.0211" stop-color="#b0c636"/><stop offset="0.0237" stop-color="#9fc941"/><stop offset="0.0263" stop-color="#9fc941"/><stop offset="0.0289" stop-color="#b2c635"/><stop offset="0.0316" stop-color="#b2c635"/><stop offset="0.0342" stop-color="#a7c73c"/><stop offset="0.0368" stop-color="#a7c73c"/><stop offset="0.0395" stop-color="#a7c73c"/><stop offset="0.0421" stop-color="#a3c83f"/><stop offset="0.0447" stop-color="#a3c83f"/><stop offset="0.0474" stop-color="#a6c83d"/><stop offset="0.0500" stop-color="#a6c83d"/><stop offset="0.0526" stop-color="#bcc42f"/><stop offset="0.0553" stop-color="#bcc42f"/><stop offset="0.0579" stop-color="#b6c532"/><stop offset="0.0605" stop-color="#b6c532"/><stop offset="0.0632" stop-color="#aac73a"/><stop offset="0.0658" stop-color="#aac73a"/><stop offset="0.0684" stop-color="#b3c534"/><stop offset="0.0711" stop-color="#b3c534"/><stop offset="0.0737" stop-color="#b4c534"/><stop offset="0.0763" stop-color="#bbc42f"/><stop offset="0.0789" stop-color="#c4c22b"/><stop offset="0.0816" stop-color="#c5c22a"/><stop offset="0.0842" stop-color="#dabd28"/><stop offset="0.0868" stop-color="#e6bb2d"/><stop offset="0.0895" stop-color="#ddbd29"/><stop offset="0.0921" stop-color="#d0bf27"/><stop offset="0.0947" stop-color="#bfc32d"/><stop offset="0.0974" stop-color="#b2c535"/><stop offset="0.1000" stop-color="#afc636"/><stop offset="0.1026" stop-color="#a9c73a"/><stop offset="0.1053" stop-color="#a9c73a"/><stop offset="0.1079" stop-color="#a9c73a"/><stop offset="0.1105" stop-color="#b7c532"/><stop offset="0.1132" stop-color="#b7c532"/><stop offset="0.1158" stop-color="#9ec942"/><stop offset="0.1184" stop-color="#98c946"/><stop offset="0.1211" stop-color="#94ca4a"/><stop offset="0.1237" stop-color="#8ecb4e"/><stop offset="0.1263" stop-color="#94ca4a"/><stop offset="0.1289" stop-color="#8ecb4f"/><stop offset="0.1316" stop-color="#79cc5e"/><stop offset="0.1342" stop-color="#79cc5e"/><stop offset="0.1368" stop-color="#8acb52"/><stop offset="0.1395" stop-color="#8acb52"/><stop offset="0.1421" stop-color="#8acb52"/><stop offset="0.1447" stop-color="#78cc5f"/><stop offset="0.1474" stop-color="#78cc5f"/><stop offset="0.1500" stop-color="#74cc62"/><stop offset="0.1526" stop-color="#74cc62"/><stop offset="0.1553" stop-color="#77cc60"/><stop offset="0.1579" stop-color="#77cc60"/><stop offset="0.1605" stop-color="#7ccc5c"/><stop offset="0.1632" stop-color="#7ccc5c"/><stop offset="0.1658" stop-color="#7bcc5d"/><stop offset="0.1684" stop-color="#7bcc5d"/><stop offset="0.1711" stop-color="#78cc5f"/><stop offset="0.1737" stop-color="#78cc5f"/><stop offset="0.1763" stop-color="#78cc5f"/><stop offset="0.1789" stop-color="#6bcd69"/><stop offset="0.1816" stop-color="#6bcd69"/><stop offset="0.1842" stop-color="#6dcd67"/><stop offset="0.1868" stop-color="#6dcd67"/><stop offset="0.1895" stop-color="#73cd62"/><stop offset="0.1921" stop-color="#73cd62"/><stop offset="0.1947" stop-color="#7bcc5d"/><stop offset="0.1974" stop-color="#7bcc5d"/><stop offset="0.2000" stop-color="#81cc59"/><stop offset="0.2026" stop-color="#81cc59"/><stop offset="0.2053" stop-color="#64cd6f"/><stop offset="0.2079" stop-color="#64cd6f"/><stop offset="0.2105" stop-color="#64cd6f"/><stop offset="0.2132" stop-color="#75cc61"/><stop offset="0.2158" stop-color="#79cc5e"/><stop offset="0.2184" stop-color="#80cc59"/><stop offset="0.2211" stop-color="#91ca4c"/><stop offset="0.2237" stop-color="#a4c83e"/><stop offset="0.2263" stop-color="#a7c73c"/><stop offset="0.2289" stop-color="#9cc944"/><stop offset="0.2316" stop-color="#8acb51"/><stop offset="0.2342" stop-color="#76cc61"/><stop offset="0.2368" stop-color="#71cd64"/><stop offset="0.2395" stop-color="#6ccd68"/><stop offset="0.2421" stop-color="#6ccd68"/><stop offset="0.2447" stop-color="#6ccd68"/><stop offset="0.2474" stop-color="#7dcc5b"/><stop offset="0.2500" stop-color="#7dcc5b"/><stop offset="0.2526" stop-color="#7bcc5d"/><stop offset="0.2553" stop-color="#7bcc5d"/><stop offset="0.2579" stop-color="#72cd63"/><stop offset="0.2605" stop-color="#72cd63"/><stop offset="0.2632" stop-color="#75cc62"/><stop offset="0.2658" stop-color="#75cc62"/><stop offset="0.2684" stop-color="#70cd65"/><stop offset="0.2711" stop-color="#70cd65"/><stop offset="0.2737" stop-color="#6bcd69"/><stop offset="0.2763" stop-color="#6bcd69"/><stop offset="0.2789" stop-color="#6bcd69"/><stop offset="0.2816" stop-color="#7acc5d"/><stop offset="0.2842" stop-color="#7acc5d"/><stop offset="0.2868" stop-color="#70cd65"/><stop offset="0.2895" stop-color="#70cd65"/><stop offset="0.2921" stop-color="#6dcd67"/><stop offset="0.2947" stop-color="#6dcd67"/><stop offset="0.2974" stop-color="#71cd64"/><stop offset="0.3000" stop-color="#71cd64"/><stop offset="0.3026" stop-color="#82cc58"/><stop offset="0.3053" stop-color="#82cc58"/><stop offset="0.3079" stop-color="#79cc5e"/><stop offset="0.3105" stop-color="#79cc5e"/><stop offset="0.3132" stop-color="#79cc5e"/><stop offset="0.3158" stop-color="#77cc60"/><stop offset="0.3184" stop-color="#77cc60"/><stop offset="0.3211" stop-color="#76cc60"/><stop offset="0.3237" stop-color="#76cc60"/><stop offset="0.3263" stop-color="#7ccc5c"/><stop offset="0.3289" stop-color="#7ccc5c"/><stop offset="0.3316" stop-color="#7bcc5d"/><stop offset="0.3342" stop-color="#7bcc5d"/><stop offset="0.3368" stop-color="#6ccd68"/><stop offset="0.3395" stop-color="#6ccd68"/><stop offset="0.3421" stop-color="#74cd62"/><stop offset="0.3447" stop-color="#74cd62"/><stop offset="0.3474" stop-color="#74cd62"/><stop offset="0.3500" stop-color="#71cd64"/><stop offset="0.3526" stop-color="#71cd64"/><stop offset="0.3553" stop-color="#7bcc5d"/><stop offset="0.3579" stop-color="#82cc58"/><stop offset="0.3605" stop-color="#8acb51"/><stop offset="0.3632" stop-color="#92ca4b"/><stop offset="0.3658" stop-color="#82cc58"/><stop offset="0.3684" stop-color="#78cc5f"/><stop offset="0.3711" stop-color="#86cb54"/><stop offset="0.3737" stop-color="#81cc59"/><stop offset="0.3763" stop-color="#78cc5f"/><stop offset="0.3789" stop-color="#78cc5f"/><stop offset="0.3816" stop-color="#77cc5f"/><stop offset="0.3842" stop-color="#69cd6b"/><stop offset="0.3868" stop-color="#69cd6b"/><stop offset="0.3895" stop-color="#7ecc5a"/><stop offset="0.3921" stop-color="#7ecc5a"/><stop offset="0.3947" stop-color="#76cc60"/><stop offset="0.3974" stop-color="#76cc60"/><stop offset="0.4000" stop-color="#79cc5e"/><stop offset="0.4026" stop-color="#79cc5e"/><stop offset="0.4053" stop-color="#76cc61"/><stop offset="0.4079" stop-color="#76cc61"/><stop offset="0.4105" stop-color="#77cc60"/><stop offset="0.4132" stop-color="#77cc60"/><stop offset="0.4158" stop-color="#77cc60"/><stop offset="0.4184" stop-color="#71cd64"/><stop offset="0.4211" stop-color="#71cd64"/><stop offset="0.4237" stop-color="#69cd6b"/><stop offset="0.4263" stop-color="#69cd6b"/><stop offset="0.4289" stop-color="#71cd65"/><stop offset="0.4316" stop-color="#71cd65"/><stop offset="0.4342" stop-color="#77cc60"/><stop offset="0.4368" stop-color="#77cc60"/><stop offset="0.4395" stop-color="#76cc61"/><stop offset="0.4421" stop-color="#76cc61"/><stop offset="0.4447" stop-color="#7acc5d"/><stop offset="0.4474" stop-color="#7acc5d"/><stop offset="0.4500" stop-color="#7acc5d"/><stop offset="0.4526" stop-color="#75cc62"/><stop offset="0.4553" stop-color="#75cc62"/><stop offset="0.4579" stop-color="#65cd6e"/><stop offset="0.4605" stop-color="#65cd6e"/><stop offset="0.4632" stop-color="#7bcc5d"/><stop offset="0.4658" stop-color="#7bcc5d"/><stop offset="0.4684" stop-color="#6fcd66"/><stop offset="0.4711" stop-color="#6fcd66"/><stop offset="0.4737" stop-color="#6bcd69"/><stop offset="0.4763" stop-color="#6bcd69"/><stop offset="0.4789" stop-color="#73cd63"/><stop offset="0.4816" stop-color="#73cd63"/><stop offset="0.4842" stop-color="#73cd63"/><stop offset="0.4868" stop-color="#6bcd69"/><stop offset="0.4895" stop-color="#6bcd69"/><stop offset="0.4921" stop-color="#78cc5f"/><stop offset="0.4947" stop-color="#79cc5e"/><stop offset="0.4974" stop-color="#72cd64"/><stop offset="0.5000" stop-color="#74cc62"/><stop offset="0.5026" stop-color="#8bcb51"/><stop offset="0.5053" stop-color="#8acb52"/><stop offset="0.5079" stop-color="#77cc60"/><stop offset="0.5105" stop-color="#75cc61"/><stop offset="0.5132" stop-color="#71cd64"/><stop offset="0.5158" stop-color="#71cd64"/><stop offset="0.5184" stop-color="#71cd64"/><stop offset="0.5211" stop-color="#70cd65"/><stop offset="0.5237" stop-color="#70cd65"/><stop offset="0.5263" stop-color="#65cd6e"/><stop offset="0.5289" stop-color="#65cd6e"/><stop offset="0.5316" stop-color="#6fcd66"/><stop offset="0.5342" stop-color="#6fcd66"/><stop offset="0.5368" stop-color="#6fcd66"/><stop offset="0.5395" stop-color="#6fcd66"/><stop offset="0.5421" stop-color="#72cd63"/><stop offset="0.5447" stop-color="#72cd63"/><stop offset="0.5474" stop-color="#65cd6e"/><stop offset="0.5500" stop-color="#65cd6e"/><stop offset="0.5526" stop-color="#65cd6e"/><stop offset="0.5553" stop-color="#75cc61"/><stop offset="0.5579" stop-color="#75cc61"/><stop offset="0.5605" stop-color="#7fcc5a"/><stop offset="0.5632" stop-color="#7fcc5a"/><stop offset="0.5658" stop-color="#72cd64"/><stop offset="0.5684" stop-color="#72cd64"/><stop offset="0.5711" stop-color="#75cc61"/><stop offset="0.5737" stop-color="#75cc61"/><stop offset="0.5763" stop-color="#78cc5f"/><stop offset="0.5789" stop-color="#78cc5f"/><stop offset="0.5816" stop-color="#6fcd66"/><stop offset="0.5842" stop-color="#6fcd66"/><stop offset="0.5868" stop-color="#6fcd66"/><stop offset="0.5895" stop-color="#72cd64"/><stop offset="0.5921" stop-color="#72cd64"/><stop offset="0.5947" stop-color="#7ccc5c"/><stop offset="0.5974" stop-color="#7ccc5c"/><stop offset="0.6000" stop-color="#77cc60"/><stop offset="0.6026" stop-color="#77cc60"/><stop offset="0.6053" stop-color="#6ccd68"/><stop offset="0.6079" stop-color="#6ccd68"/><stop offset="0.6105" stop-color="#68cd6b"/><stop offset="0.6132" stop-color="#68cd6b"/><stop offset="0.6158" stop-color="#87cb54"/><stop offset="0.6184" stop-color="#87cb54"/><stop offset="0.6211" stop-color="#87cb54"/><stop offset="0.6237" stop-color="#79cc5f"/><stop offset="0.6263" stop-color="#79cc5f"/><stop offset="0.6289" stop-color="#6acd6a"/><stop offset="0.6316" stop-color="#6acd6a"/><stop offset="0.6342" stop-color="#76cc60"/><stop offset="0.6368" stop-color="#76cc60"/><stop offset="0.6395" stop-color="#7bcc5d"/><stop offset="0.6421" stop-color="#7bcc5d"/><stop offset="0.6447" stop-color="#76cc60"/><stop offset="0.6474" stop-color="#76cc60"/><stop offset="0.6500" stop-color="#68cd6c"/><stop offset="0.6526" stop-color="#68cd6c"/><stop offset="0.6553" stop-color="#68cd6c"/><stop offset="0.6579" stop-color="#83cc57"/><stop offset="0.6605" stop-color="#83cc57"/><stop offset="0.6632" stop-color="#7acc5e"/><stop offset="0.6658" stop-color="#7acc5e"/><stop offset="0.6684" stop-color="#74cc62"/><stop offset="0.6711" stop-color="#74cc62"/><stop offset="0.6737" stop-color="#7bcc5d"/><stop offset="0.6763" stop-color="#7bcc5d"/><stop offset="0.6789" stop-color="#74cd62"/><stop offset="0.6816" stop-color="#74cd62"/><stop offset="0.6842" stop-color="#73cd63"/><stop offset="0.6868" stop-color="#73cd63"/><stop offset="0.6895" stop-color="#73cd63"/><stop offset="0.6921" stop-color="#7ccc5c"/><stop offset="0.6947" stop-color="#7ccc5c"/><stop offset="0.6974" stop-color="#67cd6c"/><stop offset="0.7000" stop-color="#67cd6c"/><stop offset="0.7026" stop-color="#7dcc5b"/><stop offset="0.7053" stop-color="#7dcc5b"/><stop offset="0.7079" stop-color="#79cc5f"/><stop offset="0.7105" stop-color="#79cc5f"/><stop offset="0.7132" stop-color="#7bcc5d"/><stop offset="0.7158" stop-color="#7bcc5d"/><stop offset="0.7184" stop-color="#7dcc5c"/><stop offset="0.7211" stop-color="#7dcc5c"/><stop offset="0.7237" stop-color="#7dcc5c"/><stop offset="0.7263" stop-color="#82cc58"/><stop offset="0.7289" stop-color="#82cc58"/><stop offset="0.7316" stop-color="#81cc59"/><stop offset="0.7342" stop-color="#81cc59"/><stop offset="0.7368" stop-color="#7ccc5c"/><stop offset="0.7395" stop-color="#7ccc5c"/><stop offset="0.7421" stop-color="#73cd63"/><stop offset="0.7447" stop-color="#73cd63"/><stop offset="0.7474" stop-color="#7bcc5d"/><stop offset="0.7500" stop-color="#7bcc5d"/><stop offset="0.7526" stop-color="#72cd63"/><stop offset="0.7553" stop-color="#72cd63"/><stop offset="0.7579" stop-color="#72cd63"/><stop offset="0.7605" stop-color="#6fcd66"/><stop offset="0.7632" stop-color="#6fcd66"/><stop offset="0.7658" stop-color="#79cc5e"/><stop offset="0.7684" stop-color="#79cc5e"/><stop offset="0.7711" stop-color="#78cc5f"/><stop offset="0.7737" stop-color="#78cc5f"/><stop offset="0.7763" stop-color="#7fcc5a"/><stop offset="0.7789" stop-color="#7fcc5a"/><stop offset="0.7816" stop-color="#66cd6d"/><stop offset="0.7842" stop-color="#66cd6d"/><stop offset="0.7868" stop-color="#7acc5d"/><stop offset="0.7895" stop-color="#7acc5d"/><stop offset="0.7921" stop-color="#7acc5d"/><stop offset="0.7947" stop-color="#7bcc5d"/><stop offset="0.7974" stop-color="#7bcc5d"/><stop offset="0.8000" stop-color="#77cc60"/><stop offset="0.8026" stop-color="#77cc60"/><stop offset="0.8053" stop-color="#81cc58"/><stop offset="0.8079" stop-color="#81cc58"/><stop offset="0.8105" stop-color="#6fcd66"/><stop offset="0.8132" stop-color="#6fcd66"/><stop offset="0.8158" stop-color="#78cc5f"/><stop offset="0.8184" stop-color="#78cc5f"/><stop offset="0.8211" stop-color="#73cd63"/><stop offset="0.8237" stop-color="#73cd63"/><stop offset="0.8263" stop-color="#73cd63"/><stop offset="0.8289" stop-color="#76cc61"/><stop offset="0.8316" stop-color="#76cc61"/><stop offset="0.8342" stop-color="#6fcd66"/><stop offset="0.8368" stop-color="#6fcd66"/><stop offset="0.8395" stop-color="#75cc61"/><stop offset="0.8421" stop-color="#75cc61"/><stop offset="0.8447" stop-color="#7bcc5d"/><stop offset="0.8474" stop-color="#7bcc5d"/><stop offset="0.8500" stop-color="#77cc60"/><stop offset="0.8526" stop-color="#77cc60"/><stop offset="0.8553" stop-color="#79cc5f"/><stop offset="0.8579" stop-color="#79cc5f"/><stop offset="0.8605" stop-color="#79cc5f"/><stop offset="0.8632" stop-color="#70cd65"/><stop offset="0.8658" stop-color="#70cd65"/><stop offset="0.8684" stop-color="#82cc58"/><stop offset="0.8711" stop-color="#82cc58"/><stop offset="0.8737" stop-color="#71cd65"/><stop offset="0.8763" stop-color="#71cd65"/><stop offset="0.8789" stop-color="#76cc60"/><stop offset="0.8816" stop-color="#76cc60"/><stop offset="0.8842" stop-color="#7acc5d"/><stop offset="0.8868" stop-color="#7acc5d"/><stop offset="0.8895" stop-color="#75cc62"/><stop offset="0.8921" stop-color="#75cc62"/><stop offset="0.8947" stop-color="#75cc62"/><stop offset="0.8974" stop-color="#7ccc5c"/><stop offset="0.9000" stop-color="#7ccc5c"/><stop offset="0.9026" stop-color="#77cc5f"/><stop offset="0.9053" stop-color="#77cc5f"/><stop offset="0.9079" stop-color="#83cc57"/><stop offset="0.9105" stop-color="#83cc57"/><stop offset="0.9132" stop-color="#7acc5d"/><stop offset="0.9158" stop-color="#7acc5d"/><stop offset="0.9184" stop-color="#79cc5e"/><stop offset="0.9211" stop-color="#79cc5e"/><stop offset="0.9237" stop-color="#70cd65"/><stop offset="0.9263" stop-color="#70cd65"/><stop offset="0.9289" stop-color="#70cd65"/><stop offset="0.9316" stop-color="#79cc5e"/><stop offset="0.9342" stop-color="#79cc5e"/><stop offset="0.9368" stop-color="#7ecc5b"/><stop offset="0.9395" stop-color="#7ecc5b"/><stop offset="0.9421" stop-color="#79cc5e"/><stop offset="0.9447" stop-color="#79cc5e"/><stop offset="0.9474" stop-color="#6fcd66"/><stop offset="0.9500" stop-color="#6fcd66"/><stop offset="0.9526" stop-color="#72cd64"/><stop offset="0.9553" stop-color="#72cd64"/><stop offset="0.9579" stop-color="#74cc62"/><stop offset="0.9605" stop-color="#74cc62"/><stop offset="0.9632" stop-color="#74cc62"/><stop offset="0.9658" stop-color="#76cc60"/><stop offset="0.9684" stop-color="#76cc60"/><stop offset="0.9711" stop-color="#6ccd68"/><stop offset="0.9737" stop-color="#6ccd68"/><stop offset="0.9763" stop-color="#84cc56"/><stop offset="0.9789" stop-color="#84cc56"/><stop offset="0.9816" stop-color="#75cc61"/><stop offset="0.9842" stop-color="#75cc61"/><stop offset="0.9868" stop-color="#77cc60"/><stop offset="0.9895" stop-color="#77cc60"/><stop offset="0.9921" stop-color="#72cd63"/><stop offset="0.9947" stop-color="#72cd63"/><stop offset="0.9974" stop-color="#72cd63"/><stop offset="1.0000" stop-color="#76cc61"/></linearGradient><linearGradient id="g4" x1="0" y1="0" x2="1" y2="0"><stop offset="0.0000" stop-color="#fcbc3d"/><stop offset="0.0035" stop-color="#fbbc3d"/><stop offset="0.0070" stop-color="#fabb3d"/><stop offset="0.0105" stop-color="#f8ba3d"/><stop offset="0.0140" stop-color="#eeba34"/><stop offset="0.0175" stop-color="#c4c22a"/><stop offset="0.0211" stop-color="#c4c22b"/><stop offset="0.0246" stop-color="#c4c22b"/><stop offset="0.0281" stop-color="#c4c22b"/><stop offset="0.0316" stop-color="#c4c22b"/><stop offset="0.0351" stop-color="#c3c22b"/><stop offset="0.0386" stop-color="#c3c22b"/><stop offset="0.0421" stop-color="#c3c22b"/><stop offset="0.0456" stop-color="#c3c22b"/><stop offset="0.0491" stop-color="#c2c22c"/><stop offset="0.0526" stop-color="#c2c22c"/><stop offset="0.0561" stop-color="#c2c22c"/><stop offset="0.0596" stop-color="#c2c22c"/><stop offset="0.0632" stop-color="#c2c22c"/><stop offset="0.0667" stop-color="#c2c22c"/><stop offset="0.0702" stop-color="#c5c22a"/><stop offset="0.0737" stop-color="#cbc129"/><stop offset="0.0772" stop-color="#d5be28"/><stop offset="0.0807" stop-color="#e1bc2b"/><stop offset="0.0842" stop-color="#eaba31"/><stop offset="0.0877" stop-color="#ecba32"/><stop offset="0.0912" stop-color="#e6bb2d"/><stop offset="0.0947" stop-color="#dabd28"/><stop offset="0.0982" stop-color="#cec028"/><stop offset="0.1018" stop-color="#c6c22a"/><stop offset="0.1053" stop-color="#c1c32c"/><stop offset="0.1088" stop-color="#bfc32d"/><stop offset="0.1123" stop-color="#bec32e"/><stop offset="0.1158" stop-color="#bec32e"/><stop offset="0.1193" stop-color="#bdc32e"/><stop offset="0.1228" stop-color="#bdc32e"/><stop offset="0.1263" stop-color="#bdc32e"/><stop offset="0.1298" stop-color="#bdc32f"/><stop offset="0.1333" stop-color="#bcc42f"/><stop offset="0.1368" stop-color="#bcc42f"/><stop offset="0.1404" stop-color="#bcc42f"/><stop offset="0.1439" stop-color="#bcc42f"/><stop offset="0.1474" stop-color="#bcc42f"/><stop offset="0.1509" stop-color="#bcc42f"/><stop offset="0.1544" stop-color="#bcc42f"/><stop offset="0.1579" stop-color="#bbc42f"/><stop offset="0.1614" stop-color="#bbc42f"/><stop offset="0.1649" stop-color="#bbc42f"/><stop offset="0.1684" stop-color="#bbc42f"/><stop offset="0.1719" stop-color="#bbc430"/><stop offset="0.1754" stop-color="#bbc430"/><stop offset="0.1789" stop-color="#bbc430"/><stop offset="0.1825" stop-color="#bac430"/><stop offset="0.1860" stop-color="#bac430"/><stop offset="0.1895" stop-color="#bac430"/><stop offset="0.1930" stop-color="#bac430"/><stop offset="0.1965" stop-color="#bac430"/><stop offset="0.2000" stop-color="#bac430"/><stop offset="0.2035" stop-color="#bac430"/><stop offset="0.2070" stop-color="#bcc42f"/><stop offset="0.2105" stop-color="#c0c32d"/><stop offset="0.2140" stop-color="#c9c129"/><stop offset="0.2175" stop-color="#d5be28"/><stop offset="0.2211" stop-color="#e1bc2b"/><stop offset="0.2246" stop-color="#e7bb2e"/><stop offset="0.2281" stop-color="#e5bb2c"/><stop offset="0.2316" stop-color="#dbbd29"/><stop offset="0.2351" stop-color="#cec028"/><stop offset="0.2386" stop-color="#c3c22b"/><stop offset="0.2421" stop-color="#bcc42f"/><stop offset="0.2456" stop-color="#b9c431"/><stop offset="0.2491" stop-color="#b8c431"/><stop offset="0.2526" stop-color="#b7c531"/><stop offset="0.2561" stop-color="#b7c532"/><stop offset="0.2596" stop-color="#b7c532"/><stop offset="0.2632" stop-color="#b7c532"/><stop offset="0.2667" stop-color="#b7c532"/><stop offset="0.2702" stop-color="#b7c532"/><stop offset="0.2737" stop-color="#b7c532"/><stop offset="0.2772" stop-color="#b7c532"/><stop offset="0.2807" stop-color="#b7c532"/><stop offset="0.2842" stop-color="#b7c532"/><stop offset="0.2877" stop-color="#b7c532"/><stop offset="0.2912" stop-color="#b7c531"/><stop offset="0.2947" stop-color="#b7c531"/><stop offset="0.2982" stop-color="#b8c531"/><stop offset="0.3018" stop-color="#b8c431"/><stop offset="0.3053" stop-color="#b8c431"/><stop offset="0.3088" stop-color="#b8c431"/><stop offset="0.3123" stop-color="#b8c431"/><stop offset="0.3158" stop-color="#b8c431"/><stop offset="0.3193" stop-color="#b8c431"/><stop offset="0.3228" stop-color="#b8c431"/><stop offset="0.3263" stop-color="#b8c431"/><stop offset="0.3298" stop-color="#b8c431"/><stop offset="0.3333" stop-color="#b8c431"/><stop offset="0.3368" stop-color="#b8c431"/><stop offset="0.3404" stop-color="#b9c431"/><stop offset="0.3439" stop-color="#bac430"/><stop offset="0.3474" stop-color="#bdc32f"/><stop offset="0.3509" stop-color="#c3c22b"/><stop offset="0.3544" stop-color="#cec028"/><stop offset="0.3579" stop-color="#dbbd29"/><stop offset="0.3614" stop-color="#e5bb2d"/><stop offset="0.3649" stop-color="#e7bb2e"/><stop offset="0.3684" stop-color="#e1bc2b"/><stop offset="0.3719" stop-color="#d5be28"/><stop offset="0.3754" stop-color="#c9c129"/><stop offset="0.3789" stop-color="#c0c32d"/><stop offset="0.3825" stop-color="#bcc42f"/><stop offset="0.3860" stop-color="#bac430"/><stop offset="0.3895" stop-color="#b9c430"/><stop offset="0.3930" stop-color="#b9c430"/><stop offset="0.3965" stop-color="#b9c430"/><stop offset="0.4000" stop-color="#b9c430"/><stop offset="0.4035" stop-color="#bac430"/><stop offset="0.4070" stop-color="#bac430"/><stop offset="0.4105" stop-color="#bac430"/><stop offset="0.4140" stop-color="#bac430"/><stop offset="0.4175" stop-color="#bac430"/><stop offset="0.4211" stop-color="#bac430"/><stop offset="0.4246" stop-color="#bac430"/><stop offset="0.4281" stop-color="#bac430"/><stop offset="0.4316" stop-color="#bac430"/><stop offset="0.4351" stop-color="#bac430"/><stop offset="0.4386" stop-color="#bac430"/><stop offset="0.4421" stop-color="#bac430"/><stop offset="0.4456" stop-color="#bac430"/><stop offset="0.4491" stop-color="#bac430"/><stop offset="0.4526" stop-color="#bac430"/><stop offset="0.4561" stop-color="#bac430"/><stop offset="0.4596" stop-color="#bbc430"/><stop offset="0.4632" stop-color="#bbc430"/><stop offset="0.4667" stop-color="#bbc430"/><stop offset="0.4702" stop-color="#bbc430"/><stop offset="0.4737" stop-color="#bbc430"/><stop offset="0.4772" stop-color="#bbc42f"/><stop offset="0.4807" stop-color="#bcc42f"/><stop offset="0.4842" stop-color="#bdc32e"/><stop offset="0.4877" stop-color="#c2c22c"/><stop offset="0.4912" stop-color="#cbc129"/><stop offset="0.4947" stop-color="#d7be28"/><stop offset="0.4982" stop-color="#e3bc2c"/><stop offset="0.5018" stop-color="#e9bb30"/><stop offset="0.5053" stop-color="#e7bb2e"/><stop offset="0.5088" stop-color="#debd29"/><stop offset="0.5123" stop-color="#d1bf27"/><stop offset="0.5158" stop-color="#c6c22a"/><stop offset="0.5193" stop-color="#c0c32d"/><stop offset="0.5228" stop-color="#bdc32e"/><stop offset="0.5263" stop-color="#bcc42f"/><stop offset="0.5298" stop-color="#bcc42f"/><stop offset="0.5333" stop-color="#bcc42f"/><stop offset="0.5368" stop-color="#bcc42f"/><stop offset="0.5404" stop-color="#bcc42f"/><stop offset="0.5439" stop-color="#bcc42f"/><stop offset="0.5474" stop-color="#bcc42f"/><stop offset="0.5509" stop-color="#bcc42f"/><stop offset="0.5544" stop-color="#bcc42f"/><stop offset="0.5579" stop-color="#bcc42f"/><stop offset="0.5614" stop-color="#bcc42f"/><stop offset="0.5649" stop-color="#bcc42f"/><stop offset="0.5684" stop-color="#bcc42f"/><stop offset="0.5719" stop-color="#bdc32f"/><stop offset="0.5754" stop-color="#bdc32e"/><stop offset="0.5789" stop-color="#bdc32e"/><stop offset="0.5825" stop-color="#bec32e"/><stop offset="0.5860" stop-color="#bec32e"/><stop offset="0.5895" stop-color="#bec32e"/><stop offset="0.5930" stop-color="#bfc32e"/><stop offset="0.5965" stop-color="#bfc32d"/><stop offset="0.6000" stop-color="#bfc32d"/><stop offset="0.6035" stop-color="#c0c32d"/><stop offset="0.6070" stop-color="#c0c32d"/><stop offset="0.6105" stop-color="#c0c32d"/><stop offset="0.6140" stop-color="#c1c32c"/><stop offset="0.6175" stop-color="#c1c32c"/><stop offset="0.6211" stop-color="#c2c22b"/><stop offset="0.6246" stop-color="#c6c22a"/><stop offset="0.6281" stop-color="#ccc028"/><stop offset="0.6316" stop-color="#d7be28"/><stop offset="0.6351" stop-color="#e3bc2c"/><stop offset="0.6386" stop-color="#ecba33"/><stop offset="0.6421" stop-color="#efba35"/><stop offset="0.6456" stop-color="#e9bb30"/><stop offset="0.6491" stop-color="#debc2a"/><stop offset="0.6526" stop-color="#d3bf27"/><stop offset="0.6561" stop-color="#cbc129"/><stop offset="0.6596" stop-color="#c7c12a"/><stop offset="0.6632" stop-color="#c6c22a"/><stop offset="0.6667" stop-color="#c5c22a"/><stop offset="0.6702" stop-color="#c6c22a"/><stop offset="0.6737" stop-color="#c6c22a"/><stop offset="0.6772" stop-color="#c6c22a"/><stop offset="0.6807" stop-color="#c6c12a"/><stop offset="0.6842" stop-color="#c7c12a"/><stop offset="0.6877" stop-color="#c7c12a"/><stop offset="0.6912" stop-color="#c7c129"/><stop offset="0.6947" stop-color="#c8c129"/><stop offset="0.6982" stop-color="#c8c129"/><stop offset="0.7018" stop-color="#c8c129"/><stop offset="0.7053" stop-color="#c9c129"/><stop offset="0.7088" stop-color="#c9c129"/><stop offset="0.7123" stop-color="#c9c129"/><stop offset="0.7158" stop-color="#c9c129"/><stop offset="0.7193" stop-color="#cac129"/><stop offset="0.7228" stop-color="#cac129"/><stop offset="0.7263" stop-color="#cac129"/><stop offset="0.7298" stop-color="#cbc129"/><stop offset="0.7333" stop-color="#cbc129"/><stop offset="0.7368" stop-color="#cbc029"/><stop offset="0.7404" stop-color="#ccc028"/><stop offset="0.7439" stop-color="#ccc028"/><stop offset="0.7474" stop-color="#ccc028"/><stop offset="0.7509" stop-color="#ccc028"/><stop offset="0.7544" stop-color="#cdc028"/><stop offset="0.7579" stop-color="#cec028"/><stop offset="0.7614" stop-color="#d0c028"/><stop offset="0.7649" stop-color="#d4bf28"/><stop offset="0.7684" stop-color="#dcbd29"/><stop offset="0.7719" stop-color="#e7bb2e"/><stop offset="0.7754" stop-color="#f1ba37"/><stop offset="0.7789" stop-color="#f7ba3c"/><stop offset="0.7825" stop-color="#f5ba3b"/><stop offset="0.7860" stop-color="#edba34"/><stop offset="0.7895" stop-color="#e3bc2c"/><stop offset="0.7930" stop-color="#dabd28"/><stop offset="0.7965" stop-color="#d4bf28"/><stop offset="0.8000" stop-color="#d2bf27"/><stop offset="0.8035" stop-color="#d1bf27"/><stop offset="0.8070" stop-color="#d1bf27"/><stop offset="0.8105" stop-color="#d2bf27"/><stop offset="0.8140" stop-color="#d2bf27"/><stop offset="0.8175" stop-color="#d2bf27"/><stop offset="0.8211" stop-color="#d2bf27"/><stop offset="0.8246" stop-color="#d3bf27"/><stop offset="0.8281" stop-color="#d3bf27"/><stop offset="0.8316" stop-color="#d3bf27"/><stop offset="0.8351" stop-color="#d4bf27"/><stop offset="0.8386" stop-color="#d4bf28"/><stop offset="0.8421" stop-color="#d5be28"/><stop offset="0.8456" stop-color="#d5be28"/><stop offset="0.8491" stop-color="#d6be28"/><stop offset="0.8526" stop-color="#d6be28"/><stop offset="0.8561" stop-color="#d7be28"/><stop offset="0.8596" stop-color="#d7be28"/><stop offset="0.8632" stop-color="#d8be28"/><stop offset="0.8667" stop-color="#d9be28"/><stop offset="0.8702" stop-color="#d9be28"/><stop offset="0.8737" stop-color="#dabd28"/><stop offset="0.8772" stop-color="#dabd28"/><stop offset="0.8807" stop-color="#dbbd29"/><stop offset="0.8842" stop-color="#dbbd29"/><stop offset="0.8877" stop-color="#dcbd29"/><stop offset="0.8912" stop-color="#dcbd29"/><stop offset="0.8947" stop-color="#ddbd29"/><stop offset="0.8982" stop-color="#dfbc2a"/><stop offset="0.9018" stop-color="#e4bb2c"/><stop offset="0.9053" stop-color="#ecba32"/><stop offset="0.9088" stop-color="#f7ba3c"/><stop offset="0.9123" stop-color="#febf3b"/><stop offset="0.9158" stop-color="#fec736"/><stop offset="0.9193" stop-color="#feca33"/><stop offset="0.9228" stop-color="#fec834"/><stop offset="0.9263" stop-color="#fec338"/><stop offset="0.9298" stop-color="#febd3c"/><stop offset="0.9333" stop-color="#fabb3d"/><stop offset="0.9368" stop-color="#f8ba3d"/><stop offset="0.9404" stop-color="#f7ba3c"/><stop offset="0.9439" stop-color="#f7ba3c"/><stop offset="0.9474" stop-color="#f7ba3c"/><stop offset="0.9509" stop-color="#f7ba3c"/><stop offset="0.9544" stop-color="#f7ba3c"/><stop offset="0.9579" stop-color="#f8ba3d"/><stop offset="0.9614" stop-color="#f8ba3d"/><stop offset="0.9649" stop-color="#f8ba3d"/><stop offset="0.9684" stop-color="#f8ba3d"/><stop offset="0.9719" stop-color="#f8ba3d"/><stop offset="0.9754" stop-color="#f9ba3d"/><stop offset="0.9789" stop-color="#f9ba3d"/><stop offset="0.9825" stop-color="#f9bb3d"/><stop offset="0.9860" stop-color="#f9bb3d"/><stop offset="0.9895" stop-color="#f9bb3d"/><stop offset="0.9930" stop-color="#f9bb3d"/><stop offset="0.9965" stop-color="#fabb3d"/><stop offset="1.0000" stop-color="#fabb3d"/></linearGradient><linearGradient id="g5" x1="0" y1="0" x2="1" y2="0"><stop offset="0.0000" stop-color="#f0ba36"/><stop offset="0.0088" stop-color="#ebba32"/><stop offset="0.0175" stop-color="#ccc028"/><stop offset="0.0263" stop-color="#bec32e"/><stop offset="0.0351" stop-color="#b0c636"/><stop offset="0.0439" stop-color="#afc637"/><stop offset="0.0526" stop-color="#b0c636"/><stop offset="0.0614" stop-color="#a7c73c"/><stop offset="0.0702" stop-color="#abc739"/><stop offset="0.0789" stop-color="#a9c73b"/><stop offset="0.0877" stop-color="#a3c83f"/><stop offset="0.0965" stop-color="#9bc944"/><stop offset="0.1053" stop-color="#9bc945"/><stop offset="0.1140" stop-color="#92ca4b"/><stop offset="0.1228" stop-color="#90ca4d"/><stop offset="0.1316" stop-color="#8dcb4f"/><stop offset="0.1404" stop-color="#8dcb4f"/><stop offset="0.1491" stop-color="#88cb53"/><stop offset="0.1579" stop-color="#8ccb50"/><stop offset="0.1667" stop-color="#8dcb4f"/><stop offset="0.1754" stop-color="#86cb54"/><stop offset="0.1842" stop-color="#8ccb50"/><stop offset="0.1930" stop-color="#89cb52"/><stop offset="0.2018" stop-color="#7ecc5b"/><stop offset="0.2105" stop-color="#83cc57"/><stop offset="0.2193" stop-color="#84cc56"/><stop offset="0.2281" stop-color="#81cc58"/><stop offset="0.2368" stop-color="#7dcc5b"/><stop offset="0.2456" stop-color="#7bcc5d"/><stop offset="0.2544" stop-color="#7acc5e"/><stop offset="0.2632" stop-color="#76cc60"/><stop offset="0.2719" stop-color="#7bcc5d"/><stop offset="0.2807" stop-color="#74cc62"/><stop offset="0.2895" stop-color="#71cd64"/><stop offset="0.2982" stop-color="#76cc60"/><stop offset="0.3070" stop-color="#72cd63"/><stop offset="0.3158" stop-color="#75cc61"/><stop offset="0.3246" stop-color="#74cc62"/><stop offset="0.3333" stop-color="#6dcd68"/><stop offset="0.3421" stop-color="#73cd63"/><stop offset="0.3509" stop-color="#74cc62"/><stop offset="0.3596" stop-color="#6dcd67"/><stop offset="0.3684" stop-color="#6fcd66"/><stop offset="0.3772" stop-color="#6fcd66"/><stop offset="0.3860" stop-color="#6acd69"/><stop offset="0.3947" stop-color="#6acd6a"/><stop offset="0.4035" stop-color="#6ecd67"/><stop offset="0.4123" stop-color="#69cd6b"/><stop offset="0.4211" stop-color="#6dcd68"/><stop offset="0.4298" stop-color="#67cd6d"/><stop offset="0.4386" stop-color="#68cd6c"/><stop offset="0.4474" stop-color="#61cd71"/><stop offset="0.4561" stop-color="#67cd6d"/><stop offset="0.4649" stop-color="#6ecd67"/><stop offset="0.4737" stop-color="#6ccd68"/><stop offset="0.4825" stop-color="#65cd6e"/><stop offset="0.4912" stop-color="#66cd6d"/><stop offset="0.5000" stop-color="#5dcc75"/><stop offset="0.5088" stop-color="#57cc7a"/><stop offset="0.5175" stop-color="#63cd70"/><stop offset="0.5263" stop-color="#61cd71"/><stop offset="0.5351" stop-color="#61cd71"/><stop offset="0.5439" stop-color="#5fcd73"/><stop offset="0.5526" stop-color="#5ecc74"/><stop offset="0.5614" stop-color="#5acc78"/><stop offset="0.5702" stop-color="#5ccc75"/><stop offset="0.5789" stop-color="#5ecc74"/><stop offset="0.5877" stop-color="#5ecd74"/><stop offset="0.5965" stop-color="#65cd6e"/><stop offset="0.6053" stop-color="#56cc7b"/><stop offset="0.6140" stop-color="#5fcd73"/><stop offset="0.6228" stop-color="#59cc78"/><stop offset="0.6316" stop-color="#59cc78"/><stop offset="0.6404" stop-color="#5dcc74"/><stop offset="0.6491" stop-color="#5dcc75"/><stop offset="0.6579" stop-color="#5dcc75"/><stop offset="0.6667" stop-color="#56cc7b"/><stop offset="0.6754" stop-color="#57cc7a"/><stop offset="0.6842" stop-color="#5bcc77"/><stop offset="0.6930" stop-color="#58cc79"/><stop offset="0.7018" stop-color="#59cc78"/><stop offset="0.7105" stop-color="#55cc7b"/><stop offset="0.7193" stop-color="#57cc7a"/><stop offset="0.7281" stop-color="#56cc7b"/><stop offset="0.7368" stop-color="#54cc7d"/><stop offset="0.7456" stop-color="#5bcc77"/><stop offset="0.7544" stop-color="#50cc7f"/><stop offset="0.7632" stop-color="#54cc7c"/><stop offset="0.7719" stop-color="#54cc7c"/><stop offset="0.7807" stop-color="#56cc7b"/><stop offset="0.7895" stop-color="#54cc7c"/><stop offset="0.7982" stop-color="#54cc7d"/><stop offset="0.8070" stop-color="#52cc7e"/><stop offset="0.8158" stop-color="#51cc7f"/><stop offset="0.8246" stop-color="#57cc7a"/><stop offset="0.8333" stop-color="#53cc7d"/><stop offset="0.8421" stop-color="#55cc7c"/><stop offset="0.8509" stop-color="#53cc7d"/><stop offset="0.8596" stop-color="#50cc80"/><stop offset="0.8684" stop-color="#54cc7d"/><stop offset="0.8772" stop-color="#4fcc80"/><stop offset="0.8860" stop-color="#55cc7c"/><stop offset="0.8947" stop-color="#52cc7e"/><stop offset="0.9035" stop-color="#50cc80"/><stop offset="0.9123" stop-color="#53cc7d"/><stop offset="0.9211" stop-color="#4ecc81"/><stop offset="0.9298" stop-color="#53cc7d"/><stop offset="0.9386" stop-color="#56cc7b"/><stop offset="0.9474" stop-color="#51cc7f"/><stop offset="0.9561" stop-color="#52cc7e"/><stop offset="0.9649" stop-color="#4dcb82"/><stop offset="0.9737" stop-color="#55cc7c"/><stop offset="0.9825" stop-color="#4ccb83"/><stop offset="0.9912" stop-color="#4ecc81"/><stop offset="1.0000" stop-color="#4ecc82"/></linearGradient><linearGradient id="g6" x1="0" y1="0" x2="1" y2="0"><stop offset="0.0000" stop-color="#f0ba36"/><stop offset="0.0044" stop-color="#eeba34"/><stop offset="0.0088" stop-color="#ebba32"/><stop offset="0.0132" stop-color="#e2bc2b"/><stop offset="0.0175" stop-color="#ccc028"/><stop offset="0.0219" stop-color="#a4c83e"/><stop offset="0.0263" stop-color="#abc739"/><stop offset="0.0307" stop-color="#9bc944"/><stop offset="0.0351" stop-color="#98ca47"/><stop offset="0.0395" stop-color="#9dc943"/><stop offset="0.0439" stop-color="#99c946"/><stop offset="0.0482" stop-color="#98ca47"/><stop offset="0.0526" stop-color="#9dc943"/><stop offset="0.0570" stop-color="#96ca49"/><stop offset="0.0614" stop-color="#91ca4c"/><stop offset="0.0658" stop-color="#8fcb4e"/><stop offset="0.0702" stop-color="#98c947"/><stop offset="0.0746" stop-color="#98c947"/><stop offset="0.0789" stop-color="#96ca48"/><stop offset="0.0833" stop-color="#88cb53"/><stop offset="0.0877" stop-color="#8ecb4e"/><stop offset="0.0921" stop-color="#86cb54"/><stop offset="0.0965" stop-color="#85cb55"/><stop offset="0.1009" stop-color="#87cb54"/><stop offset="0.1053" stop-color="#86cb55"/><stop offset="0.1096" stop-color="#84cc56"/><stop offset="0.1140" stop-color="#7acc5e"/><stop offset="0.1184" stop-color="#80cc59"/><stop offset="0.1228" stop-color="#78cc5f"/><stop offset="0.1272" stop-color="#76cc61"/><stop offset="0.1316" stop-color="#75cc61"/><stop offset="0.1360" stop-color="#77cc60"/><stop offset="0.1404" stop-color="#76cc61"/><stop offset="0.1447" stop-color="#6dcd68"/><stop offset="0.1491" stop-color="#6fcd66"/><stop offset="0.1535" stop-color="#77cc60"/><stop offset="0.1579" stop-color="#76cc60"/><stop offset="0.1623" stop-color="#78cc5f"/><stop offset="0.1667" stop-color="#78cc5f"/><stop offset="0.1711" stop-color="#77cc60"/><stop offset="0.1754" stop-color="#6fcd66"/><stop offset="0.1798" stop-color="#75cc61"/><stop offset="0.1842" stop-color="#79cc5f"/><stop offset="0.1886" stop-color="#78cc5f"/><stop offset="0.1930" stop-color="#75cc61"/><stop offset="0.1974" stop-color="#66cd6d"/><stop offset="0.2018" stop-color="#65cd6e"/><stop offset="0.2061" stop-color="#63cd70"/><stop offset="0.2105" stop-color="#6dcd67"/><stop offset="0.2149" stop-color="#71cd64"/><stop offset="0.2193" stop-color="#70cd65"/><stop offset="0.2237" stop-color="#69cd6b"/><stop offset="0.2281" stop-color="#6dcd68"/><stop offset="0.2325" stop-color="#6ccd68"/><stop offset="0.2368" stop-color="#67cd6c"/><stop offset="0.2412" stop-color="#67cd6d"/><stop offset="0.2456" stop-color="#66cd6d"/><stop offset="0.2500" stop-color="#65cd6e"/><stop offset="0.2544" stop-color="#64cd6e"/><stop offset="0.2588" stop-color="#61cd71"/><stop offset="0.2632" stop-color="#61cd72"/><stop offset="0.2675" stop-color="#6ccd68"/><stop offset="0.2719" stop-color="#67cd6d"/><stop offset="0.2763" stop-color="#5fcd73"/><stop offset="0.2807" stop-color="#5ecd74"/><stop offset="0.2851" stop-color="#5fcd73"/><stop offset="0.2895" stop-color="#5bcc76"/><stop offset="0.2939" stop-color="#5bcc77"/><stop offset="0.2982" stop-color="#62cd71"/><stop offset="0.3026" stop-color="#58cc79"/><stop offset="0.3070" stop-color="#5dcc75"/><stop offset="0.3114" stop-color="#5dcc75"/><stop offset="0.3158" stop-color="#62cd71"/><stop offset="0.3202" stop-color="#60cd72"/><stop offset="0.3246" stop-color="#60cd72"/><stop offset="0.3289" stop-color="#60cd73"/><stop offset="0.3333" stop-color="#57cc7a"/><stop offset="0.3377" stop-color="#60cd72"/><stop offset="0.3421" stop-color="#5fcd73"/><stop offset="0.3465" stop-color="#5bcc77"/><stop offset="0.3509" stop-color="#61cd71"/><stop offset="0.3553" stop-color="#61cd71"/><stop offset="0.3596" stop-color="#59cc78"/><stop offset="0.3640" stop-color="#62cd71"/><stop offset="0.3684" stop-color="#5bcc76"/><stop offset="0.3728" stop-color="#5bcc77"/><stop offset="0.3772" stop-color="#5ccc75"/><stop offset="0.3816" stop-color="#56cc7b"/><stop offset="0.3860" stop-color="#56cc7b"/><stop offset="0.3904" stop-color="#55cc7b"/><stop offset="0.3947" stop-color="#55cc7b"/><stop offset="0.3991" stop-color="#5ccc76"/><stop offset="0.4035" stop-color="#5bcc76"/><stop offset="0.4079" stop-color="#54cc7d"/><stop offset="0.4123" stop-color="#55cc7c"/><stop offset="0.4167" stop-color="#55cc7c"/><stop offset="0.4211" stop-color="#5acc77"/><stop offset="0.4254" stop-color="#57cc7a"/><stop offset="0.4298" stop-color="#53cc7d"/><stop offset="0.4342" stop-color="#52cc7e"/><stop offset="0.4386" stop-color="#55cc7c"/><stop offset="0.4430" stop-color="#4ccb83"/><stop offset="0.4474" stop-color="#4ccb83"/><stop offset="0.4518" stop-color="#4bcb84"/><stop offset="0.4561" stop-color="#54cc7d"/><stop offset="0.4605" stop-color="#5fcd73"/><stop offset="0.4649" stop-color="#5ecd74"/><stop offset="0.4693" stop-color="#5acc77"/><stop offset="0.4737" stop-color="#5ccc75"/><stop offset="0.4781" stop-color="#5ccc76"/><stop offset="0.4825" stop-color="#52cc7e"/><stop offset="0.4868" stop-color="#4ccb82"/><stop offset="0.4912" stop-color="#54cc7d"/><stop offset="0.4956" stop-color="#53cc7d"/><stop offset="0.5000" stop-color="#48cb86"/><stop offset="0.5044" stop-color="#41ca8c"/><stop offset="0.5088" stop-color="#41ca8c"/><stop offset="0.5132" stop-color="#4fcc81"/><stop offset="0.5175" stop-color="#51cc7f"/><stop offset="0.5219" stop-color="#4fcc80"/><stop offset="0.5263" stop-color="#4fcc80"/><stop offset="0.5307" stop-color="#53cc7d"/><stop offset="0.5351" stop-color="#4fcc80"/><stop offset="0.5395" stop-color="#4fcc81"/><stop offset="0.5439" stop-color="#4dcb82"/><stop offset="0.5482" stop-color="#46cb88"/><stop offset="0.5526" stop-color="#4acb84"/><stop offset="0.5570" stop-color="#4acb84"/><stop offset="0.5614" stop-color="#45cb88"/><stop offset="0.5658" stop-color="#49cb86"/><stop offset="0.5702" stop-color="#49cb86"/><stop offset="0.5746" stop-color="#53cc7d"/><stop offset="0.5789" stop-color="#4bcb84"/><stop offset="0.5833" stop-color="#4bcb83"/><stop offset="0.5877" stop-color="#4bcb83"/><stop offset="0.5921" stop-color="#47cb87"/><stop offset="0.5965" stop-color="#56cc7b"/><stop offset="0.6009" stop-color="#56cc7b"/><stop offset="0.6053" stop-color="#41ca8c"/><stop offset="0.6096" stop-color="#45cb89"/><stop offset="0.6140" stop-color="#4dcc82"/><stop offset="0.6184" stop-color="#4dcc82"/><stop offset="0.6228" stop-color="#45cb88"/><stop offset="0.6272" stop-color="#45cb89"/><stop offset="0.6316" stop-color="#45cb89"/><stop offset="0.6360" stop-color="#4acb84"/><stop offset="0.6404" stop-color="#4bcb83"/><stop offset="0.6447" stop-color="#4bcb84"/><stop offset="0.6491" stop-color="#4bcb84"/><stop offset="0.6535" stop-color="#44cb8a"/><stop offset="0.6579" stop-color="#4bcb84"/><stop offset="0.6623" stop-color="#4bcb84"/><stop offset="0.6667" stop-color="#42ca8b"/><stop offset="0.6711" stop-color="#43ca8a"/><stop offset="0.6754" stop-color="#43ca8b"/><stop offset="0.6798" stop-color="#43ca8b"/><stop offset="0.6842" stop-color="#48cb86"/><stop offset="0.6886" stop-color="#45cb89"/><stop offset="0.6930" stop-color="#45cb89"/><stop offset="0.6974" stop-color="#42ca8b"/><stop offset="0.7018" stop-color="#46cb88"/><stop offset="0.7061" stop-color="#42ca8c"/><stop offset="0.7105" stop-color="#42ca8c"/><stop offset="0.7149" stop-color="#44cb8a"/><stop offset="0.7193" stop-color="#44cb89"/><stop offset="0.7237" stop-color="#44cb89"/><stop offset="0.7281" stop-color="#43ca8a"/><stop offset="0.7325" stop-color="#41ca8c"/><stop offset="0.7368" stop-color="#40ca8d"/><stop offset="0.7412" stop-color="#40ca8d"/><stop offset="0.7456" stop-color="#4acb85"/><stop offset="0.7500" stop-color="#3dc990"/><stop offset="0.7544" stop-color="#3dc990"/><stop offset="0.7588" stop-color="#46cb88"/><stop offset="0.7632" stop-color="#41ca8c"/><stop offset="0.7675" stop-color="#41ca8c"/><stop offset="0.7719" stop-color="#41ca8c"/><stop offset="0.7763" stop-color="#3dc990"/><stop offset="0.7807" stop-color="#44cb8a"/><stop offset="0.7851" stop-color="#44ca8a"/><stop offset="0.7895" stop-color="#41ca8c"/><stop offset="0.7939" stop-color="#48cb86"/><stop offset="0.7982" stop-color="#41ca8c"/><stop offset="0.8026" stop-color="#41ca8c"/><stop offset="0.8070" stop-color="#3fca8e"/><stop offset="0.8114" stop-color="#3eca8f"/><stop offset="0.8158" stop-color="#3eca8f"/><stop offset="0.8202" stop-color="#47cb87"/><stop offset="0.8246" stop-color="#45cb89"/><stop offset="0.8289" stop-color="#41ca8c"/><stop offset="0.8333" stop-color="#41ca8c"/><stop offset="0.8377" stop-color="#49cb85"/><stop offset="0.8421" stop-color="#43ca8a"/><stop offset="0.8465" stop-color="#43ca8a"/><stop offset="0.8509" stop-color="#41ca8d"/><stop offset="0.8553" stop-color="#44cb8a"/><stop offset="0.8596" stop-color="#3eca90"/><stop offset="0.8640" stop-color="#3dca90"/><stop offset="0.8684" stop-color="#42ca8c"/><stop offset="0.8728" stop-color="#3dc990"/><stop offset="0.8772" stop-color="#3dc990"/><stop offset="0.8816" stop-color="#43ca8a"/><stop offset="0.8860" stop-color="#43ca8a"/><stop offset="0.8904" stop-color="#40ca8d"/><stop offset="0.8947" stop-color="#40ca8d"/><stop offset="0.8991" stop-color="#45cb89"/><stop offset="0.9035" stop-color="#3eca8f"/><stop offset="0.9079" stop-color="#3eca8f"/><stop offset="0.9123" stop-color="#42ca8b"/><stop offset="0.9167" stop-color="#3fca8e"/><stop offset="0.9211" stop-color="#3cc991"/><stop offset="0.9254" stop-color="#3cc991"/><stop offset="0.9298" stop-color="#42ca8b"/><stop offset="0.9342" stop-color="#46cb87"/><stop offset="0.9386" stop-color="#46cb88"/><stop offset="0.9430" stop-color="#4ccb82"/><stop offset="0.9474" stop-color="#3fca8e"/><stop offset="0.9518" stop-color="#41ca8c"/><stop offset="0.9561" stop-color="#41ca8c"/><stop offset="0.9605" stop-color="#46cb88"/><stop offset="0.9649" stop-color="#3bc992"/><stop offset="0.9693" stop-color="#3bc992"/><stop offset="0.9737" stop-color="#45cb89"/><stop offset="0.9781" stop-color="#39c994"/><stop offset="0.9825" stop-color="#3bc993"/><stop offset="0.9868" stop-color="#3bc993"/><stop offset="0.9912" stop-color="#3dca90"/><stop offset="0.9956" stop-color="#3dc990"/><stop offset="1.0000" stop-color="#3dc991"/></linearGradient><linearGradient id="g7" x1="0" y1="0" x2="1" y2="0"><stop offset="0.0000" stop-color="#f0ba36"/><stop offset="0.0070" stop-color="#ecba33"/><stop offset="0.0140" stop-color="#debd29"/><stop offset="0.0211" stop-color="#b6c532"/><stop offset="0.0281" stop-color="#bbc430"/><stop offset="0.0351" stop-color="#a9c73a"/><stop offset="0.0421" stop-color="#acc738"/><stop offset="0.0491" stop-color="#b0c636"/><stop offset="0.0561" stop-color="#a8c73b"/><stop offset="0.0632" stop-color="#a2c83f"/><stop offset="0.0702" stop-color="#aac73a"/><stop offset="0.0772" stop-color="#a9c73b"/><stop offset="0.0842" stop-color="#9ac945"/><stop offset="0.0912" stop-color="#9fc941"/><stop offset="0.0982" stop-color="#9ac945"/><stop offset="0.1053" stop-color="#98ca47"/><stop offset="0.1123" stop-color="#8dcb4f"/><stop offset="0.1193" stop-color="#92ca4c"/><stop offset="0.1263" stop-color="#89cb52"/><stop offset="0.1333" stop-color="#87cb54"/><stop offset="0.1404" stop-color="#89cb53"/><stop offset="0.1474" stop-color="#82cc58"/><stop offset="0.1544" stop-color="#8acb52"/><stop offset="0.1614" stop-color="#8bcb51"/><stop offset="0.1684" stop-color="#8acb51"/><stop offset="0.1754" stop-color="#82cc58"/><stop offset="0.1825" stop-color="#87cb54"/><stop offset="0.1895" stop-color="#8acb51"/><stop offset="0.1965" stop-color="#78cc5f"/><stop offset="0.2035" stop-color="#75cc61"/><stop offset="0.2105" stop-color="#80cc59"/><stop offset="0.2175" stop-color="#83cc57"/><stop offset="0.2246" stop-color="#7bcc5d"/><stop offset="0.2316" stop-color="#7fcc5a"/><stop offset="0.2386" stop-color="#79cc5e"/><stop offset="0.2456" stop-color="#78cc5f"/><stop offset="0.2526" stop-color="#77cc60"/><stop offset="0.2596" stop-color="#72cd63"/><stop offset="0.2667" stop-color="#7ecc5a"/><stop offset="0.2737" stop-color="#78cc5f"/><stop offset="0.2807" stop-color="#6fcd65"/><stop offset="0.2877" stop-color="#70cd65"/><stop offset="0.2947" stop-color="#74cd62"/><stop offset="0.3018" stop-color="#69cd6b"/><stop offset="0.3088" stop-color="#6ecd67"/><stop offset="0.3158" stop-color="#73cd63"/><stop offset="0.3228" stop-color="#71cd64"/><stop offset="0.3298" stop-color="#71cd64"/><stop offset="0.3368" stop-color="#67cd6c"/><stop offset="0.3439" stop-color="#6ccd69"/><stop offset="0.3509" stop-color="#73cd63"/><stop offset="0.3579" stop-color="#6acd6a"/><stop offset="0.3649" stop-color="#73cd62"/><stop offset="0.3719" stop-color="#6ccd68"/><stop offset="0.3789" stop-color="#6dcd67"/><stop offset="0.3860" stop-color="#66cd6d"/><stop offset="0.3930" stop-color="#66cd6d"/><stop offset="0.4000" stop-color="#6ccd68"/><stop offset="0.4070" stop-color="#64cd6f"/><stop offset="0.4140" stop-color="#65cd6e"/><stop offset="0.4211" stop-color="#6bcd69"/><stop offset="0.4281" stop-color="#67cd6c"/><stop offset="0.4351" stop-color="#62cd70"/><stop offset="0.4421" stop-color="#5ccc75"/><stop offset="0.4491" stop-color="#5bcc76"/><stop offset="0.4561" stop-color="#64cd6f"/><stop offset="0.4632" stop-color="#70cd65"/><stop offset="0.4702" stop-color="#6bcd69"/><stop offset="0.4772" stop-color="#6dcd67"/><stop offset="0.4842" stop-color="#62cd70"/><stop offset="0.4912" stop-color="#64cd6f"/><stop offset="0.4982" stop-color="#58cc79"/><stop offset="0.5053" stop-color="#50cc80"/><stop offset="0.5123" stop-color="#5fcd73"/><stop offset="0.5193" stop-color="#61cd71"/><stop offset="0.5263" stop-color="#5fcd73"/><stop offset="0.5333" stop-color="#63cd70"/><stop offset="0.5404" stop-color="#5dcc75"/><stop offset="0.5474" stop-color="#56cc7b"/><stop offset="0.5544" stop-color="#5acc77"/><stop offset="0.5614" stop-color="#55cc7c"/><stop offset="0.5684" stop-color="#58cc79"/><stop offset="0.5754" stop-color="#63cd6f"/><stop offset="0.5825" stop-color="#5bcc77"/><stop offset="0.5895" stop-color="#56cc7b"/><stop offset="0.5965" stop-color="#66cd6d"/><stop offset="0.6035" stop-color="#4fcc80"/><stop offset="0.6105" stop-color="#54cc7c"/><stop offset="0.6175" stop-color="#5dcc75"/><stop offset="0.6246" stop-color="#55cc7c"/><stop offset="0.6316" stop-color="#54cc7c"/><stop offset="0.6386" stop-color="#5bcc76"/><stop offset="0.6456" stop-color="#5bcc77"/><stop offset="0.6526" stop-color="#53cc7d"/><stop offset="0.6596" stop-color="#5bcc77"/><stop offset="0.6667" stop-color="#51cc7f"/><stop offset="0.6737" stop-color="#52cc7e"/><stop offset="0.6807" stop-color="#52cc7e"/><stop offset="0.6877" stop-color="#54cc7c"/><stop offset="0.6947" stop-color="#51cc7f"/><stop offset="0.7018" stop-color="#56cc7b"/><stop offset="0.7088" stop-color="#51cc7f"/><stop offset="0.7158" stop-color="#53cc7d"/><stop offset="0.7228" stop-color="#53cc7d"/><stop offset="0.7298" stop-color="#52cc7e"/><stop offset="0.7368" stop-color="#4ecc81"/><stop offset="0.7439" stop-color="#5acc78"/><stop offset="0.7509" stop-color="#4acb84"/><stop offset="0.7579" stop-color="#55cc7b"/><stop offset="0.7649" stop-color="#50cc80"/><stop offset="0.7719" stop-color="#50cc80"/><stop offset="0.7789" stop-color="#4acb84"/><stop offset="0.7860" stop-color="#50cc7f"/><stop offset="0.7930" stop-color="#58cc79"/><stop offset="0.8000" stop-color="#50cc80"/><stop offset="0.8070" stop-color="#4dcc82"/><stop offset="0.8140" stop-color="#4ccb83"/><stop offset="0.8211" stop-color="#56cc7b"/><stop offset="0.8281" stop-color="#54cc7c"/><stop offset="0.8351" stop-color="#59cc78"/><stop offset="0.8421" stop-color="#52cc7e"/><stop offset="0.8491" stop-color="#4fcc80"/><stop offset="0.8561" stop-color="#53cc7d"/><stop offset="0.8632" stop-color="#4bcb84"/><stop offset="0.8702" stop-color="#50cc7f"/><stop offset="0.8772" stop-color="#4acb84"/><stop offset="0.8842" stop-color="#53cc7e"/><stop offset="0.8912" stop-color="#4fcc81"/><stop offset="0.8982" stop-color="#54cc7c"/><stop offset="0.9053" stop-color="#4bcb83"/><stop offset="0.9123" stop-color="#51cc7f"/><stop offset="0.9193" stop-color="#4ecc81"/><stop offset="0.9263" stop-color="#49cb86"/><stop offset="0.9333" stop-color="#56cc7b"/><stop offset="0.9404" stop-color="#5dcc75"/><stop offset="0.9474" stop-color="#4ecc81"/><stop offset="0.9544" stop-color="#4fcc80"/><stop offset="0.9614" stop-color="#55cc7c"/><stop offset="0.9684" stop-color="#48cb86"/><stop offset="0.9754" stop-color="#54cc7d"/><stop offset="0.9825" stop-color="#47cb87"/><stop offset="0.9895" stop-color="#4bcb84"/><stop offset="0.9965" stop-color="#4acb84"/><stop offset="1.0000" stop-color="#4acb85"/></linearGradient><linearGradient id="g8" x1="0" y1="0" x2="1" y2="0"><stop offset="0.0000" stop-color="#f0ba36"/><stop offset="0.0070" stop-color="#ecba33"/><stop offset="0.0140" stop-color="#debd29"/><stop offset="0.0211" stop-color="#b8c431"/><stop offset="0.0281" stop-color="#bdc32f"/><stop offset="0.0351" stop-color="#acc739"/><stop offset="0.0421" stop-color="#aec637"/><stop offset="0.0491" stop-color="#b2c635"/><stop offset="0.0561" stop-color="#aac73a"/><stop offset="0.0632" stop-color="#a4c83e"/><stop offset="0.0702" stop-color="#acc738"/><stop offset="0.0772" stop-color="#abc739"/><stop offset="0.0842" stop-color="#9cc943"/><stop offset="0.0912" stop-color="#a1c840"/><stop offset="0.0982" stop-color="#9cc944"/><stop offset="0.1053" stop-color="#9ac945"/><stop offset="0.1123" stop-color="#8fcb4e"/><stop offset="0.1193" stop-color="#94ca4a"/><stop offset="0.1263" stop-color="#8bcb51"/><stop offset="0.1333" stop-color="#89cb52"/><stop offset="0.1404" stop-color="#8bcb51"/><stop offset="0.1474" stop-color="#84cc56"/><stop offset="0.1544" stop-color="#8ccb50"/><stop offset="0.1614" stop-color="#8dcb4f"/><stop offset="0.1684" stop-color="#8dcb50"/><stop offset="0.1754" stop-color="#84cc56"/><stop offset="0.1825" stop-color="#89cb52"/><stop offset="0.1895" stop-color="#8ccb50"/><stop offset="0.1965" stop-color="#7bcc5d"/><stop offset="0.2035" stop-color="#77cc60"/><stop offset="0.2105" stop-color="#82cc58"/><stop offset="0.2175" stop-color="#85cb55"/><stop offset="0.2246" stop-color="#7dcc5c"/><stop offset="0.2316" stop-color="#81cc59"/><stop offset="0.2386" stop-color="#7ccc5c"/><stop offset="0.2456" stop-color="#7acc5d"/><stop offset="0.2526" stop-color="#79cc5e"/><stop offset="0.2596" stop-color="#74cc62"/><stop offset="0.2667" stop-color="#81cc59"/><stop offset="0.2737" stop-color="#7bcc5d"/><stop offset="0.2807" stop-color="#72cd64"/><stop offset="0.2877" stop-color="#72cd63"/><stop offset="0.2947" stop-color="#76cc60"/><stop offset="0.3018" stop-color="#6bcd69"/><stop offset="0.3088" stop-color="#70cd65"/><stop offset="0.3158" stop-color="#75cc61"/><stop offset="0.3228" stop-color="#74cd62"/><stop offset="0.3298" stop-color="#73cd63"/><stop offset="0.3368" stop-color="#69cd6b"/><stop offset="0.3439" stop-color="#6ecd67"/><stop offset="0.3509" stop-color="#75cc61"/><stop offset="0.3579" stop-color="#6ccd69"/><stop offset="0.3649" stop-color="#76cc61"/><stop offset="0.3719" stop-color="#6ecd67"/><stop offset="0.3789" stop-color="#6fcd66"/><stop offset="0.3860" stop-color="#68cd6b"/><stop offset="0.3930" stop-color="#68cd6c"/><stop offset="0.4000" stop-color="#6ecd66"/><stop offset="0.4070" stop-color="#66cd6d"/><stop offset="0.4140" stop-color="#67cd6c"/><stop offset="0.4211" stop-color="#6dcd67"/><stop offset="0.4281" stop-color="#69cd6b"/><stop offset="0.4351" stop-color="#64cd6e"/><stop offset="0.4421" stop-color="#5ecd74"/><stop offset="0.4491" stop-color="#5dcc75"/><stop offset="0.4561" stop-color="#66cd6d"/><stop offset="0.4632" stop-color="#72cd64"/><stop offset="0.4702" stop-color="#6dcd67"/><stop offset="0.4772" stop-color="#6fcd66"/><stop offset="0.4842" stop-color="#64cd6f"/><stop offset="0.4912" stop-color="#66cd6d"/><stop offset="0.4982" stop-color="#5acc77"/><stop offset="0.5053" stop-color="#52cc7e"/><stop offset="0.5123" stop-color="#61cd71"/><stop offset="0.5193" stop-color="#63cd6f"/><stop offset="0.5263" stop-color="#61cd71"/><stop offset="0.5333" stop-color="#65cd6e"/><stop offset="0.5404" stop-color="#5fcd73"/><stop offset="0.5474" stop-color="#58cc79"/><stop offset="0.5544" stop-color="#5ccc76"/><stop offset="0.5614" stop-color="#57cc7a"/><stop offset="0.5684" stop-color="#5acc77"/><stop offset="0.5754" stop-color="#65cd6e"/><stop offset="0.5825" stop-color="#5dcc75"/><stop offset="0.5895" stop-color="#58cc79"/><stop offset="0.5965" stop-color="#68cd6b"/><stop offset="0.6035" stop-color="#51cc7e"/><stop offset="0.6105" stop-color="#56cc7b"/><stop offset="0.6175" stop-color="#5fcd73"/><stop offset="0.6246" stop-color="#57cc7a"/><stop offset="0.6316" stop-color="#56cc7b"/><stop offset="0.6386" stop-color="#5dcc74"/><stop offset="0.6456" stop-color="#5dcc75"/><stop offset="0.6526" stop-color="#55cc7b"/><stop offset="0.6596" stop-color="#5dcc75"/><stop offset="0.6667" stop-color="#53cc7d"/><stop offset="0.6737" stop-color="#54cc7c"/><stop offset="0.6807" stop-color="#54cc7d"/><stop offset="0.6877" stop-color="#56cc7a"/><stop offset="0.6947" stop-color="#53cc7d"/><stop offset="0.7018" stop-color="#58cc79"/><stop offset="0.7088" stop-color="#52cc7e"/><stop offset="0.7158" stop-color="#55cc7c"/><stop offset="0.7228" stop-color="#55cc7b"/><stop offset="0.7298" stop-color="#54cc7c"/><stop offset="0.7368" stop-color="#50cc7f"/><stop offset="0.7439" stop-color="#5ccc76"/><stop offset="0.7509" stop-color="#4ccb83"/><stop offset="0.7579" stop-color="#57cc7a"/><stop offset="0.7649" stop-color="#52cc7e"/><stop offset="0.7719" stop-color="#52cc7e"/><stop offset="0.7789" stop-color="#4ccb82"/><stop offset="0.7860" stop-color="#52cc7e"/><stop offset="0.7930" stop-color="#5acc78"/><stop offset="0.8000" stop-color="#52cc7e"/><stop offset="0.8070" stop-color="#4fcc81"/><stop offset="0.8140" stop-color="#4ecc81"/><stop offset="0.8211" stop-color="#58cc79"/><stop offset="0.8281" stop-color="#56cc7b"/><stop offset="0.8351" stop-color="#5bcc76"/><stop offset="0.8421" stop-color="#54cc7c"/><stop offset="0.8491" stop-color="#51cc7f"/><stop offset="0.8561" stop-color="#55cc7c"/><stop offset="0.8632" stop-color="#4dcc82"/><stop offset="0.8702" stop-color="#52cc7e"/><stop offset="0.8772" stop-color="#4ccb83"/><stop offset="0.8842" stop-color="#54cc7c"/><stop offset="0.8912" stop-color="#51cc7f"/><stop offset="0.8982" stop-color="#56cc7b"/><stop offset="0.9053" stop-color="#4dcc82"/><stop offset="0.9123" stop-color="#53cc7d"/><stop offset="0.9193" stop-color="#50cc80"/><stop offset="0.9263" stop-color="#4acb84"/><stop offset="0.9333" stop-color="#58cc79"/><stop offset="0.9404" stop-color="#5ecd74"/><stop offset="0.9474" stop-color="#50cc80"/><stop offset="0.9544" stop-color="#51cc7f"/><stop offset="0.9614" stop-color="#57cc7a"/><stop offset="0.9684" stop-color="#4acb85"/><stop offset="0.9754" stop-color="#56cc7b"/><stop offset="0.9825" stop-color="#49cb85"/><stop offset="0.9895" stop-color="#4dcb82"/><stop offset="0.9965" stop-color="#4ccb83"/><stop offset="1.0000" stop-color="#4ccb83"/></linearGradient><linearGradient id="g9" x1="0" y1="0" x2="1" y2="0"><stop offset="0.0000" stop-color="#f0ba36"/><stop offset="0.0070" stop-color="#ecba33"/><stop offset="0.0140" stop-color="#debd29"/><stop offset="0.0211" stop-color="#bac430"/><stop offset="0.0281" stop-color="#bfc32e"/><stop offset="0.0351" stop-color="#aec637"/><stop offset="0.0421" stop-color="#b0c636"/><stop offset="0.0491" stop-color="#b4c534"/><stop offset="0.0561" stop-color="#acc739"/><stop offset="0.0632" stop-color="#a6c83c"/><stop offset="0.0702" stop-color="#aec637"/><stop offset="0.0772" stop-color="#adc638"/><stop offset="0.0842" stop-color="#9ec942"/><stop offset="0.0912" stop-color="#a3c83e"/><stop offset="0.0982" stop-color="#9ec942"/><stop offset="0.1053" stop-color="#9cc944"/><stop offset="0.1123" stop-color="#91ca4c"/><stop offset="0.1193" stop-color="#96ca48"/><stop offset="0.1263" stop-color="#8dcb4f"/><stop offset="0.1333" stop-color="#8bcb50"/><stop offset="0.1404" stop-color="#8dcb4f"/><stop offset="0.1474" stop-color="#86cb55"/><stop offset="0.1544" stop-color="#8ecb4e"/><stop offset="0.1614" stop-color="#8fcb4e"/><stop offset="0.1684" stop-color="#8fcb4e"/><stop offset="0.1754" stop-color="#86cb54"/><stop offset="0.1825" stop-color="#8bcb51"/><stop offset="0.1895" stop-color="#8fcb4e"/><stop offset="0.1965" stop-color="#7dcc5b"/><stop offset="0.2035" stop-color="#7acc5e"/><stop offset="0.2105" stop-color="#84cc56"/><stop offset="0.2175" stop-color="#87cb54"/><stop offset="0.2246" stop-color="#7fcc5a"/><stop offset="0.2316" stop-color="#83cc57"/><stop offset="0.2386" stop-color="#7ecc5b"/><stop offset="0.2456" stop-color="#7dcc5c"/><stop offset="0.2526" stop-color="#7bcc5d"/><stop offset="0.2596" stop-color="#77cc60"/><stop offset="0.2667" stop-color="#83cc57"/><stop offset="0.2737" stop-color="#7dcc5b"/><stop offset="0.2807" stop-color="#74cc62"/><stop offset="0.2877" stop-color="#75cc61"/><stop offset="0.2947" stop-color="#78cc5f"/><stop offset="0.3018" stop-color="#6dcd67"/><stop offset="0.3088" stop-color="#72cd63"/><stop offset="0.3158" stop-color="#78cc5f"/><stop offset="0.3228" stop-color="#76cc61"/><stop offset="0.3298" stop-color="#75cc61"/><stop offset="0.3368" stop-color="#6bcd69"/><stop offset="0.3439" stop-color="#70cd65"/><stop offset="0.3509" stop-color="#77cc60"/><stop offset="0.3579" stop-color="#6ecd67"/><stop offset="0.3649" stop-color="#78cc5f"/><stop offset="0.3719" stop-color="#70cd65"/><stop offset="0.3789" stop-color="#71cd64"/><stop offset="0.3860" stop-color="#6bcd69"/><stop offset="0.3930" stop-color="#6acd6a"/><stop offset="0.4000" stop-color="#71cd65"/><stop offset="0.4070" stop-color="#68cd6b"/><stop offset="0.4140" stop-color="#69cd6a"/><stop offset="0.4211" stop-color="#6fcd66"/><stop offset="0.4281" stop-color="#6bcd69"/><stop offset="0.4351" stop-color="#67cd6d"/><stop offset="0.4421" stop-color="#60cd72"/><stop offset="0.4491" stop-color="#5fcd73"/><stop offset="0.4561" stop-color="#68cd6b"/><stop offset="0.4632" stop-color="#74cc62"/><stop offset="0.4702" stop-color="#6fcd66"/><stop offset="0.4772" stop-color="#71cd64"/><stop offset="0.4842" stop-color="#66cd6d"/><stop offset="0.4912" stop-color="#68cd6b"/><stop offset="0.4982" stop-color="#5ccc75"/><stop offset="0.5053" stop-color="#54cc7d"/><stop offset="0.5123" stop-color="#63cd70"/><stop offset="0.5193" stop-color="#65cd6e"/><stop offset="0.5263" stop-color="#63cd70"/><stop offset="0.5333" stop-color="#67cd6c"/><stop offset="0.5404" stop-color="#61cd72"/><stop offset="0.5474" stop-color="#5acc78"/><stop offset="0.5544" stop-color="#5ecd74"/><stop offset="0.5614" stop-color="#59cc79"/><stop offset="0.5684" stop-color="#5ccc75"/><stop offset="0.5754" stop-color="#67cd6c"/><stop offset="0.5825" stop-color="#5fcd73"/><stop offset="0.5895" stop-color="#5acc77"/><stop offset="0.5965" stop-color="#6acd6a"/><stop offset="0.6035" stop-color="#53cc7d"/><stop offset="0.6105" stop-color="#58cc79"/><stop offset="0.6175" stop-color="#61cd71"/><stop offset="0.6246" stop-color="#59cc79"/><stop offset="0.6316" stop-color="#58cc79"/><stop offset="0.6386" stop-color="#5fcd73"/><stop offset="0.6456" stop-color="#5fcd73"/><stop offset="0.6526" stop-color="#57cc7a"/><stop offset="0.6596" stop-color="#5fcd73"/><stop offset="0.6667" stop-color="#55cc7c"/><stop offset="0.6737" stop-color="#56cc7b"/><stop offset="0.6807" stop-color="#55cc7b"/><stop offset="0.6877" stop-color="#58cc79"/><stop offset="0.6947" stop-color="#55cc7b"/><stop offset="0.7018" stop-color="#5acc78"/><stop offset="0.7088" stop-color="#54cc7c"/><stop offset="0.7158" stop-color="#57cc7a"/><stop offset="0.7228" stop-color="#57cc7a"/><stop offset="0.7298" stop-color="#56cc7b"/><stop offset="0.7368" stop-color="#52cc7e"/><stop offset="0.7439" stop-color="#5dcc74"/><stop offset="0.7509" stop-color="#4ecc81"/><stop offset="0.7579" stop-color="#59cc78"/><stop offset="0.7649" stop-color="#54cc7d"/><stop offset="0.7719" stop-color="#54cc7d"/><stop offset="0.7789" stop-color="#4ecc81"/><stop offset="0.7860" stop-color="#54cc7c"/><stop offset="0.7930" stop-color="#5ccc76"/><stop offset="0.8000" stop-color="#53cc7d"/><stop offset="0.8070" stop-color="#51cc7f"/><stop offset="0.8140" stop-color="#50cc80"/><stop offset="0.8211" stop-color="#5acc77"/><stop offset="0.8281" stop-color="#58cc79"/><stop offset="0.8351" stop-color="#5dcc75"/><stop offset="0.8421" stop-color="#56cc7b"/><stop offset="0.8491" stop-color="#53cc7d"/><stop offset="0.8561" stop-color="#57cc7a"/><stop offset="0.8632" stop-color="#4fcc81"/><stop offset="0.8702" stop-color="#54cc7c"/><stop offset="0.8772" stop-color="#4ecc81"/><stop offset="0.8842" stop-color="#56cc7a"/><stop offset="0.8912" stop-color="#53cc7e"/><stop offset="0.8982" stop-color="#58cc79"/><stop offset="0.9053" stop-color="#4fcc80"/><stop offset="0.9123" stop-color="#55cc7c"/><stop offset="0.9193" stop-color="#52cc7e"/><stop offset="0.9263" stop-color="#4ccb82"/><stop offset="0.9333" stop-color="#5acc77"/><stop offset="0.9404" stop-color="#60cd72"/><stop offset="0.9474" stop-color="#52cc7e"/><stop offset="0.9544" stop-color="#53cc7d"/><stop offset="0.9614" stop-color="#59cc78"/><stop offset="0.9684" stop-color="#4bcb83"/><stop offset="0.9754" stop-color="#58cc79"/><stop offset="0.9825" stop-color="#4acb84"/><stop offset="0.9895" stop-color="#4fcc81"/><stop offset="0.9965" stop-color="#4ecc81"/><stop offset="1.0000" stop-color="#4ecc82"/></linearGradient><linearGradient id="g10" x1="0" y1="0" x2="1" y2="0"><stop offset="0.0000" stop-color="#f0ba36"/><stop offset="0.0070" stop-color="#ecba33"/><stop offset="0.0140" stop-color="#debd29"/><stop offset="0.0211" stop-color="#bcc42f"/><stop offset="0.0281" stop-color="#c1c32d"/><stop offset="0.0351" stop-color="#b0c636"/><stop offset="0.0421" stop-color="#b2c535"/><stop offset="0.0491" stop-color="#b6c532"/><stop offset="0.0561" stop-color="#aec637"/><stop offset="0.0632" stop-color="#a8c73b"/><stop offset="0.0702" stop-color="#b0c636"/><stop offset="0.0772" stop-color="#afc637"/><stop offset="0.0842" stop-color="#a1c840"/><stop offset="0.0912" stop-color="#a5c83d"/><stop offset="0.0982" stop-color="#a0c841"/><stop offset="0.1053" stop-color="#9ec942"/><stop offset="0.1123" stop-color="#93ca4a"/><stop offset="0.1193" stop-color="#98c947"/><stop offset="0.1263" stop-color="#90ca4d"/><stop offset="0.1333" stop-color="#8ecb4f"/><stop offset="0.1404" stop-color="#8fcb4e"/><stop offset="0.1474" stop-color="#88cb53"/><stop offset="0.1544" stop-color="#90ca4d"/><stop offset="0.1614" stop-color="#91ca4c"/><stop offset="0.1684" stop-color="#91ca4c"/><stop offset="0.1754" stop-color="#88cb53"/><stop offset="0.1825" stop-color="#8dcb4f"/><stop offset="0.1895" stop-color="#91ca4c"/><stop offset="0.1965" stop-color="#7fcc5a"/><stop offset="0.2035" stop-color="#7ccc5c"/><stop offset="0.2105" stop-color="#86cb54"/><stop offset="0.2175" stop-color="#8acb52"/><stop offset="0.2246" stop-color="#81cc58"/><stop offset="0.2316" stop-color="#85cb55"/><stop offset="0.2386" stop-color="#80cc59"/><stop offset="0.2456" stop-color="#7fcc5a"/><stop offset="0.2526" stop-color="#7dcc5b"/><stop offset="0.2596" stop-color="#79cc5e"/><stop offset="0.2667" stop-color="#85cb55"/><stop offset="0.2737" stop-color="#7fcc5a"/><stop offset="0.2807" stop-color="#76cc60"/><stop offset="0.2877" stop-color="#77cc60"/><stop offset="0.2947" stop-color="#7bcc5d"/><stop offset="0.3018" stop-color="#6fcd66"/><stop offset="0.3088" stop-color="#74cc62"/><stop offset="0.3158" stop-color="#7acc5e"/><stop offset="0.3228" stop-color="#78cc5f"/><stop offset="0.3298" stop-color="#77cc5f"/><stop offset="0.3368" stop-color="#6dcd67"/><stop offset="0.3439" stop-color="#72cd63"/><stop offset="0.3509" stop-color="#7acc5e"/><stop offset="0.3579" stop-color="#70cd65"/><stop offset="0.3649" stop-color="#7acc5d"/><stop offset="0.3719" stop-color="#72cd63"/><stop offset="0.3789" stop-color="#73cd62"/><stop offset="0.3860" stop-color="#6dcd68"/><stop offset="0.3930" stop-color="#6ccd68"/><stop offset="0.4000" stop-color="#73cd63"/><stop offset="0.4070" stop-color="#6acd6a"/><stop offset="0.4140" stop-color="#6bcd69"/><stop offset="0.4211" stop-color="#71cd64"/><stop offset="0.4281" stop-color="#6dcd67"/><stop offset="0.4351" stop-color="#69cd6b"/><stop offset="0.4421" stop-color="#62cd70"/><stop offset="0.4491" stop-color="#61cd71"/><stop offset="0.4561" stop-color="#6acd6a"/><stop offset="0.4632" stop-color="#76cc60"/><stop offset="0.4702" stop-color="#71cd64"/><stop offset="0.4772" stop-color="#73cd62"/><stop offset="0.4842" stop-color="#68cd6b"/><stop offset="0.4912" stop-color="#6acd6a"/><stop offset="0.4982" stop-color="#5ecd74"/><stop offset="0.5053" stop-color="#55cc7b"/><stop offset="0.5123" stop-color="#65cd6e"/><stop offset="0.5193" stop-color="#67cd6c"/><stop offset="0.5263" stop-color="#65cd6e"/><stop offset="0.5333" stop-color="#69cd6b"/><stop offset="0.5404" stop-color="#63cd70"/><stop offset="0.5474" stop-color="#5ccc76"/><stop offset="0.5544" stop-color="#60cd72"/><stop offset="0.5614" stop-color="#5bcc77"/><stop offset="0.5684" stop-color="#5ecd74"/><stop offset="0.5754" stop-color="#69cd6a"/><stop offset="0.5825" stop-color="#61cd72"/><stop offset="0.5895" stop-color="#5ccc76"/><stop offset="0.5965" stop-color="#6ccd68"/><stop offset="0.6035" stop-color="#55cc7b"/><stop offset="0.6105" stop-color="#5acc77"/><stop offset="0.6175" stop-color="#63cd70"/><stop offset="0.6246" stop-color="#5acc77"/><stop offset="0.6316" stop-color="#5acc77"/><stop offset="0.6386" stop-color="#61cd71"/><stop offset="0.6456" stop-color="#61cd72"/><stop offset="0.6526" stop-color="#59cc78"/><stop offset="0.6596" stop-color="#61cd72"/><stop offset="0.6667" stop-color="#57cc7a"/><stop offset="0.6737" stop-color="#58cc79"/><stop offset="0.6807" stop-color="#57cc7a"/><stop offset="0.6877" stop-color="#5acc77"/><stop offset="0.6947" stop-color="#57cc7a"/><stop offset="0.7018" stop-color="#5ccc76"/><stop offset="0.7088" stop-color="#56cc7b"/><stop offset="0.7158" stop-color="#59cc79"/><stop offset="0.7228" stop-color="#59cc78"/><stop offset="0.7298" stop-color="#58cc79"/><stop offset="0.7368" stop-color="#54cc7c"/><stop offset="0.7439" stop-color="#5fcd73"/><stop offset="0.7509" stop-color="#50cc80"/><stop offset="0.7579" stop-color="#5bcc77"/><stop offset="0.7649" stop-color="#55cc7b"/><stop offset="0.7719" stop-color="#56cc7b"/><stop offset="0.7789" stop-color="#50cc7f"/><stop offset="0.7860" stop-color="#56cc7b"/><stop offset="0.7930" stop-color="#5ecc74"/><stop offset="0.8000" stop-color="#55cc7b"/><stop offset="0.8070" stop-color="#53cc7d"/><stop offset="0.8140" stop-color="#52cc7e"/><stop offset="0.8211" stop-color="#5ccc76"/><stop offset="0.8281" stop-color="#5acc77"/><stop offset="0.8351" stop-color="#5fcd73"/><stop offset="0.8421" stop-color="#58cc79"/><stop offset="0.8491" stop-color="#55cc7c"/><stop offset="0.8561" stop-color="#59cc78"/><stop offset="0.8632" stop-color="#51cc7f"/><stop offset="0.8702" stop-color="#56cc7b"/><stop offset="0.8772" stop-color="#50cc80"/><stop offset="0.8842" stop-color="#58cc79"/><stop offset="0.8912" stop-color="#55cc7c"/><stop offset="0.8982" stop-color="#5acc77"/><stop offset="0.9053" stop-color="#51cc7f"/><stop offset="0.9123" stop-color="#57cc7a"/><stop offset="0.9193" stop-color="#53cc7d"/><stop offset="0.9263" stop-color="#4ecc81"/><stop offset="0.9333" stop-color="#5ccc76"/><stop offset="0.9404" stop-color="#62cd70"/><stop offset="0.9474" stop-color="#54cc7d"/><stop offset="0.9544" stop-color="#55cc7b"/><stop offset="0.9614" stop-color="#5bcc77"/><stop offset="0.9684" stop-color="#4dcc82"/><stop offset="0.9754" stop-color="#5acc78"/><stop offset="0.9825" stop-color="#4ccb82"/><stop offset="0.9895" stop-color="#51cc7f"/><stop offset="0.9965" stop-color="#50cc80"/><stop offset="1.0000" stop-color="#50cc80"/></linearGradient><linearGradient id="g11" x1="0" y1="0" x2="1" y2="0"><stop offset="0.0000" stop-color="#f0ba36"/><stop offset="0.0070" stop-color="#ecba33"/><stop offset="0.0140" stop-color="#debd29"/><stop offset="0.0211" stop-color="#bec32e"/><stop offset="0.0281" stop-color="#c2c22c"/><stop offset="0.0351" stop-color="#b2c635"/><stop offset="0.0421" stop-color="#b4c533"/><stop offset="0.0491" stop-color="#b8c431"/><stop offset="0.0561" stop-color="#b0c636"/><stop offset="0.0632" stop-color="#aac739"/><stop offset="0.0702" stop-color="#b2c535"/><stop offset="0.0772" stop-color="#b1c635"/><stop offset="0.0842" stop-color="#a3c83f"/><stop offset="0.0912" stop-color="#a7c73c"/><stop offset="0.0982" stop-color="#a2c83f"/><stop offset="0.1053" stop-color="#a0c841"/><stop offset="0.1123" stop-color="#96ca49"/><stop offset="0.1193" stop-color="#9ac945"/><stop offset="0.1263" stop-color="#92ca4c"/><stop offset="0.1333" stop-color="#90ca4d"/><stop offset="0.1404" stop-color="#91ca4c"/><stop offset="0.1474" stop-color="#8acb51"/><stop offset="0.1544" stop-color="#92ca4b"/><stop offset="0.1614" stop-color="#93ca4a"/><stop offset="0.1684" stop-color="#93ca4b"/><stop offset="0.1754" stop-color="#8bcb51"/><stop offset="0.1825" stop-color="#90ca4d"/><stop offset="0.1895" stop-color="#93ca4b"/><stop offset="0.1965" stop-color="#81cc58"/><stop offset="0.2035" stop-color="#7ecc5b"/><stop offset="0.2105" stop-color="#89cb53"/><stop offset="0.2175" stop-color="#8ccb50"/><stop offset="0.2246" stop-color="#84cc57"/><stop offset="0.2316" stop-color="#88cb53"/><stop offset="0.2386" stop-color="#82cc57"/><stop offset="0.2456" stop-color="#81cc58"/><stop offset="0.2526" stop-color="#80cc59"/><stop offset="0.2596" stop-color="#7bcc5d"/><stop offset="0.2667" stop-color="#87cb54"/><stop offset="0.2737" stop-color="#81cc58"/><stop offset="0.2807" stop-color="#78cc5f"/><stop offset="0.2877" stop-color="#79cc5e"/><stop offset="0.2947" stop-color="#7dcc5c"/><stop offset="0.3018" stop-color="#71cd64"/><stop offset="0.3088" stop-color="#77cc60"/><stop offset="0.3158" stop-color="#7ccc5c"/><stop offset="0.3228" stop-color="#7acc5d"/><stop offset="0.3298" stop-color="#7acc5e"/><stop offset="0.3368" stop-color="#6fcd66"/><stop offset="0.3439" stop-color="#74cc62"/><stop offset="0.3509" stop-color="#7ccc5c"/><stop offset="0.3579" stop-color="#72cd63"/><stop offset="0.3649" stop-color="#7ccc5c"/><stop offset="0.3719" stop-color="#75cc62"/><stop offset="0.3789" stop-color="#76cc61"/><stop offset="0.3860" stop-color="#6fcd66"/><stop offset="0.3930" stop-color="#6ecd67"/><stop offset="0.4000" stop-color="#75cc61"/><stop offset="0.4070" stop-color="#6ccd68"/><stop offset="0.4140" stop-color="#6dcd67"/><stop offset="0.4211" stop-color="#74cc62"/><stop offset="0.4281" stop-color="#6fcd65"/><stop offset="0.4351" stop-color="#6bcd69"/><stop offset="0.4421" stop-color="#64cd6f"/><stop offset="0.4491" stop-color="#63cd70"/><stop offset="0.4561" stop-color="#6ccd68"/><stop offset="0.4632" stop-color="#78cc5f"/><stop offset="0.4702" stop-color="#73cd62"/><stop offset="0.4772" stop-color="#76cc61"/><stop offset="0.4842" stop-color="#6acd6a"/><stop offset="0.4912" stop-color="#6ccd68"/><stop offset="0.4982" stop-color="#60cd72"/><stop offset="0.5053" stop-color="#57cc7a"/><stop offset="0.5123" stop-color="#67cd6c"/><stop offset="0.5193" stop-color="#6acd6a"/><stop offset="0.5263" stop-color="#67cd6c"/><stop offset="0.5333" stop-color="#6bcd69"/><stop offset="0.5404" stop-color="#65cd6e"/><stop offset="0.5474" stop-color="#5ecc74"/><stop offset="0.5544" stop-color="#62cd71"/><stop offset="0.5614" stop-color="#5ccc75"/><stop offset="0.5684" stop-color="#60cd72"/><stop offset="0.5754" stop-color="#6ccd69"/><stop offset="0.5825" stop-color="#63cd70"/><stop offset="0.5895" stop-color="#5ecc74"/><stop offset="0.5965" stop-color="#6fcd66"/><stop offset="0.6035" stop-color="#57cc7a"/><stop offset="0.6105" stop-color="#5ccc76"/><stop offset="0.6175" stop-color="#65cd6e"/><stop offset="0.6246" stop-color="#5ccc75"/><stop offset="0.6316" stop-color="#5ccc76"/><stop offset="0.6386" stop-color="#63cd6f"/><stop offset="0.6456" stop-color="#63cd70"/><stop offset="0.6526" stop-color="#5bcc77"/><stop offset="0.6596" stop-color="#63cd70"/><stop offset="0.6667" stop-color="#59cc78"/><stop offset="0.6737" stop-color="#5acc77"/><stop offset="0.6807" stop-color="#59cc78"/><stop offset="0.6877" stop-color="#5ccc75"/><stop offset="0.6947" stop-color="#59cc78"/><stop offset="0.7018" stop-color="#5ecc74"/><stop offset="0.7088" stop-color="#58cc79"/><stop offset="0.7158" stop-color="#5bcc77"/><stop offset="0.7228" stop-color="#5bcc76"/><stop offset="0.7298" stop-color="#5acc78"/><stop offset="0.7368" stop-color="#56cc7b"/><stop offset="0.7439" stop-color="#61cd71"/><stop offset="0.7509" stop-color="#52cc7e"/><stop offset="0.7579" stop-color="#5dcc75"/><stop offset="0.7649" stop-color="#57cc7a"/><stop offset="0.7719" stop-color="#58cc79"/><stop offset="0.7789" stop-color="#52cc7e"/><stop offset="0.7860" stop-color="#58cc79"/><stop offset="0.7930" stop-color="#5fcd73"/><stop offset="0.8000" stop-color="#57cc7a"/><stop offset="0.8070" stop-color="#55cc7c"/><stop offset="0.8140" stop-color="#54cc7d"/><stop offset="0.8211" stop-color="#5ecd74"/><stop offset="0.8281" stop-color="#5ccc76"/><stop offset="0.8351" stop-color="#61cd71"/><stop offset="0.8421" stop-color="#5acc77"/><stop offset="0.8491" stop-color="#57cc7a"/><stop offset="0.8561" stop-color="#5bcc77"/><stop offset="0.8632" stop-color="#53cc7e"/><stop offset="0.8702" stop-color="#58cc79"/><stop offset="0.8772" stop-color="#52cc7e"/><stop offset="0.8842" stop-color="#5acc77"/><stop offset="0.8912" stop-color="#56cc7a"/><stop offset="0.8982" stop-color="#5ccc76"/><stop offset="0.9053" stop-color="#53cc7d"/><stop offset="0.9123" stop-color="#59cc78"/><stop offset="0.9193" stop-color="#55cc7b"/><stop offset="0.9263" stop-color="#50cc7f"/><stop offset="0.9333" stop-color="#5ecc74"/><stop offset="0.9404" stop-color="#64cd6e"/><stop offset="0.9474" stop-color="#56cc7b"/><stop offset="0.9544" stop-color="#57cc7a"/><stop offset="0.9614" stop-color="#5dcc75"/><stop offset="0.9684" stop-color="#4fcc80"/><stop offset="0.9754" stop-color="#5bcc76"/><stop offset="0.9825" stop-color="#4ecc81"/><stop offset="0.9895" stop-color="#53cc7e"/><stop offset="0.9965" stop-color="#52cc7e"/><stop offset="1.0000" stop-color="#51cc7e"/></linearGradient><linearGradient id="g12" x1="0" y1="0" x2="1" y2="0"><stop offset="0.0000" stop-color="#f0ba36"/><stop offset="0.0070" stop-color="#ecba33"/><stop offset="0.0140" stop-color="#debd29"/><stop offset="0.0211" stop-color="#bfc32d"/><stop offset="0.0281" stop-color="#c4c22a"/><stop offset="0.0351" stop-color="#b4c534"/><stop offset="0.0421" stop-color="#b6c532"/><stop offset="0.0491" stop-color="#bac430"/><stop offset="0.0561" stop-color="#b2c635"/><stop offset="0.0632" stop-color="#acc738"/><stop offset="0.0702" stop-color="#b4c533"/><stop offset="0.0772" stop-color="#b3c534"/><stop offset="0.0842" stop-color="#a5c83d"/><stop offset="0.0912" stop-color="#aac73a"/><stop offset="0.0982" stop-color="#a4c83e"/><stop offset="0.1053" stop-color="#a2c83f"/><stop offset="0.1123" stop-color="#98ca47"/><stop offset="0.1193" stop-color="#9cc943"/><stop offset="0.1263" stop-color="#94ca4a"/><stop offset="0.1333" stop-color="#92ca4b"/><stop offset="0.1404" stop-color="#94ca4a"/><stop offset="0.1474" stop-color="#8dcb50"/><stop offset="0.1544" stop-color="#95ca49"/><stop offset="0.1614" stop-color="#96ca49"/><stop offset="0.1684" stop-color="#95ca49"/><stop offset="0.1754" stop-color="#8dcb4f"/><stop offset="0.1825" stop-color="#92ca4c"/><stop offset="0.1895" stop-color="#95ca49"/><stop offset="0.1965" stop-color="#84cc56"/><stop offset="0.2035" stop-color="#80cc59"/><stop offset="0.2105" stop-color="#8bcb51"/><stop offset="0.2175" stop-color="#8ecb4f"/><stop offset="0.2246" stop-color="#86cb55"/><stop offset="0.2316" stop-color="#8acb52"/><stop offset="0.2386" stop-color="#84cb56"/><stop offset="0.2456" stop-color="#83cc57"/><stop offset="0.2526" stop-color="#82cc58"/><stop offset="0.2596" stop-color="#7ecc5b"/><stop offset="0.2667" stop-color="#89cb52"/><stop offset="0.2737" stop-color="#84cc56"/><stop offset="0.2807" stop-color="#7bcc5d"/><stop offset="0.2877" stop-color="#7bcc5d"/><stop offset="0.2947" stop-color="#7fcc5a"/><stop offset="0.3018" stop-color="#74cd62"/><stop offset="0.3088" stop-color="#79cc5e"/><stop offset="0.3158" stop-color="#7ecc5a"/><stop offset="0.3228" stop-color="#7dcc5c"/><stop offset="0.3298" stop-color="#7ccc5c"/><stop offset="0.3368" stop-color="#71cd64"/><stop offset="0.3439" stop-color="#77cc60"/><stop offset="0.3509" stop-color="#7ecc5b"/><stop offset="0.3579" stop-color="#74cc62"/><stop offset="0.3649" stop-color="#7fcc5a"/><stop offset="0.3719" stop-color="#77cc60"/><stop offset="0.3789" stop-color="#78cc5f"/><stop offset="0.3860" stop-color="#71cd64"/><stop offset="0.3930" stop-color="#70cd65"/><stop offset="0.4000" stop-color="#77cc60"/><stop offset="0.4070" stop-color="#6fcd66"/><stop offset="0.4140" stop-color="#70cd65"/><stop offset="0.4211" stop-color="#76cc60"/><stop offset="0.4281" stop-color="#72cd64"/><stop offset="0.4351" stop-color="#6dcd68"/><stop offset="0.4421" stop-color="#66cd6d"/><stop offset="0.4491" stop-color="#65cd6e"/><stop offset="0.4561" stop-color="#6ecd66"/><stop offset="0.4632" stop-color="#7bcc5d"/><stop offset="0.4702" stop-color="#76cc61"/><stop offset="0.4772" stop-color="#78cc5f"/><stop offset="0.4842" stop-color="#6dcd68"/><stop offset="0.4912" stop-color="#6ecd66"/><stop offset="0.4982" stop-color="#62cd70"/><stop offset="0.5053" stop-color="#59cc78"/><stop offset="0.5123" stop-color="#69cd6b"/><stop offset="0.5193" stop-color="#6ccd69"/><stop offset="0.5263" stop-color="#69cd6b"/><stop offset="0.5333" stop-color="#6dcd67"/><stop offset="0.5404" stop-color="#67cd6c"/><stop offset="0.5474" stop-color="#60cd73"/><stop offset="0.5544" stop-color="#64cd6f"/><stop offset="0.5614" stop-color="#5ecd74"/><stop offset="0.5684" stop-color="#62cd70"/><stop offset="0.5754" stop-color="#6ecd67"/><stop offset="0.5825" stop-color="#65cd6e"/><stop offset="0.5895" stop-color="#60cd72"/><stop offset="0.5965" stop-color="#71cd64"/><stop offset="0.6035" stop-color="#59cc78"/><stop offset="0.6105" stop-color="#5ecd74"/><stop offset="0.6175" stop-color="#67cd6c"/><stop offset="0.6246" stop-color="#5ecd74"/><stop offset="0.6316" stop-color="#5ecc74"/><stop offset="0.6386" stop-color="#65cd6e"/><stop offset="0.6456" stop-color="#65cd6e"/><stop offset="0.6526" stop-color="#5dcc75"/><stop offset="0.6596" stop-color="#65cd6e"/><stop offset="0.6667" stop-color="#5bcc77"/><stop offset="0.6737" stop-color="#5ccc76"/><stop offset="0.6807" stop-color="#5bcc76"/><stop offset="0.6877" stop-color="#5ecd74"/><stop offset="0.6947" stop-color="#5bcc77"/><stop offset="0.7018" stop-color="#60cd73"/><stop offset="0.7088" stop-color="#5acc77"/><stop offset="0.7158" stop-color="#5ccc75"/><stop offset="0.7228" stop-color="#5dcc75"/><stop offset="0.7298" stop-color="#5ccc76"/><stop offset="0.7368" stop-color="#58cc79"/><stop offset="0.7439" stop-color="#63cd6f"/><stop offset="0.7509" stop-color="#54cc7d"/><stop offset="0.7579" stop-color="#5fcd73"/><stop offset="0.7649" stop-color="#59cc78"/><stop offset="0.7719" stop-color="#5acc78"/><stop offset="0.7789" stop-color="#54cc7c"/><stop offset="0.7860" stop-color="#5acc78"/><stop offset="0.7930" stop-color="#61cd71"/><stop offset="0.8000" stop-color="#59cc78"/><stop offset="0.8070" stop-color="#57cc7a"/><stop offset="0.8140" stop-color="#56cc7b"/><stop offset="0.8211" stop-color="#60cd72"/><stop offset="0.8281" stop-color="#5ecc74"/><stop offset="0.8351" stop-color="#63cd70"/><stop offset="0.8421" stop-color="#5ccc76"/><stop offset="0.8491" stop-color="#59cc78"/><stop offset="0.8561" stop-color="#5dcc75"/><stop offset="0.8632" stop-color="#55cc7c"/><stop offset="0.8702" stop-color="#5acc77"/><stop offset="0.8772" stop-color="#54cc7c"/><stop offset="0.8842" stop-color="#5ccc75"/><stop offset="0.8912" stop-color="#58cc79"/><stop offset="0.8982" stop-color="#5ecc74"/><stop offset="0.9053" stop-color="#55cc7c"/><stop offset="0.9123" stop-color="#5bcc77"/><stop offset="0.9193" stop-color="#57cc7a"/><stop offset="0.9263" stop-color="#52cc7e"/><stop offset="0.9333" stop-color="#60cd72"/><stop offset="0.9404" stop-color="#66cd6d"/><stop offset="0.9474" stop-color="#57cc7a"/><stop offset="0.9544" stop-color="#59cc78"/><stop offset="0.9614" stop-color="#5fcd73"/><stop offset="0.9684" stop-color="#51cc7f"/><stop offset="0.9754" stop-color="#5dcc74"/><stop offset="0.9825" stop-color="#50cc7f"/><stop offset="0.9895" stop-color="#54cc7c"/><stop offset="0.9965" stop-color="#53cc7d"/><stop offset="1.0000" stop-color="#53cc7d"/></linearGradient><linearGradient id="cb" x1="0" y1="0" x2="0" y2="1"><stop offset="0.0000" stop-color="#f9fb15"/><stop offset="0.0159" stop-color="#f7f51b"/><stop offset="0.0317" stop-color="#f6ef20"/><stop offset="0.0476" stop-color="#f5e924"/><stop offset="0.0635" stop-color="#f5e327"/><stop offset="0.0794" stop-color="#f7dc2a"/><stop offset="0.0952" stop-color="#fad62d"/><stop offset="0.1111" stop-color="#fccf30"/><stop offset="0.1270" stop-color="#fec934"/><stop offset="0.1429" stop-color="#fec338"/><stop offset="0.1587" stop-color="#febe3c"/><stop offset="0.1746" stop-color="#f8ba3d"/><stop offset="0.1905" stop-color="#f0ba36"/><stop offset="0.2063" stop-color="#e6bb2d"/><stop offset="0.2222" stop-color="#dcbd29"/><stop offset="0.2381" stop-color="#d1bf27"/><stop offset="0.2540" stop-color="#c5c22a"/><stop offset="0.2698" stop-color="#b9c431"/><stop offset="0.2857" stop-color="#abc739"/><stop offset="0.3016" stop-color="#9dc943"/><stop offset="0.3175" stop-color="#8fcb4e"/><stop offset="0.3333" stop-color="#81cc59"/><stop offset="0.3492" stop-color="#72cd64"/><stop offset="0.3651" stop-color="#64cd6f"/><stop offset="0.3810" stop-color="#57cc7a"/><stop offset="0.3968" stop-color="#4acb84"/><stop offset="0.4127" stop-color="#3fca8e"/><stop offset="0.4286" stop-color="#37c897"/><stop offset="0.4444" stop-color="#31c69f"/><stop offset="0.4603" stop-color="#2cc4a7"/><stop offset="0.4762" stop-color="#24c1ae"/><stop offset="0.4921" stop-color="#19bfb6"/><stop offset="0.5079" stop-color="#0bbdbd"/><stop offset="0.5238" stop-color="#02bac3"/><stop offset="0.5397" stop-color="#01b8ca"/><stop offset="0.5556" stop-color="#08b5d0"/><stop offset="0.5714" stop-color="#12b1d6"/><stop offset="0.5873" stop-color="#18addb"/><stop offset="0.6032" stop-color="#1ca9df"/><stop offset="0.6190" stop-color="#20a5e3"/><stop offset="0.6349" stop-color="#23a0e5"/><stop offset="0.6508" stop-color="#259be8"/><stop offset="0.6667" stop-color="#2797eb"/><stop offset="0.6825" stop-color="#2b91ef"/><stop offset="0.6984" stop-color="#2d8cf3"/><stop offset="0.7143" stop-color="#2e87f7"/><stop offset="0.7302" stop-color="#2f81fa"/><stop offset="0.7460" stop-color="#327cfc"/><stop offset="0.7619" stop-color="#3875fe"/><stop offset="0.7778" stop-color="#3e6fff"/><stop offset="0.7937" stop-color="#4269fe"/><stop offset="0.8095" stop-color="#4563fd"/><stop offset="0.8254" stop-color="#465efb"/><stop offset="0.8413" stop-color="#4758f8"/><stop offset="0.8571" stop-color="#4852f4"/><stop offset="0.8730" stop-color="#484df0"/><stop offset="0.8889" stop-color="#4747eb"/><stop offset="0.9048" stop-color="#4741e5"/><stop offset="0.9206" stop-color="#463cde"/><stop offset="0.9365" stop-color="#4537d5"/><stop offset="0.9524" stop-color="#4332cb"/><stop offset="0.9683" stop-color="#422ec0"/><stop offset="0.9841" stop-color="#402ab4"/><stop offset="1.0000" stop-color="#3e26a8"/></linearGradient></defs>
<rect x="403.0" y="14.80" width="228.0" height="52.20" fill="url(#g1)"/>
<rect x="407.5" y="14.8" width="223.5" height="52.2" fill="url(#ovA)"/>
<rect x="403.0" y="66.30" width="228.0" height="11.40" fill="url(#g2)"/>
<rect x="403.0" y="77.00" width="228.0" height="10.70" fill="url(#g3)"/>
<rect x="403.0" y="87.00" width="228.0" height="9.40" fill="url(#g4)"/>
<rect x="403.0" y="14.8" width="228.0" height="81.60" fill="none" stroke="#6e6e6e" stroke-width="0.6"/>
<rect x="403.0" y="130.60" width="228.0" height="9.70" fill="url(#g5)"/>
<rect x="403.0" y="139.60" width="228.0" height="12.10" fill="url(#g6)"/>
<rect x="403.0" y="151.00" width="228.0" height="9.70" fill="url(#g7)"/>
<rect x="403.0" y="160.00" width="228.0" height="10.70" fill="url(#g8)"/>
<rect x="403.0" y="170.00" width="228.0" height="10.70" fill="url(#g9)"/>
<rect x="403.0" y="180.00" width="228.0" height="10.70" fill="url(#g10)"/>
<rect x="403.0" y="190.00" width="228.0" height="10.70" fill="url(#g11)"/>
<rect x="403.0" y="200.00" width="228.0" height="12.50" fill="url(#g12)"/>
<rect x="403.0" y="130.6" width="228.0" height="81.90" fill="none" stroke="#6e6e6e" stroke-width="0.6"/>
<rect x="643" y="14.9" width="14" height="82.10" fill="url(#cb)" stroke="#6e6e6e" stroke-width="0.6"/>
<rect x="643" y="130.6" width="14" height="82.40" fill="url(#cb)" stroke="#6e6e6e" stroke-width="0.6"/>
<text x="400.2" y="35.40" text-anchor="end" font-size="7.2" fill="#262626">15000</text>
<path d="M403.0 32.00h2M631.0 32.00h-2" stroke="#6e6e6e" stroke-width="0.6"/>
<text x="400.2" y="58.80" text-anchor="end" font-size="7.2" fill="#262626">10000</text>
<path d="M403.0 55.40h2M631.0 55.40h-2" stroke="#6e6e6e" stroke-width="0.6"/>
<text x="400.2" y="81.70" text-anchor="end" font-size="7.2" fill="#262626">5000</text>
<path d="M403.0 78.30h2M631.0 78.30h-2" stroke="#6e6e6e" stroke-width="0.6"/>
<text x="403.00" y="106.6" text-anchor="middle" font-size="7.2" fill="#262626">0</text>
<path d="M403.00 96.4v-2M403.00 14.8v2" stroke="#6e6e6e" stroke-width="0.6"/>
<text x="448.60" y="106.6" text-anchor="middle" font-size="7.2" fill="#262626">0.2</text>
<path d="M448.60 96.4v-2M448.60 14.8v2" stroke="#6e6e6e" stroke-width="0.6"/>
<text x="494.20" y="106.6" text-anchor="middle" font-size="7.2" fill="#262626">0.4</text>
<path d="M494.20 96.4v-2M494.20 14.8v2" stroke="#6e6e6e" stroke-width="0.6"/>
<text x="539.80" y="106.6" text-anchor="middle" font-size="7.2" fill="#262626">0.6</text>
<path d="M539.80 96.4v-2M539.80 14.8v2" stroke="#6e6e6e" stroke-width="0.6"/>
<text x="585.40" y="106.6" text-anchor="middle" font-size="7.2" fill="#262626">0.8</text>
<path d="M585.40 96.4v-2M585.40 14.8v2" stroke="#6e6e6e" stroke-width="0.6"/>
<text x="631.00" y="106.6" text-anchor="middle" font-size="7.2" fill="#262626">1</text>
<path d="M631.00 96.4v-2M631.00 14.8v2" stroke="#6e6e6e" stroke-width="0.6"/>
<text x="517.00" y="116.6" text-anchor="middle" font-size="8.3" fill="#262626">Normalized Frequency (×π radians/sample)</text>
<text transform="translate(375.0 55.60) rotate(-90)" text-anchor="middle" font-size="7.4" fill="#262626">Samples</text>
<text x="660.3" y="18.40" font-size="6.9" fill="#262626">100</text>
<path d="M657 15.00h-1.6" stroke="#6e6e6e" stroke-width="0.6"/>
<text x="660.3" y="34.20" font-size="6.9" fill="#262626">50</text>
<path d="M657 30.80h-1.6" stroke="#6e6e6e" stroke-width="0.6"/>
<text x="660.3" y="50.10" font-size="6.9" fill="#262626">0</text>
<path d="M657 46.70h-1.6" stroke="#6e6e6e" stroke-width="0.6"/>
<text x="660.3" y="66.00" font-size="6.9" fill="#262626">-50</text>
<path d="M657 62.60h-1.6" stroke="#6e6e6e" stroke-width="0.6"/>
<text x="660.3" y="81.90" font-size="6.9" fill="#262626">-100</text>
<path d="M657 78.50h-1.6" stroke="#6e6e6e" stroke-width="0.6"/>
<text x="660.3" y="97.80" font-size="6.9" fill="#262626">-150</text>
<path d="M657 94.40h-1.6" stroke="#6e6e6e" stroke-width="0.6"/>
<text transform="translate(682.4 56.2) rotate(-90)" text-anchor="middle" font-size="6.3" fill="#262626">Power/frequency (dB/(rad/sample))</text>
<text x="400.2" y="150.90" text-anchor="end" font-size="7.2" fill="#262626">15000</text>
<path d="M403.0 147.50h2M631.0 147.50h-2" stroke="#6e6e6e" stroke-width="0.6"/>
<text x="400.2" y="174.30" text-anchor="end" font-size="7.2" fill="#262626">10000</text>
<path d="M403.0 170.90h2M631.0 170.90h-2" stroke="#6e6e6e" stroke-width="0.6"/>
<text x="400.2" y="197.90" text-anchor="end" font-size="7.2" fill="#262626">5000</text>
<path d="M403.0 194.50h2M631.0 194.50h-2" stroke="#6e6e6e" stroke-width="0.6"/>
<text x="403.00" y="222.0" text-anchor="middle" font-size="7.2" fill="#262626">0</text>
<path d="M403.00 212.5v-2M403.00 130.6v2" stroke="#6e6e6e" stroke-width="0.6"/>
<text x="448.60" y="222.0" text-anchor="middle" font-size="7.2" fill="#262626">0.2</text>
<path d="M448.60 212.5v-2M448.60 130.6v2" stroke="#6e6e6e" stroke-width="0.6"/>
<text x="494.20" y="222.0" text-anchor="middle" font-size="7.2" fill="#262626">0.4</text>
<path d="M494.20 212.5v-2M494.20 130.6v2" stroke="#6e6e6e" stroke-width="0.6"/>
<text x="539.80" y="222.0" text-anchor="middle" font-size="7.2" fill="#262626">0.6</text>
<path d="M539.80 212.5v-2M539.80 130.6v2" stroke="#6e6e6e" stroke-width="0.6"/>
<text x="585.40" y="222.0" text-anchor="middle" font-size="7.2" fill="#262626">0.8</text>
<path d="M585.40 212.5v-2M585.40 130.6v2" stroke="#6e6e6e" stroke-width="0.6"/>
<text x="631.00" y="222.0" text-anchor="middle" font-size="7.2" fill="#262626">1</text>
<path d="M631.00 212.5v-2M631.00 130.6v2" stroke="#6e6e6e" stroke-width="0.6"/>
<text x="517.00" y="232.6" text-anchor="middle" font-size="8.3" fill="#262626">Normalized Frequency (×π radians/sample)</text>
<text transform="translate(375.0 171.55) rotate(-90)" text-anchor="middle" font-size="7.4" fill="#262626">Samples</text>
<text x="660.3" y="141.70" font-size="6.9" fill="#262626">50</text>
<path d="M657 138.30h-1.6" stroke="#6e6e6e" stroke-width="0.6"/>
<text x="660.3" y="159.80" font-size="6.9" fill="#262626">0</text>
<path d="M657 156.40h-1.6" stroke="#6e6e6e" stroke-width="0.6"/>
<text x="660.3" y="178.10" font-size="6.9" fill="#262626">-50</text>
<path d="M657 174.70h-1.6" stroke="#6e6e6e" stroke-width="0.6"/>
<text x="660.3" y="196.40" font-size="6.9" fill="#262626">-100</text>
<path d="M657 193.00h-1.6" stroke="#6e6e6e" stroke-width="0.6"/>
<text x="660.3" y="214.70" font-size="6.9" fill="#262626">-150</text>
<path d="M657 211.30h-1.6" stroke="#6e6e6e" stroke-width="0.6"/>
<text transform="translate(682.4 171.7) rotate(-90)" text-anchor="middle" font-size="6.3" fill="#262626">Power/frequency (dB/(rad/sample))</text>
</g></svg>
</body></html>
